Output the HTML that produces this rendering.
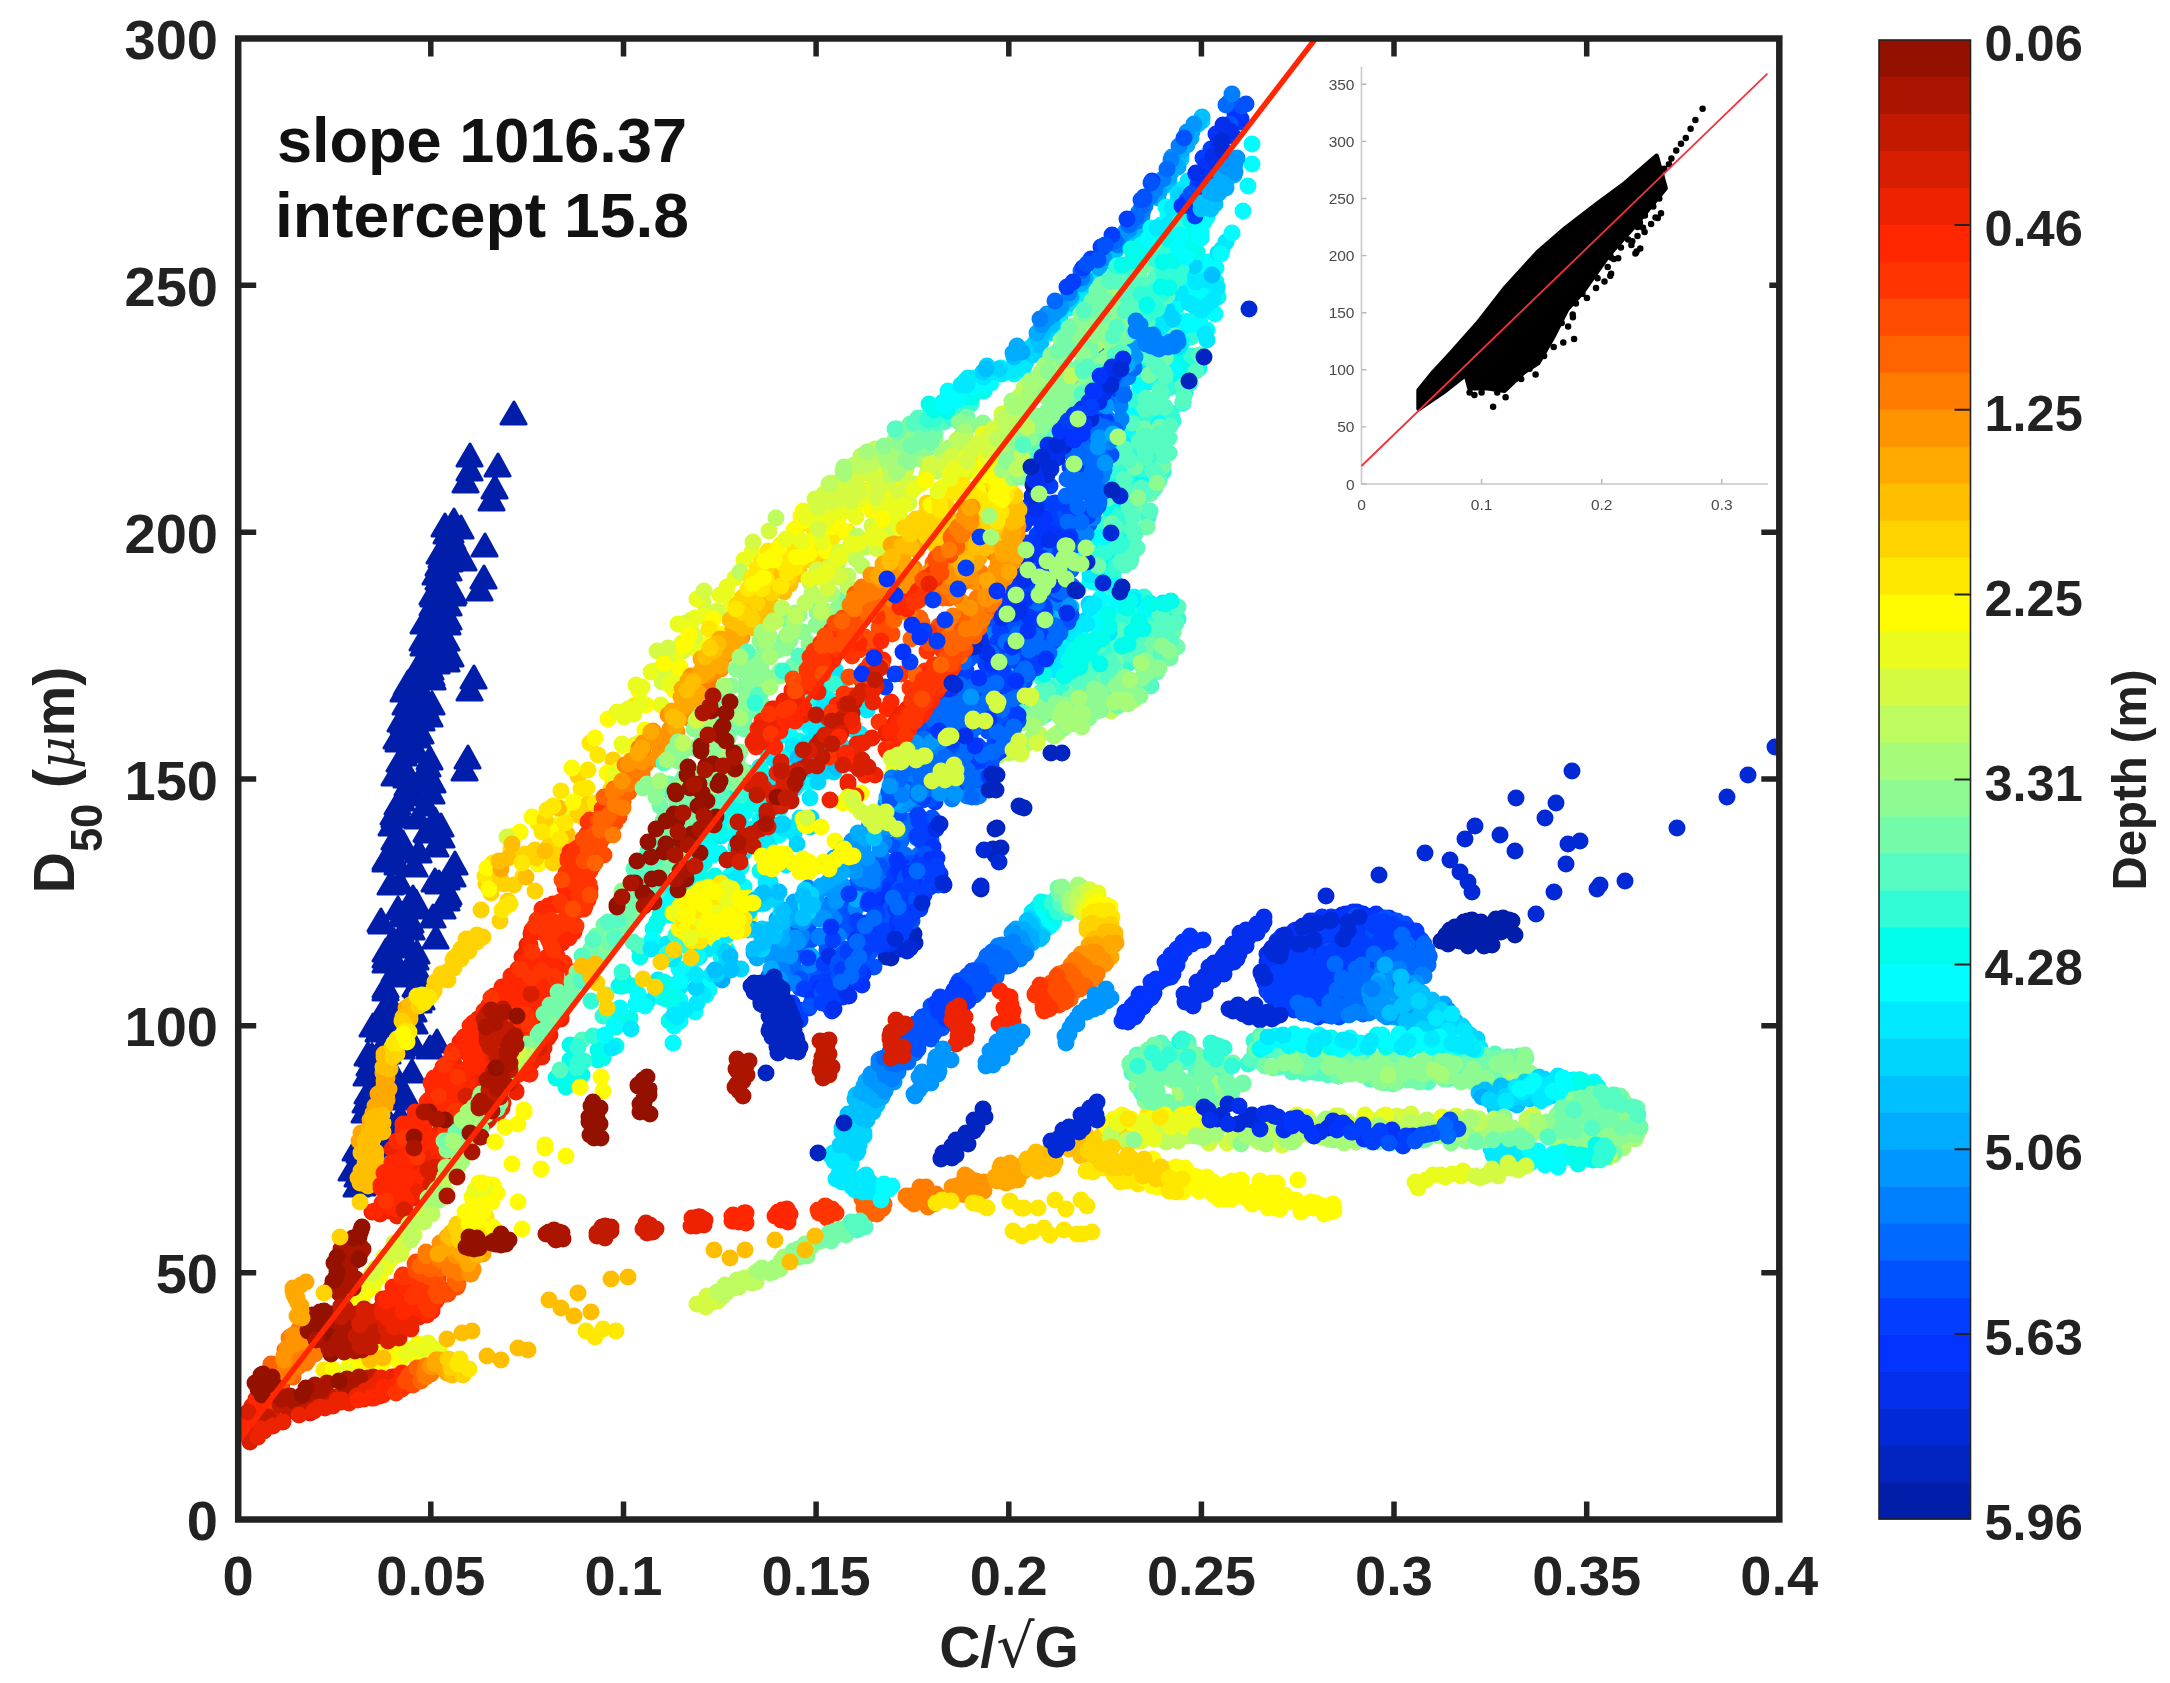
<!DOCTYPE html><html><head><meta charset="utf-8"><title>D50 vs C/sqrt(G)</title>
<style>html,body{margin:0;padding:0;background:#fff}svg{display:block;filter:blur(0.7px)}text{font-family:"Liberation Sans",sans-serif}</style></head><body>
<svg width="2170" height="1683" viewBox="0 0 2170 1683">
<rect width="2170" height="1683" fill="#fff"/>
<defs><clipPath id="cp"><rect x="238.2" y="38.5" width="1541.1" height="1481.0"/></clipPath></defs>
<g fill="none" stroke-linecap="round" stroke-width="17" clip-path="url(#cp)"><path fill="#011eaa" stroke="#011eaa" stroke-width="3" stroke-linejoin="round" d="M357 1174l12 22h-25zM363 1173l12 22h-25zM364 1170l12 22h-25zM358 1164l12 22h-25zM372 1165l12 22h-25zM369 1161l12 22h-25zM365 1156l12 22h-25zM375 1157l12 22h-25zM361 1149l12 22h-25zM363 1145l12 22h-25zM368 1143l12 22h-25zM360 1140l12 22h-25zM371 1137l12 22h-25zM372 1135l12 22h-25zM380 1133l12 22h-25zM376 1129l12 22h-25zM370 1124l12 22h-25zM374 1124l12 22h-25zM377 1121l12 22h-25zM387 1119l12 22h-25zM373 1111l12 22h-25zM383 1111l12 22h-25zM397 1111l12 22h-25zM365 1100l12 22h-25zM401 1106l12 22h-25zM378 1098l12 22h-25zM382 1097l12 22h-25zM366 1090l12 22h-25zM374 1088l12 22h-25zM368 1081l12 22h-25zM403 1087l12 22h-25zM378 1077l12 22h-25zM405 1082l12 22h-25zM374 1072l12 22h-25zM389 1072l12 22h-25zM367 1063l12 22h-25zM394 1066l12 22h-25zM393 1062l12 22h-25zM370 1053l12 22h-25zM412 1060l12 22h-25zM389 1052l12 22h-25zM372 1044l12 22h-25zM377 1047l12 22h-25zM368 1043l12 22h-25zM388 1041l12 22h-25zM402 1036l12 22h-25zM388 1034l12 22h-25zM414 1033l12 22h-25zM395 1028l12 22h-25zM388 1025l12 22h-25zM379 1019l12 22h-25zM398 1017l12 22h-25zM373 1014l12 22h-25zM415 1011l12 22h-25zM390 1009l12 22h-25zM399 1005l12 22h-25zM384 1002l12 22h-25zM414 999l12 22h-25zM409 996l12 22h-25zM391 993l12 22h-25zM388 991l12 22h-25zM419 990l12 22h-25zM422 987l12 22h-25zM386 978l12 22h-25zM386 975l12 22h-25zM418 976l12 22h-25zM416 974l12 22h-25zM423 972l12 22h-25zM402 964l12 22h-25zM395 959l12 22h-25zM399 956l12 22h-25zM417 957l12 22h-25zM386 950l12 22h-25zM386 945l12 22h-25zM416 947l12 22h-25zM386 939l12 22h-25zM417 941l12 22h-25zM405 935l12 22h-25zM392 930l12 22h-25zM394 929l12 22h-25zM405 928l12 22h-25zM402 922l12 22h-25zM436 926l12 22h-25zM412 917l12 22h-25zM382 911l12 22h-25zM381 909l12 22h-25zM411 910l12 22h-25zM402 904l12 22h-25zM433 905l12 22h-25zM398 897l12 22h-25zM416 896l12 22h-25zM443 896l12 22h-25zM416 890l12 22h-25zM413 886l12 22h-25zM447 888l12 22h-25zM448 884l12 22h-25zM449 882l12 22h-25zM391 872l12 22h-25zM400 871l12 22h-25zM439 871l12 22h-25zM435 869l12 22h-25zM447 867l12 22h-25zM453 864l12 22h-25zM455 852l12 22h-25zM415 854l12 22h-25zM398 852l12 22h-25zM386 849l12 22h-25zM386 847l12 22h-25zM419 840l12 22h-25zM436 834l12 22h-25zM403 837l12 22h-25zM403 831l12 22h-25zM442 825l12 22h-25zM395 827l12 22h-25zM428 820l12 22h-25zM427 819l12 22h-25zM441 814l12 22h-25zM392 813l12 22h-25zM435 808l12 22h-25zM418 806l12 22h-25zM395 805l12 22h-25zM394 802l12 22h-25zM399 799l12 22h-25zM426 793l12 22h-25zM398 792l12 22h-25zM402 788l12 22h-25zM415 783l12 22h-25zM432 781l12 22h-25zM410 776l12 22h-25zM408 773l12 22h-25zM433 770l12 22h-25zM422 767l12 22h-25zM407 765l12 22h-25zM395 763l12 22h-25zM399 759l12 22h-25zM428 754l12 22h-25zM403 753l12 22h-25zM400 749l12 22h-25zM430 747l12 22h-25zM404 743l12 22h-25zM408 740l12 22h-25zM412 737l12 22h-25zM414 734l12 22h-25zM399 729l12 22h-25zM397 726l12 22h-25zM418 725l12 22h-25zM421 721l12 22h-25zM412 716l12 22h-25zM404 711l12 22h-25zM401 709l12 22h-25zM422 708l12 22h-25zM405 702l12 22h-25zM430 704l12 22h-25zM422 698l12 22h-25zM426 696l12 22h-25zM406 692l12 22h-25zM432 692l12 22h-25zM425 687l12 22h-25zM404 679l12 22h-25zM422 680l12 22h-25zM407 673l12 22h-25zM408 671l12 22h-25zM414 668l12 22h-25zM425 667l12 22h-25zM433 667l12 22h-25zM432 663l12 22h-25zM418 658l12 22h-25zM431 657l12 22h-25zM420 652l12 22h-25zM437 651l12 22h-25zM429 646l12 22h-25zM447 649l12 22h-25zM451 644l12 22h-25zM446 639l12 22h-25zM424 633l12 22h-25zM423 628l12 22h-25zM435 629l12 22h-25zM447 628l12 22h-25zM443 622l12 22h-25zM435 617l12 22h-25zM436 617l12 22h-25zM424 611l12 22h-25zM448 612l12 22h-25zM449 607l12 22h-25zM445 603l12 22h-25zM434 600l12 22h-25zM442 596l12 22h-25zM433 593l12 22h-25zM449 593l12 22h-25zM434 584l12 22h-25zM433 582l12 22h-25zM453 583l12 22h-25zM454 581l12 22h-25zM449 577l12 22h-25zM443 571l12 22h-25zM439 567l12 22h-25zM436 562l12 22h-25zM441 562l12 22h-25zM441 557l12 22h-25zM449 558l12 22h-25zM439 553l12 22h-25zM450 549l12 22h-25zM464 548l12 22h-25zM442 545l12 22h-25zM440 541l12 22h-25zM453 539l12 22h-25zM450 534l12 22h-25zM449 532l12 22h-25zM447 530l12 22h-25zM453 527l12 22h-25zM447 521l12 22h-25zM451 520l12 22h-25zM461 516l12 22h-25zM445 514l12 22h-25zM454 509l12 22h-25z"/><path fill="#011eaa" stroke="#011eaa" stroke-width="3" stroke-linejoin="round" d="M465 758l12 22h-25zM468 746l12 22h-25zM470 678l12 22h-25zM474 666l12 22h-25zM480 578l12 22h-25zM484 566l12 22h-25zM485 534l12 22h-25zM470 444l12 22h-25zM470 458l12 22h-25zM466 470l12 22h-25zM498 454l12 22h-25zM495 476l12 22h-25zM492 488l12 22h-25zM514 402l12 22h-25zM437 1030l12 22h-25zM430 1036l12 22h-25zM352 1158l12 22h-25zM356 1138l12 22h-25z"/><path stroke="#ffa900" d="M359 1141h0M366 1138h0M361 1133h0M368 1132h0M370 1129h0M370 1126h0M370 1120h0M372 1118h0M376 1118h0M373 1113h0M378 1111h0M375 1106h0M385 1106h0M382 1100h0M387 1100h0M378 1094h0M383 1091h0M389 1089h0M384 1086h0M384 1081h0M387 1078h0M384 1074h0M383 1073h0M410 1014h0M406 1008h0"/><path stroke="#ffbf00" d="M390 1069h0M383 1067h0M389 1061h0M384 1057h0M384 1054h0M410 1019h0M403 1017h0M410 1005h0M412 1004h0"/><path stroke="#ffd300" d="M393 1057h0M397 1054h0M392 1047h0M404 1024h0M402 1021h0M419 1006h0M432 994h0M434 991h0M434 988h0M435 985h0M435 982h0M440 980h0M448 980h0M441 974h0M447 972h0M449 971h0M454 968h0M454 967h0M453 960h0M454 958h0M461 959h0M459 953h0M461 949h0M469 951h0M469 948h0M466 939h0M468 939h0M477 942h0M477 935h0M483 937h0"/><path stroke="#ffe800" d="M394 1043h0M398 1043h0M397 1039h0M409 1032h0M406 1031h0M417 996h0M424 1003h0M422 995h0M429 998h0"/><path stroke="#fffb00" d="M407 1042h0M403 1034h0"/><path stroke="#ffbf00" d="M368 1186h0M360 1183h0M368 1182h0M358 1178h0M362 1175h0M373 1175h0M361 1171h0M371 1169h0M372 1167h0M365 1164h0M370 1162h0M376 1159h0M364 1156h0M361 1153h0M376 1152h0M370 1147h0M372 1147h0M365 1141h0M372 1141h0M373 1139h0M373 1137h0M369 1131h0M383 1132h0M382 1131h0M378 1126h0M381 1126h0M383 1123h0M372 1118h0M376 1116h0M382 1115h0"/><path stroke="#ffd300" d="M500 921h0M481 910h0M508 901h0M491 893h0M486 884h0M504 884h0"/><path stroke="#ffe800" d="M502 910h0M505 907h0M510 904h0M485 876h0M523 876h0M493 863h0M538 864h0M538 857h0M539 852h0M511 849h0M556 826h0M538 823h0"/><path stroke="#fffb00" d="M489 889h0M487 868h0M538 863h0M512 841h0M514 836h0M520 832h0M554 832h0M532 817h0M570 815h0"/><path stroke="#d4fb41" d="M507 837h0"/><path stroke="#eafb1e" d="M563 816h0"/><path stroke="#ffd300" d="M500 877h0M514 885h0M535 891h0M516 855h0M525 854h0M536 858h0M535 850h0M553 863h0M554 850h0M549 846h0M545 820h0M578 815h0M584 818h0M588 804h0M578 776h0M611 789h0M613 760h0"/><path stroke="#ffa900" d="M501 869h0"/><path stroke="#ffbf00" d="M499 861h0M526 877h0M508 858h0M512 844h0M545 851h0M567 844h0M567 834h0M559 808h0"/><path stroke="#ffe800" d="M522 863h0M542 832h0M560 839h0M547 810h0M565 823h0M553 806h0M561 791h0M595 803h0M581 789h0M587 788h0M588 770h0M613 783h0M598 755h0M590 743h0M630 761h0M635 745h0M646 739h0M634 706h0M681 695h0M685 687h0"/><path stroke="#fffb00" d="M573 802h0M572 768h0M607 773h0M619 770h0M595 738h0M623 746h0M608 719h0M645 730h0M646 705h0M639 691h0M674 690h0M705 645h0M720 634h0M710 615h0"/><path stroke="#eafb1e" d="M615 774h0M622 744h0M639 743h0M624 717h0M617 712h0M634 714h0M628 709h0M642 703h0M661 705h0M636 685h0M642 687h0M676 676h0M685 675h0M672 662h0M669 654h0M702 660h0M696 649h0M682 643h0M691 639h0M687 628h0M691 620h0M695 618h0M735 624h0M728 611h0"/><path stroke="#d4fb41" d="M662 682h0M654 671h0M668 663h0M657 651h0M683 651h0M695 636h0M686 623h0M717 611h0M703 602h0"/><path stroke="#00fceb" d="M566 1087h0M556 1078h0M563 1079h0M574 1075h0M582 1075h0M570 1060h0M570 1045h0M598 1060h0M603 1058h0M598 1050h0M601 1042h0M600 1037h0M616 1046h0M616 1027h0M614 1012h0M623 1023h0M630 1018h0M619 986h0M623 986h0M623 979h0M633 986h0M645 1004h0M640 957h0M639 948h0M656 991h0M661 997h0M653 929h0M655 927h0M669 897h0M683 943h0M693 960h0M693 953h0M695 864h0M704 863h0M711 840h0M717 923h0M720 945h0M715 835h0M727 828h0"/><path stroke="#55fbc0" d="M560 1070h0M582 1040h0M606 995h0M633 942h0M641 946h0M674 943h0"/><path stroke="#31fcd6" d="M577 1068h0M578 1062h0M584 1061h0M578 1047h0M593 1036h0M591 1001h0M603 1016h0M622 972h0M657 990h0M654 941h0M688 892h0M725 821h0M729 822h0"/><path stroke="#00e9ff" d="M612 1048h0M631 1029h0M647 1002h0M658 980h0M661 982h0M663 956h0M667 944h0M680 987h0M683 977h0M678 938h0M681 911h0M699 957h0M698 935h0M699 932h0M701 900h0M708 949h0M705 904h0M708 919h0M710 900h0M710 892h0M713 900h0M723 929h0M721 836h0M731 890h0M734 897h0M735 915h0M737 913h0"/><path stroke="#00fdff" d="M605 1035h0M614 1026h0M620 1008h0M636 1004h0M638 994h0M645 1006h0M670 985h0M668 958h0M663 909h0M672 959h0M679 933h0M682 925h0M691 963h0M685 912h0M688 906h0M695 887h0M695 872h0M704 904h0M710 852h0M719 853h0M727 950h0M729 914h0M733 920h0"/><path stroke="#00d5ff" d="M725 917h0"/><path stroke="#00fdff" d="M673 1043h0M669 1021h0M674 1026h0M652 940h0M675 1008h0M680 1021h0M676 1004h0M673 986h0M680 1000h0M680 981h0M679 969h0M663 905h0M695 1012h0M669 915h0M673 892h0M706 995h0M704 982h0M698 956h0M709 990h0M708 982h0M685 904h0M678 878h0M715 970h0M693 896h0M699 912h0M703 908h0M695 870h0M691 841h0M714 900h0M699 852h0M725 926h0M698 844h0M716 890h0M726 914h0M722 898h0M713 855h0M728 891h0M734 902h0M743 916h0M730 876h0M744 904h0M717 821h0M744 887h0M736 862h0M720 820h0M752 899h0M741 867h0M735 836h0M762 904h0M761 895h0M729 800h0M742 815h0M750 829h0M745 812h0M756 833h0M741 792h0M760 832h0M760 820h0M779 835h0M763 794h0M780 809h0M771 776h0M780 787h0M786 798h0M801 783h0M783 735h0M808 782h0M790 736h0M798 722h0M800 722h0M810 728h0M818 700h0M828 699h0M832 701h0M826 683h0M832 676h0M857 702h0"/><path stroke="#00fceb" d="M670 1020h0M666 999h0M664 982h0M675 997h0M657 922h0M660 915h0M674 956h0M658 886h0M663 884h0M664 884h0M666 883h0M682 914h0M680 879h0M676 861h0M713 973h0M683 860h0M704 919h0M694 883h0M721 957h0M721 955h0M695 869h0M728 962h0M700 877h0M692 847h0M705 879h0M710 888h0M715 876h0M702 834h0M737 904h0M714 826h0M720 833h0M736 847h0M740 832h0M732 807h0M760 871h0M731 791h0M758 844h0M747 803h0M751 796h0M767 829h0M758 805h0M766 807h0M760 767h0M767 751h0M768 745h0M788 783h0M790 754h0M799 741h0M817 687h0M825 698h0"/><path stroke="#00e9ff" d="M651 949h0M674 1015h0M677 1017h0M685 1010h0M672 959h0M697 1003h0M703 994h0M684 901h0M712 974h0M695 912h0M736 927h0M736 920h0M725 882h0M742 917h0M737 878h0M757 904h0M744 852h0M764 894h0M766 882h0M770 882h0M766 841h0M769 846h0M765 817h0M786 865h0M773 808h0M784 829h0M794 833h0M774 786h0M783 800h0M797 825h0M800 818h0M774 759h0M791 782h0M795 788h0M788 766h0M795 772h0M810 798h0M793 746h0M812 761h0M811 758h0M808 743h0M795 706h0M808 723h0M815 729h0M823 719h0M841 745h0M824 705h0M828 711h0M846 725h0M854 730h0M860 734h0M838 681h0M835 670h0M852 696h0M846 678h0M867 710h0"/><path stroke="#31fcd6" d="M667 954h0M657 893h0M676 935h0M680 925h0M687 946h0M699 901h0M701 828h0M710 817h0M741 795h0M748 773h0M758 785h0M787 721h0M805 699h0M834 684h0"/><path stroke="#00d5ff" d="M696 988h0M759 903h0M779 825h0M783 824h0M797 844h0M810 827h0M811 818h0M797 781h0M809 769h0M818 782h0M827 771h0M834 772h0M827 744h0M840 762h0M818 715h0M843 753h0M850 721h0M851 703h0"/><path stroke="#00c1ff" d="M798 758h0M836 767h0M844 762h0"/><path stroke="#00acff" d="M816 764h0"/><path stroke="#ffd300" d="M597 983h0M605 996h0M607 1008h0M643 979h0M655 987h0M661 962h0M674 950h0M691 958h0"/><path stroke="#fffb00" d="M697 923h0M698 915h0M688 898h0M684 929h0M679 910h0M718 898h0M730 900h0M726 917h0M680 906h0M673 913h0M713 896h0M705 921h0M734 918h0M733 910h0M684 932h0M720 890h0M728 922h0M687 899h0M739 912h0M728 922h0M679 929h0M702 914h0M725 922h0M707 901h0M675 914h0M690 900h0M724 916h0M708 910h0M736 898h0M686 926h0M714 909h0M694 902h0M688 927h0"/><path stroke="#ffe800" d="M691 912h0M691 919h0M683 922h0"/><path stroke="#eafb1e" d="M717 903h0M720 898h0M699 929h0M678 911h0"/><path stroke="#fffb00" d="M580 1087h0M601 1077h0M603 1091h0M524 1112h0M545 1145h0M518 1124h0"/><path stroke="#fffb00" d="M699 895h0M687 928h0M700 899h0M748 904h0M736 930h0M686 904h0M732 889h0M744 912h0M731 890h0M685 916h0M717 888h0M724 940h0M701 899h0M749 918h0M713 908h0M701 918h0M750 901h0M730 911h0M718 897h0M715 939h0M725 903h0M716 905h0M743 900h0M685 902h0M715 916h0M708 887h0M724 922h0M697 900h0M748 898h0"/><path stroke="#ffe800" d="M695 901h0M692 941h0M700 941h0M723 917h0M743 911h0M736 923h0M702 925h0M709 918h0M698 928h0M721 883h0"/><path stroke="#eafb1e" d="M707 921h0M714 913h0M704 930h0M698 918h0M690 938h0M695 894h0"/><path stroke="#fffb00" d="M765 867h0M781 854h0M803 819h0M821 827h0M843 803h0M861 793h0M835 841h0M808 873h0"/><path stroke="#eafb1e" d="M899 766h0M891 777h0M897 764h0M921 760h0M931 763h0M930 762h0M900 779h0M908 776h0M924 773h0M894 768h0M912 752h0M918 774h0M917 756h0M898 769h0M928 763h0M898 781h0"/><path stroke="#0069ff" d="M769 998h0M769 976h0M776 983h0M777 962h0M787 983h0M795 1013h0M782 937h0M796 980h0M793 964h0M796 971h0M803 975h0M804 953h0M810 978h0M822 989h0M823 959h0M820 936h0M824 940h0M830 904h0M839 919h0M839 899h0M846 924h0M848 926h0M853 934h0M849 900h0M850 902h0M853 908h0M848 869h0M854 907h0M855 865h0M859 891h0M858 869h0M866 892h0M874 876h0M870 824h0M876 876h0M872 814h0M882 881h0M886 902h0M883 859h0M884 864h0M885 863h0M892 813h0M896 845h0M897 859h0M901 841h0M905 855h0M906 830h0M906 821h0M907 825h0M909 821h0M912 824h0M915 827h0M917 838h0M919 855h0M927 790h0M929 794h0M931 840h0M932 794h0M933 771h0"/><path stroke="#0052ff" d="M773 1012h0M777 1024h0M780 1030h0M779 1024h0M783 1030h0M787 1038h0M788 1033h0M782 996h0M788 1021h0M784 1000h0M778 938h0M800 988h0M795 953h0M800 979h0M794 934h0M812 1002h0M813 992h0M812 965h0M817 989h0M808 928h0M815 967h0M811 940h0M818 976h0M819 969h0M822 973h0M827 950h0M825 938h0M822 911h0M829 942h0M833 960h0M830 933h0M834 937h0M835 936h0M836 924h0M839 910h0M847 917h0M850 926h0M848 905h0M856 920h0M856 885h0M861 897h0M873 893h0M881 896h0M880 866h0M893 873h0M892 845h0M902 892h0M899 815h0M908 866h0M911 863h0M911 865h0M921 841h0M921 822h0M923 800h0M924 826h0M932 818h0M935 799h0M936 769h0"/><path stroke="#0080ff" d="M770 995h0M770 976h0M775 999h0M776 994h0M767 930h0M777 960h0M782 970h0M786 980h0M782 936h0M794 983h0M785 935h0M794 942h0M800 940h0M802 936h0M810 965h0M808 888h0M813 910h0M819 937h0M826 961h0M823 936h0M826 908h0M834 955h0M830 911h0M834 919h0M838 936h0M839 896h0M839 886h0M844 849h0M856 908h0M858 876h0M859 869h0M864 899h0M862 879h0M863 848h0M866 837h0M872 881h0M872 867h0M874 872h0M884 843h0M887 829h0M886 804h0M891 805h0M898 880h0M896 798h0M899 832h0M902 784h0M907 804h0M913 803h0M922 784h0M925 787h0M926 765h0M929 787h0M930 772h0M934 740h0"/><path stroke="#0096ff" d="M761 951h0M771 958h0M780 980h0M776 948h0M779 954h0M779 954h0M782 947h0M790 956h0M789 948h0M783 910h0M795 938h0M798 942h0M793 911h0M796 920h0M803 922h0M819 919h0M816 899h0M824 918h0M820 890h0M831 890h0M836 901h0M835 875h0M837 857h0M842 885h0M850 856h0M853 868h0M853 867h0M855 871h0M852 841h0M860 848h0M862 850h0M867 858h0M868 829h0M872 829h0M873 815h0M880 849h0M880 815h0M886 827h0M887 800h0M890 800h0M901 805h0M909 799h0M911 786h0M911 763h0M919 758h0M926 765h0M928 766h0"/><path stroke="#00acff" d="M762 936h0M771 969h0M763 932h0M777 919h0M782 939h0M782 928h0M787 918h0M787 917h0M794 916h0M794 902h0M802 916h0M811 956h0M808 896h0M821 886h0M829 881h0M832 875h0M834 858h0M837 876h0M837 864h0M842 872h0M841 857h0M856 899h0M858 833h0M861 835h0M866 838h0M875 818h0M879 823h0M882 814h0M889 791h0M895 802h0M935 763h0"/><path stroke="#023eff" d="M785 1011h0M792 1003h0M800 1020h0M799 1010h0M804 989h0M809 1008h0M808 958h0M817 983h0M825 981h0M824 964h0M834 978h0M833 940h0M843 964h0M842 956h0M850 952h0M849 894h0M858 937h0M857 921h0M866 923h0M868 904h0M871 903h0M873 919h0M882 900h0M890 885h0M892 886h0M895 875h0M904 871h0M904 877h0M910 870h0M918 872h0M917 836h0M918 837h0M918 815h0M919 821h0M922 859h0M922 840h0M925 830h0M926 845h0M929 858h0M932 832h0M935 802h0"/><path stroke="#0333ff" d="M793 1032h0M813 998h0M820 988h0M823 999h0M824 988h0M831 927h0M847 973h0M856 940h0M869 900h0M873 928h0M877 933h0M879 931h0M883 899h0M891 909h0M890 890h0M897 860h0M899 869h0M902 876h0M906 884h0M905 868h0M907 872h0M913 871h0M913 871h0M933 847h0"/><path stroke="#00c1ff" d="M774 936h0M874 838h0M887 797h0"/><path stroke="#00d5ff" d="M805 890h0M811 895h0"/><path stroke="#032eeb" d="M829 956h0M840 969h0M882 921h0M890 901h0M915 874h0M917 870h0M925 863h0M936 829h0"/><path stroke="#0229d6" d="M869 938h0"/><path stroke="#0224c0" d="M754 983h0M751 986h0M761 983h0M766 983h0M761 988h0M769 987h0M764 989h0M762 995h0M764 995h0M761 1000h0M764 999h0M761 1004h0M763 1005h0M777 1001h0M769 1007h0M769 1007h0M777 1005h0M770 1011h0M777 1011h0M769 1016h0M774 1016h0M785 1013h0M773 1022h0M786 1018h0M783 1021h0M786 1022h0M776 1029h0M791 1024h0M783 1029h0M782 1032h0M788 1032h0M792 1033h0M783 1040h0M780 1043h0M796 1037h0M787 1044h0M797 1041h0M797 1042h0M794 1047h0M800 1047h0"/><path stroke="#0224c0" d="M886 957h0M891 958h0M892 953h0M888 944h0M896 949h0M894 942h0M900 941h0M901 941h0M906 939h0M904 935h0M915 943h0M914 934h0"/><path stroke="#0224c0" d="M774 977h0M773 980h0M755 988h0M754 992h0M770 987h0M778 986h0M766 992h0M760 996h0M782 989h0M782 991h0M761 1002h0M780 996h0M776 1000h0M783 999h0M772 1005h0M776 1005h0M787 1003h0M771 1011h0M773 1012h0M787 1008h0M789 1009h0M786 1013h0M771 1019h0M792 1016h0M772 1023h0M787 1020h0M776 1024h0M770 1028h0M795 1023h0M769 1031h0M774 1032h0M794 1030h0M772 1037h0M782 1036h0M781 1038h0M796 1037h0M790 1039h0M778 1043h0M777 1047h0M782 1046h0M797 1045h0M791 1048h0M778 1053h0M791 1051h0M798 1052h0"/><path stroke="#00acff" d="M722 980h0M732 966h0M757 958h0M754 953h0M752 929h0M797 904h0"/><path stroke="#00e9ff" d="M696 975h0M720 948h0M727 935h0M748 908h0M781 912h0M806 906h0"/><path stroke="#00d5ff" d="M717 974h0M741 969h0M727 959h0M725 952h0M762 949h0M748 930h0M762 929h0M749 912h0M776 926h0M765 903h0M776 900h0M777 892h0M808 912h0"/><path stroke="#00c1ff" d="M715 970h0M731 970h0M730 956h0M754 949h0M761 944h0M764 942h0M759 932h0M771 930h0M777 923h0M782 922h0M755 900h0M783 911h0M763 893h0M803 918h0M779 892h0M808 906h0M803 896h0M813 905h0"/><path stroke="#31fcd6" d="M994 712h0M1003 721h0M1007 701h0M1019 704h0M1020 692h0M1023 705h0M1026 679h0M1030 708h0M1039 699h0M1042 678h0M1042 672h0M1054 687h0M1058 686h0M1063 691h0M1068 671h0M1067 659h0M1078 673h0M1086 662h0M1086 660h0M1089 642h0M1093 658h0M1092 644h0M1094 657h0M1101 641h0M1105 649h0M1108 645h0M1113 652h0M1110 607h0M1119 648h0M1117 622h0M1121 632h0M1119 615h0M1119 615h0M1129 663h0M1124 612h0M1127 623h0M1136 660h0M1137 660h0M1134 631h0M1133 625h0M1137 612h0M1143 644h0M1141 621h0M1145 619h0M1148 632h0M1144 597h0M1155 638h0M1154 616h0M1156 609h0M1158 622h0M1161 647h0M1169 629h0M1174 619h0M1175 615h0M1178 619h0"/><path stroke="#0080ff" d="M988 642h0M991 640h0M994 634h0M995 630h0M997 631h0M1003 621h0M1022 617h0M1024 615h0"/><path stroke="#befb5e" d="M998 756h0M1001 739h0M1009 753h0M1011 747h0M1012 740h0M1016 752h0M1021 745h0M1022 746h0M1025 744h0M1028 743h0M1040 735h0M1058 733h0M1067 718h0M1111 711h0M1120 701h0M1134 700h0"/><path stroke="#00acff" d="M990 652h0M992 655h0M994 653h0M998 670h0M1004 645h0M1009 638h0M1010 649h0M1010 624h0M1011 631h0M1020 644h0M1019 626h0M1026 622h0M1028 621h0M1032 617h0M1036 624h0M1038 628h0M1042 628h0M1042 620h0M1043 618h0M1045 632h0M1051 642h0M1056 615h0"/><path stroke="#0069ff" d="M988 624h0M1006 618h0M1015 618h0"/><path stroke="#00d5ff" d="M993 671h0M1003 650h0M1007 673h0M1009 662h0M1009 664h0M1016 673h0M1026 630h0M1029 658h0M1030 656h0M1030 648h0M1035 633h0M1044 659h0M1044 625h0M1048 644h0M1049 635h0M1050 632h0M1060 635h0M1077 622h0M1081 626h0M1086 620h0M1089 604h0M1091 608h0"/><path stroke="#00fdff" d="M995 693h0M997 681h0M998 686h0M1006 678h0M1009 687h0M1046 670h0M1050 665h0M1054 662h0M1054 643h0M1056 656h0M1062 649h0M1065 665h0M1064 646h0M1064 646h0M1077 656h0M1080 634h0M1082 624h0M1093 611h0M1096 613h0M1099 629h0M1099 620h0M1104 637h0M1102 615h0M1100 599h0M1115 599h0M1121 605h0M1134 597h0M1145 610h0"/><path stroke="#73fba9" d="M999 726h0M1011 735h0M1032 723h0M1032 710h0M1039 695h0M1046 704h0M1048 703h0M1052 709h0M1066 711h0M1069 699h0M1073 718h0M1076 703h0M1076 693h0M1082 692h0M1084 690h0M1090 687h0M1093 672h0M1102 686h0M1104 687h0M1102 669h0M1105 681h0M1105 677h0M1112 699h0M1113 687h0M1118 706h0M1116 661h0M1120 677h0M1121 676h0M1124 685h0M1133 681h0M1138 688h0M1141 651h0M1148 655h0M1148 648h0M1152 661h0M1154 666h0M1154 660h0M1152 634h0M1157 672h0M1160 662h0M1165 644h0M1165 627h0M1170 658h0M1173 647h0M1173 633h0M1177 647h0"/><path stroke="#0096ff" d="M993 648h0M995 637h0M1007 640h0M1008 636h0M1013 633h0M1015 626h0M1018 621h0"/><path stroke="#55fbc0" d="M998 708h0M1006 708h0M1017 706h0M1022 708h0M1023 702h0M1026 713h0M1026 703h0M1037 709h0M1041 692h0M1045 715h0M1047 697h0M1048 691h0M1061 676h0M1069 678h0M1079 682h0M1082 678h0M1084 691h0M1086 678h0M1091 685h0M1090 671h0M1097 664h0M1099 645h0M1108 677h0M1111 662h0M1113 667h0M1115 637h0M1119 646h0M1122 631h0M1130 654h0M1132 653h0M1134 652h0M1138 650h0M1142 665h0M1139 636h0M1151 686h0M1145 628h0M1150 629h0M1157 630h0M1161 653h0M1160 614h0M1161 612h0M1163 621h0M1167 630h0M1171 641h0M1176 623h0M1178 607h0"/><path stroke="#8dfb92" d="M1005 737h0M1014 730h0M1031 716h0M1038 707h0M1039 717h0M1040 718h0M1044 712h0M1048 711h0M1056 703h0M1061 718h0M1064 728h0M1065 710h0M1068 705h0M1069 706h0M1076 704h0M1079 703h0M1088 715h0M1089 718h0M1087 700h0M1094 703h0M1096 711h0M1094 689h0M1099 707h0M1101 710h0M1100 693h0M1116 686h0M1122 701h0M1120 683h0M1122 694h0M1124 678h0M1125 677h0M1129 693h0M1133 694h0M1137 697h0M1139 696h0M1140 696h0M1142 678h0M1145 661h0M1147 673h0M1159 668h0M1162 646h0M1169 651h0"/><path stroke="#a6fb79" d="M1006 748h0M1006 737h0M1005 719h0M1022 723h0M1028 742h0M1031 739h0M1033 726h0M1054 736h0M1060 717h0M1064 709h0M1068 725h0M1076 724h0M1078 714h0M1082 727h0M1079 698h0M1083 714h0M1114 702h0M1117 700h0M1126 700h0M1128 704h0M1130 680h0M1141 663h0"/><path stroke="#00e9ff" d="M1002 681h0M1002 669h0M1014 688h0M1025 673h0M1025 664h0M1039 653h0M1052 670h0M1052 653h0M1054 638h0M1058 661h0M1067 652h0M1069 631h0M1069 629h0M1074 637h0M1079 624h0M1087 624h0M1090 608h0M1094 604h0M1109 633h0M1133 600h0M1163 603h0"/><path stroke="#0052ff" d="M999 623h0"/><path stroke="#00c1ff" d="M1002 651h0M1024 641h0M1025 638h0M1028 636h0M1032 639h0M1032 631h0M1034 647h0M1035 642h0M1036 639h0M1043 623h0M1046 633h0M1055 640h0M1063 612h0M1071 607h0"/><path stroke="#00fceb" d="M1009 685h0M1013 693h0M1015 696h0M1020 686h0M1021 670h0M1044 674h0M1064 676h0M1069 660h0M1071 671h0M1074 667h0M1074 650h0M1076 667h0M1080 667h0M1081 645h0M1082 642h0M1087 654h0M1089 654h0M1093 645h0M1094 640h0M1100 664h0M1102 639h0M1109 627h0M1108 614h0M1122 646h0M1128 644h0M1127 608h0M1132 632h0M1130 601h0M1139 621h0M1143 629h0M1150 603h0M1151 604h0M1165 604h0M1171 601h0"/><path stroke="#d4fb41" d="M1037 743h0"/><path stroke="#00fceb" d="M1078 590h0M1116 585h0M1098 583h0M1090 580h0M1113 578h0M1103 574h0M1102 572h0M1097 570h0M1114 568h0M1108 562h0M1099 559h0M1118 554h0M1104 550h0M1119 547h0M1105 546h0M1102 541h0M1103 540h0M1122 535h0M1098 532h0M1098 532h0M1114 531h0M1123 517h0M1136 511h0M1111 513h0M1112 507h0M1153 490h0M1140 481h0M1148 480h0M1131 474h0M1146 462h0M1140 460h0M1127 459h0M1128 458h0M1122 452h0M1151 432h0M1136 427h0M1126 429h0M1143 423h0M1149 416h0M1183 403h0M1144 412h0M1143 407h0M1148 404h0M1185 392h0M1175 386h0M1177 384h0M1169 385h0M1174 376h0M1146 383h0M1142 383h0M1178 370h0M1182 366h0M1193 359h0M1197 356h0M1177 359h0M1141 367h0M1157 360h0M1147 363h0M1155 354h0M1181 344h0M1151 349h0M1199 330h0M1174 333h0M1170 332h0M1204 311h0M1218 297h0M1177 306h0M1188 298h0M1216 282h0M1158 307h0M1199 283h0M1191 264h0"/><path stroke="#31fcd6" d="M1114 588h0M1111 587h0M1102 578h0M1113 574h0M1116 566h0M1125 565h0M1092 557h0M1127 557h0M1090 553h0M1105 552h0M1120 549h0M1121 545h0M1105 544h0M1109 543h0M1133 540h0M1105 538h0M1116 533h0M1107 526h0M1129 524h0M1103 524h0M1126 521h0M1116 520h0M1148 517h0M1124 515h0M1120 515h0M1138 508h0M1129 508h0M1134 502h0M1112 494h0M1124 490h0M1153 477h0M1126 480h0M1163 472h0M1113 479h0M1149 469h0M1141 469h0M1133 469h0M1119 471h0M1126 468h0M1129 466h0M1158 459h0M1161 448h0M1151 447h0M1134 446h0M1147 442h0M1126 440h0M1149 429h0M1173 421h0M1172 418h0M1165 420h0M1164 416h0M1171 413h0M1130 423h0M1147 417h0M1157 412h0M1155 403h0M1148 403h0M1138 405h0M1131 406h0M1136 404h0M1190 383h0M1169 388h0M1138 393h0M1165 384h0M1165 383h0M1198 369h0M1139 382h0M1192 356h0M1149 368h0M1154 365h0M1166 359h0M1191 337h0M1153 347h0M1188 331h0M1196 319h0M1185 321h0M1205 298h0M1213 267h0M1167 292h0M1185 274h0"/><path stroke="#00fdff" d="M1115 586h0M1093 582h0M1100 579h0M1096 571h0M1093 566h0M1085 551h0M1086 549h0M1094 537h0M1104 537h0M1151 483h0M1115 487h0M1132 435h0M1159 424h0M1130 416h0M1157 384h0M1199 368h0M1140 386h0M1174 368h0M1203 356h0M1160 362h0M1157 358h0M1143 361h0M1152 356h0M1181 342h0M1207 330h0M1200 323h0M1180 330h0M1191 325h0M1215 314h0M1176 328h0M1188 322h0M1174 327h0M1182 322h0M1209 307h0M1202 307h0M1200 304h0M1199 302h0M1196 302h0M1217 287h0M1182 300h0M1165 307h0M1202 288h0M1190 292h0M1210 282h0M1216 268h0M1205 275h0M1209 271h0M1168 294h0M1169 290h0M1204 268h0M1189 276h0M1179 282h0M1208 262h0M1183 277h0M1197 262h0"/><path stroke="#00e9ff" d="M1090 575h0M1090 568h0M1125 501h0M1123 443h0M1150 369h0M1207 340h0M1179 347h0M1205 334h0M1174 341h0M1178 337h0M1147 345h0M1157 330h0M1201 310h0M1206 306h0M1167 323h0M1213 300h0M1194 306h0M1154 322h0M1169 314h0M1189 303h0M1217 288h0M1157 314h0M1210 280h0M1207 280h0M1180 292h0M1196 282h0M1176 293h0M1169 292h0M1173 284h0M1218 253h0M1222 249h0M1182 273h0M1226 242h0"/><path stroke="#73fba9" d="M1098 566h0M1147 527h0M1112 524h0M1134 508h0M1136 503h0M1150 494h0M1163 466h0M1135 467h0M1159 446h0M1160 427h0M1144 429h0M1164 373h0M1149 375h0M1165 358h0"/><path stroke="#55fbc0" d="M1125 565h0M1121 562h0M1130 562h0M1131 559h0M1131 558h0M1137 548h0M1135 534h0M1132 529h0M1115 527h0M1133 517h0M1150 511h0M1129 507h0M1135 501h0M1140 498h0M1144 495h0M1108 498h0M1130 493h0M1155 488h0M1141 488h0M1159 481h0M1156 474h0M1124 479h0M1153 471h0M1164 456h0M1169 453h0M1145 457h0M1129 460h0M1145 453h0M1118 457h0M1148 449h0M1158 443h0M1125 449h0M1169 438h0M1141 442h0M1161 435h0M1139 441h0M1160 434h0M1145 436h0M1170 426h0M1132 423h0M1183 402h0M1165 407h0M1154 407h0M1145 409h0M1184 396h0M1162 394h0M1146 398h0M1183 386h0M1160 389h0M1196 371h0M1165 376h0M1200 355h0M1159 368h0M1150 359h0M1150 353h0M1175 336h0M1150 345h0"/><path stroke="#8dfb92" d="M1138 498h0M1157 483h0"/><path stroke="#00d5ff" d="M1173 319h0M1167 310h0M1194 266h0"/><path stroke="#00c1ff" d="M1212 275h0"/><path stroke="#0052ff" d="M890 800h0M930 799h0M900 794h0M919 792h0M889 792h0M981 791h0M974 787h0M968 785h0M914 778h0M948 776h0M970 772h0M968 769h0M990 767h0M991 766h0M987 764h0M976 761h0M948 760h0M992 759h0M984 758h0M979 754h0M996 754h0M982 751h0M983 750h0M948 749h0M954 748h0M938 747h0M978 746h0M995 740h0M962 739h0M999 738h0M918 735h0M1001 734h0M934 731h0M988 731h0M956 727h0M924 725h0M990 723h0M1007 721h0M1018 721h0M969 720h0M996 717h0M949 716h0M946 715h0M957 711h0M946 710h0M945 709h0M969 706h0M1001 703h0M956 702h0M987 702h0M1009 701h0M943 699h0M978 698h0M1028 697h0M1020 696h0M1013 695h0M999 694h0M1021 691h0M990 690h0M993 689h0M948 688h0M1014 687h0M1024 682h0M959 681h0M1012 679h0M1017 678h0M992 676h0M963 673h0M966 670h0M1036 668h0M1024 668h0M1003 667h0M1026 664h0M1006 662h0M969 659h0M992 658h0M1035 655h0M978 655h0M1025 652h0M1022 649h0M1023 643h0M1052 642h0M1054 640h0M1055 637h0M999 637h0M1058 629h0M1032 629h0M985 628h0M1006 627h0M1047 626h0M1016 625h0M1034 625h0M1005 623h0M1006 623h0M1068 622h0M1002 622h0M998 620h0M1027 619h0M1044 619h0M1036 616h0M1071 615h0M1045 613h0M1070 612h0M1044 608h0M1022 606h0M1053 601h0M1011 601h0M1046 599h0M1020 599h0M1007 598h0M1005 595h0M1028 589h0M1056 582h0M1061 578h0M1044 575h0M1042 574h0M1025 570h0M1060 563h0M1043 553h0M1060 551h0M1053 547h0M1075 545h0M1080 541h0M1070 538h0M1074 533h0M1046 531h0M1055 530h0M1060 528h0M1057 525h0M1051 524h0M1089 524h0M1061 520h0M1080 516h0M1060 513h0M1066 511h0M1049 504h0M1098 506h0M1065 500h0M1039 482h0M1090 484h0M1074 482h0M1074 481h0M1079 477h0M1089 477h0M1084 473h0M1046 469h0M1087 466h0M1084 464h0M1041 459h0M1049 459h0M1111 455h0M1092 451h0M1062 446h0M1062 445h0M1072 441h0M1057 437h0M1092 439h0M1085 433h0M1069 427h0M1092 427h0M1077 422h0M1064 418h0M1096 419h0M1061 412h0M1088 411h0M1067 407h0M1086 407h0M1089 402h0M1075 397h0M1105 399h0M1115 397h0M1091 390h0M1107 386h0M1105 381h0M1087 377h0M1108 375h0M1089 361h0M1094 360h0M1113 347h0M1116 345h0M1101 341h0M1111 334h0M1108 329h0M1117 327h0M1115 325h0M1114 322h0M1119 318h0"/><path stroke="#0080ff" d="M952 799h0M976 797h0M967 796h0M979 796h0M902 795h0M929 789h0M924 785h0M954 781h0M945 780h0M892 778h0M979 776h0M913 774h0M940 773h0M905 770h0M911 768h0M953 766h0M930 762h0M922 757h0M916 755h0M939 752h0M918 751h0M913 748h0M946 724h0M954 723h0M999 696h0M1024 672h0M1002 658h0M1033 636h0M992 635h0M1058 603h0M1032 602h0M1071 591h0M1069 588h0M1071 587h0M1069 559h0M1086 534h0M1084 532h0M1093 518h0M1093 504h0M1064 502h0M1072 500h0M1095 500h0M1100 493h0M1101 490h0M1075 486h0M1102 476h0M1104 470h0M1104 467h0M1109 442h0M1108 438h0M1102 430h0M1110 428h0M1118 425h0M1091 422h0M1107 418h0M1121 419h0M1098 414h0M1120 406h0M1104 403h0M1108 401h0M1080 396h0M1114 393h0M1121 389h0M1119 388h0M1122 388h0M1128 377h0M1126 375h0M1124 372h0M1121 353h0M1132 352h0M1134 339h0M1114 335h0M1104 331h0M1112 328h0M1131 322h0"/><path stroke="#023eff" d="M923 798h0M960 782h0M946 775h0M970 773h0M948 771h0M979 761h0M1000 751h0M1000 745h0M1000 744h0M999 742h0M952 741h0M928 738h0M947 733h0M938 732h0M969 730h0M1008 730h0M968 728h0M979 725h0M947 721h0M982 718h0M1018 715h0M1014 712h0M977 708h0M977 705h0M997 700h0M950 694h0M947 693h0M981 693h0M1006 686h0M961 681h0M997 680h0M966 677h0M997 676h0M1028 674h0M1002 673h0M1003 671h0M965 671h0M1034 666h0M993 666h0M986 664h0M1019 663h0M1033 661h0M992 661h0M992 656h0M1046 655h0M1019 651h0M1009 650h0M995 647h0M1002 646h0M1002 645h0M1001 644h0M998 641h0M1024 633h0M1042 632h0M1000 630h0M1030 630h0M1046 621h0M1040 617h0M1042 615h0M996 610h0M1044 607h0M1058 594h0M1057 589h0M1035 585h0M1036 582h0M1030 582h0M1036 578h0M1022 578h0M1048 572h0M1032 569h0M1030 568h0M1037 567h0M1039 566h0M1028 561h0M1055 559h0M1023 559h0M1030 551h0M1059 549h0M1066 547h0M1027 547h0M1057 545h0M1024 544h0M1027 543h0M1067 538h0M1058 537h0M1037 535h0M1043 530h0M1046 529h0M1058 528h0M1050 518h0M1029 515h0M1088 516h0M1083 515h0M1043 512h0M1044 509h0M1078 510h0M1029 506h0M1068 507h0M1055 503h0M1034 495h0M1038 491h0M1050 486h0M1040 482h0M1036 470h0M1076 468h0M1070 467h0M1087 456h0M1065 450h0M1077 446h0M1085 442h0M1047 438h0M1065 434h0M1073 433h0M1084 431h0M1106 421h0M1102 420h0M1067 415h0M1080 413h0M1062 407h0M1068 406h0M1085 406h0M1074 394h0M1092 394h0M1072 391h0M1110 390h0M1090 381h0M1079 378h0M1078 375h0M1120 360h0M1101 356h0M1116 330h0"/><path stroke="#0069ff" d="M972 797h0M918 795h0M918 790h0M943 790h0M926 789h0M941 788h0M919 788h0M952 784h0M891 784h0M950 783h0M932 783h0M969 782h0M900 779h0M977 778h0M921 777h0M948 773h0M938 771h0M967 770h0M908 768h0M923 767h0M930 765h0M941 765h0M929 764h0M936 763h0M917 762h0M961 759h0M926 758h0M945 757h0M908 756h0M982 755h0M965 755h0M993 752h0M917 747h0M1003 746h0M968 744h0M914 740h0M924 739h0M941 737h0M970 737h0M947 735h0M1005 735h0M997 732h0M975 728h0M962 727h0M1014 727h0M951 723h0M947 722h0M933 719h0M985 718h0M969 716h0M986 714h0M989 713h0M934 712h0M959 712h0M948 709h0M1002 709h0M973 707h0M957 706h0M947 705h0M955 704h0M985 703h0M963 701h0M1013 699h0M966 692h0M989 691h0M972 687h0M983 685h0M960 685h0M983 684h0M996 683h0M1018 683h0M1027 674h0M1023 672h0M1025 669h0M964 662h0M1012 657h0M1049 653h0M991 653h0M1029 650h0M1042 648h0M1006 642h0M1024 639h0M1055 638h0M1036 636h0M1018 634h0M1060 633h0M1055 626h0M1066 610h0M1037 603h0M1039 593h0M1062 592h0M1057 590h0M1072 586h0M1053 583h0M1071 570h0M1032 563h0M1068 553h0M1044 551h0M1068 522h0M1081 522h0M1043 517h0M1095 510h0M1078 507h0M1099 502h0M1092 499h0M1099 498h0M1066 496h0M1090 495h0M1076 493h0M1085 492h0M1103 492h0M1076 489h0M1096 488h0M1088 486h0M1073 482h0M1079 480h0M1067 479h0M1093 479h0M1072 476h0M1095 476h0M1092 472h0M1073 465h0M1098 465h0M1097 461h0M1089 459h0M1102 459h0M1081 457h0M1073 455h0M1079 453h0M1091 454h0M1093 450h0M1078 444h0M1081 444h0M1066 442h0M1098 439h0M1095 434h0M1074 429h0M1109 430h0M1115 430h0M1104 427h0M1096 424h0M1087 412h0M1078 405h0M1095 406h0M1107 402h0M1090 399h0M1124 395h0M1081 389h0M1103 385h0M1079 382h0M1089 381h0M1092 377h0M1115 377h0M1098 372h0M1112 371h0M1119 371h0M1111 369h0M1116 368h0M1134 368h0M1132 367h0M1095 362h0M1117 360h0M1122 355h0M1128 354h0M1096 350h0M1097 348h0M1127 349h0M1118 345h0M1130 343h0M1132 333h0M1139 320h0"/><path stroke="#0096ff" d="M955 794h0M919 793h0M940 793h0M939 786h0M890 786h0M942 780h0M916 743h0M932 742h0M971 697h0M1069 607h0M1105 463h0M1098 447h0M1099 438h0M1106 406h0M1131 359h0M1135 357h0M1126 345h0M1136 341h0M1136 338h0M1131 337h0M1118 324h0"/><path stroke="#0333ff" d="M989 776h0M975 746h0M939 731h0M989 719h0M949 689h0M1016 681h0M979 678h0M992 664h0M1046 659h0M1012 647h0M980 638h0M1028 631h0M1029 617h0M1013 614h0M999 609h0M999 606h0M1021 605h0M1026 599h0M1004 597h0M1011 597h0M1053 585h0M1014 582h0M1037 572h0M1029 571h0M1021 565h0M1042 558h0M1031 555h0M1037 542h0M1070 537h0M1054 534h0M1042 526h0M1024 524h0M1028 519h0M1044 518h0M1036 506h0M1035 499h0M1040 488h0M1051 469h0M1038 467h0M1036 463h0M1044 457h0M1053 446h0M1082 434h0M1067 409h0"/><path stroke="#032eeb" d="M965 736h0M987 653h0M981 643h0M1002 618h0M1067 613h0M1019 611h0M1024 580h0M1024 576h0M1026 557h0M1049 540h0M1036 509h0M1036 493h0M1035 475h0M1046 451h0"/><path stroke="#0229d6" d="M974 647h0M1043 455h0"/><path stroke="#00acff" d="M1113 434h0M1127 365h0"/><path stroke="#0229d6" d="M1032 479h0M1047 475h0M1057 458h0M1082 400h0M1099 381h0M1111 367h0M1091 419h0M1064 446h0M1032 496h0M1103 583h0M1087 562h0M1111 533h0M1120 496h0"/><path stroke="#ed2200" d="M830 800h0M774 798h0M776 793h0M764 788h0M848 784h0M848 782h0M796 778h0M875 775h0M777 773h0M859 758h0M834 755h0M887 751h0M857 744h0M863 743h0M872 738h0M828 718h0M803 715h0M873 702h0M818 692h0"/><path stroke="#ff2600" d="M856 796h0M790 792h0M865 775h0M853 764h0M846 753h0M886 749h0M775 747h0M895 742h0M893 739h0M886 734h0M839 728h0M853 726h0M898 723h0M795 721h0M917 718h0M887 709h0M804 708h0M837 705h0M891 702h0M852 696h0M869 683h0M883 660h0M875 654h0"/><path stroke="#d81e00" d="M763 790h0M750 784h0M760 780h0M784 771h0M859 769h0M868 767h0M843 765h0M781 762h0M862 760h0"/><path stroke="#c21a00" d="M793 786h0"/><path stroke="#ff3400" d="M829 757h0M889 736h0M888 731h0M909 729h0M879 722h0M832 712h0M912 700h0M854 697h0M844 694h0M925 690h0M910 688h0M862 681h0M901 674h0M925 671h0M865 670h0M942 665h0M870 664h0M948 661h0M852 656h0M927 651h0M859 650h0M862 648h0"/><path stroke="#ff4c00" d="M848 710h0M941 685h0M863 680h0M849 677h0M882 667h0"/><path stroke="#ff6400" d="M916 675h0M960 656h0M945 646h0"/><path stroke="#ff4c00" d="M929 643h0M866 641h0M873 640h0M865 637h0M946 636h0M892 634h0M920 634h0M944 632h0M879 628h0M921 628h0M939 626h0M885 623h0M971 622h0M888 618h0"/><path stroke="#ff2600" d="M859 643h0M881 641h0"/><path stroke="#ff6400" d="M911 639h0M958 639h0M949 636h0M921 631h0M979 628h0M959 624h0M922 623h0M913 621h0M894 620h0M920 618h0M959 616h0M986 613h0M986 612h0M969 611h0M884 609h0M890 608h0M968 608h0M988 608h0M971 606h0M889 603h0M916 602h0M916 598h0M945 593h0M944 590h0M941 585h0M915 582h0M933 563h0"/><path stroke="#ff3400" d="M929 632h0M877 616h0"/><path stroke="#ff7c00" d="M953 630h0M972 626h0M953 616h0M984 615h0M908 613h0M978 602h0M892 599h0M958 598h0M987 596h0M929 592h0M918 591h0M938 588h0M921 581h0M970 579h0M960 577h0M995 577h0M981 573h0M967 571h0M914 568h0M942 568h0M971 563h0M992 552h0"/><path stroke="#ff9300" d="M969 606h0M963 603h0M910 597h0M947 595h0M947 594h0M909 588h0M998 588h0M910 585h0M959 584h0M975 582h0M906 577h0M958 575h0M1003 575h0M929 572h0M911 568h0M966 567h0M954 565h0M1013 562h0M1015 558h0M1012 552h0M982 549h0M1001 543h0M1014 529h0"/><path stroke="#ffa900" d="M953 580h0M970 562h0M956 558h0M969 556h0M941 553h0M939 553h0M982 545h0M1014 544h0M943 540h0M1008 539h0M1017 530h0M1016 522h0"/><path stroke="#ffbf00" d="M962 565h0M961 560h0M958 555h0M1003 549h0M997 548h0M967 541h0M994 536h0M979 526h0M993 518h0M979 515h0M1007 508h0M1012 504h0"/><path stroke="#ffd300" d="M936 546h0M1007 538h0M956 535h0M941 533h0M965 532h0M956 528h0M954 525h0M956 522h0M964 520h0M990 516h0M974 514h0M975 512h0M986 508h0M988 501h0M972 501h0M1009 497h0M999 486h0"/><path stroke="#ffe800" d="M995 525h0M985 510h0M966 504h0M981 495h0M970 492h0M975 489h0M985 474h0"/><path stroke="#fffb00" d="M987 485h0M981 481h0"/><path stroke="#ed2200" d="M886 733h0M896 731h0M895 723h0M901 714h0M907 709h0M926 708h0M944 664h0"/><path stroke="#ff2600" d="M900 742h0M890 732h0M896 734h0M902 738h0M897 727h0M903 728h0M899 722h0M904 726h0M909 728h0M910 724h0M907 716h0M908 713h0M915 711h0M922 715h0M924 711h0M920 703h0M924 703h0M931 701h0M932 699h0M927 691h0M937 691h0M934 684h0M941 685h0M930 673h0M941 677h0M938 672h0M945 675h0M950 662h0"/><path stroke="#ff3400" d="M905 736h0M905 722h0M915 721h0M910 715h0M916 715h0M918 710h0M912 701h0M925 702h0M920 695h0M923 694h0M919 688h0M931 691h0M931 690h0M923 680h0M931 684h0M940 686h0M931 677h0M942 681h0M946 675h0M934 665h0M940 666h0M951 670h0M953 667h0M947 656h0M943 651h0M960 650h0M955 646h0M967 627h0"/><path stroke="#ff4c00" d="M922 699h0M951 664h0M946 658h0M953 656h0M956 655h0M957 655h0M957 653h0M951 640h0M965 649h0M960 640h0M963 639h0M962 630h0M970 627h0"/><path stroke="#ff6400" d="M941 665h0M952 648h0M953 639h0M963 643h0M960 636h0M966 638h0M964 634h0M971 635h0M974 636h0M967 622h0M971 622h0M973 622h0M971 618h0M979 615h0M979 613h0M975 608h0M984 608h0M988 594h0M988 588h0"/><path stroke="#ff7c00" d="M966 629h0M974 628h0M978 621h0M980 621h0M982 620h0M976 608h0M979 607h0M977 602h0M976 600h0M977 598h0M991 604h0M985 597h0M994 600h0M993 592h0M992 587h0M998 589h0M997 582h0M1001 581h0M1002 580h0M1001 559h0M1004 558h0M1018 549h0"/><path stroke="#ff9300" d="M970 608h0M986 599h0M986 594h0M994 595h0M990 587h0M999 584h0M994 579h0M1005 578h0M1004 577h0M996 570h0M1005 575h0M1007 574h0M998 565h0M999 564h0M1004 564h0M998 560h0M1002 555h0M1007 554h0M1004 553h0M1018 552h0M1017 548h0M1011 543h0M1013 541h0M1011 539h0M1017 534h0M1013 530h0M1003 528h0M1018 526h0M1015 524h0M1010 517h0"/><path stroke="#ffa900" d="M987 580h0M1009 572h0M1003 554h0M1016 556h0M1002 549h0M1016 546h0M1014 542h0M1009 536h0M1009 536h0M1013 532h0M1007 527h0M1004 515h0M1005 512h0"/><path stroke="#ffbf00" d="M1012 522h0M1013 522h0M1017 520h0M1003 516h0M1014 511h0M1019 510h0M1009 509h0M1005 506h0M1016 506h0M1014 503h0M1012 501h0M1012 499h0M1001 503h0M1012 493h0M1005 492h0M1005 490h0M1009 487h0"/><path stroke="#ffd300" d="M1015 496h0M1007 497h0M1003 496h0M999 490h0M1004 483h0M994 488h0M990 479h0M1000 471h0M992 461h0"/><path stroke="#ffe800" d="M1010 485h0M1006 478h0M1003 479h0M994 483h0M1000 477h0M999 476h0M990 475h0M996 470h0M986 470h0M989 466h0"/><path stroke="#fffb00" d="M985 475h0M983 475h0M989 468h0M993 459h0"/><path stroke="#ff6400" d="M943 598h0M949 598h0M947 594h0M955 596h0M952 584h0"/><path stroke="#ff7c00" d="M954 596h0M946 587h0M948 585h0M958 587h0M955 583h0M964 582h0"/><path stroke="#ff9300" d="M953 578h0M960 580h0M962 576h0M967 577h0M965 573h0M968 567h0M971 568h0"/><path stroke="#ffa900" d="M963 570h0M964 569h0M967 563h0M975 563h0M976 561h0M979 558h0M976 556h0M973 550h0M975 550h0M980 550h0M986 543h0"/><path stroke="#ffbf00" d="M966 559h0M976 547h0M985 548h0M979 543h0M983 539h0M979 535h0M989 539h0M984 533h0M990 533h0M987 531h0M995 530h0M997 518h0M994 514h0"/><path stroke="#ffd300" d="M985 526h0M991 526h0M996 525h0M995 521h0M996 510h0M996 507h0M999 495h0"/><path stroke="#ffe800" d="M997 521h0M996 514h0M1001 512h0M992 504h0M999 503h0M994 499h0M1006 495h0M997 489h0"/><path stroke="#fffb00" d="M1002 500h0M996 495h0M1003 489h0M1003 487h0M1009 482h0M1004 485h0M1003 481h0M1005 479h0M996 481h0M1003 473h0M1000 473h0M996 473h0M993 472h0"/><path stroke="#ff2600" d="M900 607h0M907 609h0M904 602h0M910 603h0M913 602h0M914 597h0M922 596h0M918 591h0M924 590h0M923 586h0"/><path stroke="#ff3400" d="M913 602h0M919 600h0M924 594h0M926 578h0M928 578h0M935 579h0M932 574h0M951 549h0"/><path stroke="#ff4c00" d="M923 580h0M938 574h0M941 573h0M938 569h0M940 565h0M936 561h0M936 558h0M939 556h0M945 554h0M950 555h0"/><path stroke="#ed2200" d="M929 584h0"/><path stroke="#ff6400" d="M940 554h0M952 547h0M957 547h0M952 541h0M951 537h0M957 539h0M953 534h0M963 524h0M968 523h0"/><path stroke="#ff7c00" d="M949 550h0M962 535h0M957 529h0M958 527h0M967 529h0"/><path stroke="#ff9300" d="M971 523h0M964 517h0M971 518h0M969 513h0M966 509h0M972 507h0"/><path stroke="#ffa900" d="M970 508h0"/><path stroke="#023eff" d="M933 600h0M945 620h0M958 589h0M966 568h0M924 631h0M895 674h0M885 687h0M910 662h0M937 641h0M980 537h0"/><path stroke="#eafb1e" d="M651 672h0M669 684h0M678 651h0M687 642h0M678 624h0M690 626h0M703 616h0M697 599h0M720 595h0M728 597h0M727 587h0M735 578h0M744 560h0M752 552h0"/><path stroke="#d4fb41" d="M664 668h0M668 648h0M704 591h0M753 542h0M769 531h0"/><path stroke="#fffb00" d="M664 664h0M680 667h0M684 646h0M689 635h0M713 619h0"/><path stroke="#ffe800" d="M709 629h0"/><path stroke="#befb5e" d="M740 572h0M776 518h0"/><path stroke="#ed2200" d="M545 1010h0M532 999h0M525 992h0M521 982h0M544 994h0M529 973h0M522 957h0M525 958h0M546 970h0M526 952h0M527 945h0M556 961h0M531 934h0M562 943h0M563 935h0M567 931h0M569 922h0M567 898h0M587 897h0"/><path stroke="#ff2600" d="M526 991h0M515 981h0M531 992h0M550 1000h0M544 991h0M531 980h0M531 979h0M533 980h0M544 983h0M548 985h0M530 970h0M543 979h0M532 969h0M525 962h0M532 961h0M531 958h0M544 964h0M551 968h0M557 970h0M546 958h0M530 945h0M554 961h0M551 955h0M563 964h0M557 956h0M552 948h0M551 946h0M532 930h0M536 932h0M543 932h0M551 934h0M558 937h0M553 930h0M565 938h0M569 938h0M556 923h0M542 909h0M574 932h0M570 926h0M548 906h0M572 921h0M553 904h0M558 905h0M563 903h0M566 901h0M576 907h0M579 906h0M568 894h0M585 906h0M565 888h0M579 899h0M576 894h0M588 900h0M572 876h0M580 881h0M590 889h0M568 858h0M570 852h0M593 865h0M594 853h0"/><path stroke="#ff3400" d="M519 983h0M537 992h0M535 991h0M532 985h0M539 983h0M548 979h0M552 972h0M532 952h0M559 966h0M564 963h0M553 950h0M549 941h0M547 937h0M535 926h0M546 932h0M537 920h0M554 930h0M558 927h0M551 920h0M562 922h0M566 923h0M576 926h0M570 917h0M570 913h0M564 907h0M560 902h0M578 910h0M584 909h0M579 896h0M578 888h0M575 883h0M566 873h0M579 878h0M589 884h0M571 867h0M584 875h0M568 861h0M570 859h0M570 858h0M577 862h0M590 871h0M584 862h0M592 867h0M576 849h0M579 847h0M586 852h0M595 859h0M593 849h0M594 845h0M587 834h0M594 833h0M588 822h0M590 820h0M610 821h0M602 809h0"/><path stroke="#ff4c00" d="M573 909h0M562 880h0M590 895h0M584 861h0M588 849h0M583 839h0M604 855h0M591 842h0M588 837h0M600 843h0M594 835h0M595 833h0M603 838h0M604 830h0M604 828h0M598 819h0M615 823h0M612 814h0M616 816h0M619 817h0M613 809h0M623 795h0"/><path stroke="#ff6400" d="M595 863h0M600 830h0M601 819h0M603 819h0M606 819h0M609 815h0M604 797h0M615 804h0M620 802h0M623 802h0M614 789h0M622 789h0M622 787h0M629 792h0M633 785h0M635 779h0M640 765h0M665 748h0"/><path stroke="#ff7c00" d="M613 835h0M615 805h0M623 808h0M613 792h0M618 788h0M628 784h0M631 781h0M632 781h0M632 775h0M625 765h0M642 775h0M642 773h0M646 764h0M643 753h0M639 748h0M669 738h0M671 739h0M670 731h0M681 715h0M688 718h0M708 689h0M705 683h0M709 683h0M711 666h0"/><path stroke="#ff9300" d="M622 781h0M628 764h0M631 761h0M637 760h0M642 762h0M656 759h0M643 743h0M646 742h0M661 754h0M660 752h0M652 742h0M661 746h0M653 731h0M663 737h0M663 737h0M672 737h0M670 729h0M677 732h0M675 725h0M668 715h0M682 711h0M690 714h0M683 702h0M684 697h0M695 707h0M691 676h0M708 675h0M715 672h0M721 669h0M726 655h0M737 650h0M735 647h0M737 646h0M742 637h0"/><path stroke="#ffa900" d="M638 753h0M642 748h0M651 732h0M675 727h0M672 711h0M675 712h0M685 706h0M681 697h0M696 704h0M682 689h0M700 699h0M698 696h0M699 693h0M688 681h0M694 681h0M701 676h0M701 671h0M706 672h0M708 671h0M701 659h0M721 666h0M716 658h0M712 653h0M729 651h0M720 639h0M724 640h0M732 638h0M734 638h0M740 641h0M733 633h0M733 629h0M736 629h0M737 619h0M742 622h0M746 611h0M749 605h0"/><path stroke="#ffbf00" d="M673 717h0M678 720h0M687 690h0M693 682h0M705 657h0M714 651h0M713 646h0M716 644h0M718 644h0M730 620h0M735 623h0M743 628h0M743 621h0M753 628h0M756 618h0M759 618h0M747 606h0M750 602h0M766 614h0M749 598h0M768 605h0M773 606h0M768 602h0M784 592h0M781 587h0M770 576h0M770 570h0M790 584h0M783 574h0M787 577h0M800 574h0M782 554h0M799 564h0M817 548h0"/><path stroke="#ffd300" d="M710 648h0M743 613h0M737 605h0M752 619h0M743 597h0M757 603h0M751 594h0M751 594h0M753 583h0M772 593h0M764 585h0M763 581h0M774 589h0M766 570h0M789 578h0M791 569h0M798 567h0M781 545h0M798 557h0M807 560h0M805 558h0M797 548h0M816 558h0M818 547h0M825 553h0M817 540h0"/><path stroke="#ffe800" d="M736 609h0M748 589h0M762 589h0M751 578h0M754 580h0M766 579h0M757 569h0M781 586h0M761 563h0M764 562h0M787 573h0M782 563h0M768 551h0M776 553h0M795 568h0M785 554h0M780 546h0M802 558h0M806 554h0M794 540h0M796 538h0M797 537h0M813 549h0M812 547h0M797 528h0M825 546h0M827 543h0M813 528h0M832 538h0M840 532h0M848 532h0"/><path stroke="#fffb00" d="M753 584h0M763 578h0M765 561h0M774 560h0M771 557h0M779 548h0M796 557h0M802 557h0M809 554h0M794 530h0M826 551h0M815 539h0M821 539h0M804 521h0M801 516h0M803 511h0M826 526h0M832 527h0M845 532h0M824 509h0M838 520h0M834 510h0M845 509h0M855 507h0M857 505h0M852 496h0M872 511h0M878 506h0M877 493h0M897 485h0"/><path stroke="#eafb1e" d="M786 539h0M802 541h0M822 542h0M806 517h0M805 515h0M810 515h0M807 512h0M824 523h0M812 512h0M815 512h0M817 510h0M827 519h0M816 501h0M824 503h0M833 508h0M836 510h0M839 511h0M829 501h0M842 508h0M856 517h0M850 511h0M830 491h0M840 497h0M845 500h0M855 501h0M851 496h0M861 499h0M864 497h0M863 496h0M879 506h0M866 490h0M876 494h0M880 495h0M877 491h0M886 497h0M888 498h0M889 494h0M886 490h0M886 485h0M888 485h0M882 473h0"/><path stroke="#d4fb41" d="M818 529h0M818 508h0M815 499h0M818 500h0M832 502h0M824 494h0M838 499h0M833 492h0M851 501h0M831 483h0M839 482h0M844 484h0M853 491h0M848 484h0M859 491h0M856 480h0M876 497h0M878 490h0M878 485h0M867 473h0M872 476h0M883 481h0M888 482h0M892 476h0M872 456h0M881 461h0M906 470h0"/><path stroke="#befb5e" d="M829 484h0M843 471h0M854 465h0M863 465h0M863 460h0M861 456h0M872 463h0M866 456h0M891 475h0M890 469h0M876 454h0M890 464h0M875 449h0M888 458h0M899 462h0M905 462h0M891 449h0M909 456h0M918 445h0"/><path stroke="#a6fb79" d="M844 474h0M844 467h0M867 452h0M897 473h0M887 461h0M900 467h0M884 452h0M890 454h0M900 461h0M896 448h0M904 455h0M901 450h0M895 440h0M920 459h0M919 436h0M935 439h0"/><path stroke="#8dfb92" d="M884 446h0M906 460h0M909 462h0M909 453h0M900 443h0M901 441h0M914 450h0M905 437h0M927 449h0M923 444h0M918 437h0M932 442h0"/><path stroke="#73fba9" d="M911 446h0M897 432h0M897 429h0M918 442h0M921 439h0M931 443h0M910 424h0M916 425h0M933 436h0M935 434h0M926 427h0M934 427h0"/><path stroke="#55fbc0" d="M895 429h0M914 423h0M918 418h0M926 424h0M926 418h0M937 423h0M929 416h0M935 418h0M944 422h0M935 414h0M951 417h0"/><path stroke="#31fcd6" d="M928 420h0M934 419h0M939 410h0M952 418h0M950 409h0M956 408h0M958 404h0M956 401h0M959 398h0M971 404h0M967 398h0"/><path stroke="#00fceb" d="M934 410h0M929 404h0M947 411h0M943 402h0M967 397h0M972 397h0M963 389h0M965 381h0M984 391h0M981 386h0M990 376h0M1003 372h0M1014 374h0"/><path stroke="#00fdff" d="M944 406h0M946 401h0M951 400h0M957 400h0M948 391h0M974 387h0M974 378h0M984 383h0M984 380h0M991 383h0M991 374h0M1001 368h0M1021 370h0M1019 366h0M1024 366h0M1060 323h0M1069 308h0M1076 297h0"/><path stroke="#00e9ff" d="M961 385h0M964 385h0M967 385h0M968 378h0M984 377h0M992 372h0M1002 374h0M1013 371h0M1013 370h0M1013 367h0M1023 369h0M1026 362h0M1027 357h0M1040 351h0M1051 333h0M1060 316h0M1069 304h0M1083 293h0M1085 293h0M1100 275h0"/><path stroke="#00d5ff" d="M983 372h0M987 366h0M999 369h0M1033 355h0M1029 351h0M1030 348h0M1038 352h0M1035 346h0M1035 343h0M1041 342h0M1047 332h0M1054 328h0M1070 303h0M1088 284h0M1112 262h0M1112 260h0M1129 241h0M1131 236h0M1181 159h0M1202 121h0"/><path stroke="#00c1ff" d="M986 369h0M1014 357h0M1040 345h0M1038 339h0M1038 336h0M1041 334h0M1043 332h0M1052 324h0M1057 311h0M1116 250h0M1129 239h0M1136 232h0M1158 198h0M1166 185h0M1169 182h0M1181 156h0M1198 124h0M1202 117h0"/><path stroke="#00acff" d="M1013 353h0M1016 351h0M1022 352h0M1017 346h0M1037 333h0M1068 299h0M1071 297h0M1081 284h0M1081 283h0M1085 278h0M1099 268h0M1099 266h0M1101 261h0M1157 197h0M1159 192h0M1169 177h0M1169 174h0M1172 171h0M1173 168h0M1178 167h0M1182 150h0M1185 145h0M1187 145h0M1191 138h0M1192 132h0"/><path stroke="#0096ff" d="M1042 325h0M1048 318h0M1047 314h0M1054 314h0M1059 310h0M1060 307h0M1061 307h0M1104 258h0M1121 239h0M1126 231h0M1129 230h0M1140 218h0M1142 216h0M1172 157h0M1187 132h0M1194 124h0"/><path stroke="#0080ff" d="M1040 319h0M1069 293h0M1082 278h0M1118 245h0M1135 222h0M1138 221h0M1139 212h0M1143 210h0M1145 206h0M1150 197h0M1155 190h0M1163 179h0M1171 160h0M1179 146h0"/><path stroke="#0069ff" d="M1055 301h0M1081 271h0M1083 268h0M1110 243h0M1115 241h0M1129 225h0M1136 217h0M1142 206h0M1167 169h0"/><path stroke="#023eff" d="M1067 287h0M1073 282h0M1083 268h0M1091 259h0M1101 247h0M1103 247h0M1112 235h0M1127 219h0M1152 181h0"/><path stroke="#0052ff" d="M1087 264h0M1098 260h0M1105 245h0M1141 200h0M1144 199h0M1144 197h0M1151 183h0M1184 138h0"/><path stroke="#ed2200" d="M397 1216h0M380 1214h0M372 1212h0M390 1211h0M405 1207h0M402 1205h0M404 1204h0M398 1200h0M410 1199h0M419 1199h0M390 1195h0M402 1196h0M421 1197h0M417 1193h0M406 1190h0M428 1189h0M415 1185h0M400 1182h0M425 1186h0M424 1185h0M429 1180h0M386 1172h0M430 1179h0M417 1173h0M398 1168h0M428 1172h0M392 1164h0M442 1172h0M403 1163h0M438 1170h0M420 1164h0M438 1165h0M434 1163h0M444 1165h0M439 1162h0M392 1149h0M405 1151h0M396 1148h0M454 1161h0M454 1160h0M421 1151h0M446 1157h0M434 1153h0M429 1152h0M453 1156h0M439 1148h0M417 1140h0M403 1134h0M468 1150h0M437 1138h0M431 1136h0M455 1142h0M446 1139h0M445 1138h0M451 1138h0M403 1125h0M464 1139h0M450 1135h0M418 1125h0M446 1131h0M441 1126h0M418 1120h0M450 1128h0M470 1131h0M454 1126h0M465 1128h0M453 1125h0M449 1122h0M473 1125h0M427 1111h0M460 1118h0M446 1114h0M463 1118h0M433 1108h0M484 1120h0M484 1119h0M441 1107h0M489 1119h0M429 1100h0M459 1107h0M474 1111h0M474 1108h0M468 1105h0M466 1103h0M456 1099h0M448 1096h0M502 1108h0M461 1098h0M490 1104h0M477 1101h0M466 1097h0M481 1099h0M476 1097h0M503 1103h0M453 1090h0M500 1101h0M492 1098h0M488 1094h0M458 1085h0M442 1080h0M470 1084h0M490 1089h0M481 1086h0M496 1088h0M516 1092h0M516 1091h0M456 1077h0M490 1083h0M463 1076h0M478 1078h0M466 1074h0M493 1077h0M453 1066h0M454 1064h0M472 1067h0M505 1073h0M517 1075h0M514 1074h0M478 1064h0M529 1074h0M479 1062h0M511 1068h0M489 1062h0M480 1059h0M483 1060h0M523 1068h0M497 1059h0M486 1054h0M532 1062h0M476 1050h0M473 1048h0M505 1054h0M506 1052h0M460 1042h0M542 1057h0M527 1053h0M541 1054h0M525 1050h0M523 1048h0M482 1039h0M540 1050h0M487 1039h0M544 1048h0M505 1039h0M525 1040h0M518 1037h0M487 1031h0M534 1037h0M482 1027h0M521 1033h0M548 1038h0M550 1035h0M507 1026h0M529 1028h0M478 1019h0M539 1028h0M532 1027h0M544 1028h0M518 1020h0M506 1013h0M561 1019h0M510 1012h0M561 1017h0M533 1013h0M505 1009h0M498 1001h0M510 1001h0M494 996h0M503 993h0M516 994h0M533 992h0M531 991h0M570 993h0M517 987h0M540 985h0M526 982h0M513 980h0M521 979h0"/><path stroke="#ff2600" d="M375 1211h0M396 1209h0M390 1207h0M382 1203h0M394 1201h0M406 1200h0M402 1194h0M390 1191h0M381 1188h0M381 1185h0M389 1185h0M402 1187h0M389 1184h0M400 1184h0M390 1176h0M407 1179h0M384 1173h0M409 1177h0M421 1176h0M397 1170h0M426 1174h0M437 1174h0M392 1163h0M407 1162h0M403 1159h0M446 1168h0M403 1158h0M444 1164h0M412 1154h0M441 1157h0M439 1153h0M397 1141h0M420 1146h0M403 1142h0M446 1152h0M406 1141h0M420 1143h0M437 1145h0M435 1144h0M404 1135h0M404 1132h0M466 1148h0M432 1138h0M403 1130h0M409 1128h0M412 1127h0M403 1124h0M406 1124h0M424 1126h0M455 1133h0M467 1136h0M424 1123h0M451 1130h0M466 1131h0M426 1119h0M445 1122h0M455 1124h0M415 1112h0M415 1112h0M424 1113h0M435 1115h0M482 1126h0M477 1125h0M424 1110h0M467 1120h0M451 1114h0M439 1109h0M484 1116h0M427 1102h0M452 1107h0M434 1102h0M450 1104h0M487 1112h0M465 1107h0M452 1102h0M498 1113h0M463 1103h0M491 1108h0M448 1096h0M433 1089h0M460 1090h0M431 1083h0M493 1097h0M487 1095h0M449 1086h0M483 1092h0M452 1085h0M488 1092h0M434 1078h0M457 1082h0M489 1090h0M448 1078h0M468 1082h0M441 1072h0M449 1073h0M508 1085h0M449 1071h0M460 1072h0M443 1067h0M444 1066h0M468 1070h0M502 1076h0M497 1074h0M468 1068h0M449 1062h0M480 1067h0M471 1063h0M522 1073h0M530 1074h0M504 1067h0M475 1057h0M477 1056h0M453 1051h0M469 1054h0M465 1052h0M462 1051h0M478 1053h0M478 1053h0M508 1058h0M526 1061h0M523 1058h0M501 1052h0M471 1045h0M465 1042h0M527 1052h0M473 1040h0M464 1037h0M472 1038h0M474 1036h0M529 1045h0M491 1036h0M502 1037h0M522 1041h0M483 1033h0M504 1036h0M518 1038h0M471 1028h0M528 1037h0M516 1034h0M470 1026h0M480 1025h0M492 1027h0M473 1023h0M483 1023h0M521 1029h0M509 1026h0M494 1023h0M514 1023h0M506 1020h0M484 1016h0M531 1023h0M501 1018h0M487 1013h0M508 1016h0M484 1011h0M548 1017h0M541 1013h0M525 1010h0M489 1005h0M540 1011h0M555 1012h0M560 1012h0M499 1005h0M539 1008h0M493 1002h0M506 1003h0M514 1004h0M530 1005h0M545 1005h0M519 1001h0M514 1000h0M523 1000h0M520 999h0M513 997h0M524 998h0M524 997h0M526 996h0M558 999h0M546 995h0M511 992h0M541 994h0M566 994h0M502 988h0M502 987h0M552 990h0M565 989h0M549 987h0M526 985h0M558 986h0M573 986h0M541 984h0M511 980h0M543 980h0M516 978h0M511 978h0M511 976h0M556 976h0M578 975h0M520 973h0M546 973h0M555 973h0M544 972h0M573 972h0M554 971h0M518 969h0M533 968h0M557 967h0M551 967h0M522 967h0"/><path stroke="#d81e00" d="M404 1210h0M431 1184h0M435 1179h0M428 1170h0M436 1167h0M455 1151h0M460 1147h0M487 1121h0M466 1096h0M510 1083h0M506 1080h0M512 1073h0M506 1054h0M539 1048h0M497 1039h0M550 1024h0M552 1024h0M531 994h0"/><path stroke="#ff3400" d="M386 1201h0M417 1157h0M404 1138h0M446 1130h0M455 1111h0M439 1096h0M458 1077h0M445 1065h0M452 1054h0M507 1051h0M512 1050h0M529 1024h0M492 1015h0M513 1015h0M519 1015h0M526 1015h0M491 998h0M562 988h0M558 983h0M531 978h0M574 978h0M554 976h0M541 971h0M520 969h0"/><path stroke="#73fba9" d="M660 806h0M663 789h0M669 784h0M681 782h0M684 777h0M687 770h0M682 749h0M697 749h0M709 754h0M702 746h0M703 741h0M715 721h0M730 731h0M726 723h0M713 708h0M744 729h0M744 723h0M734 710h0M723 699h0M739 709h0M747 713h0M755 710h0M761 703h0M744 687h0M760 695h0M793 666h0M784 640h0M787 620h0M844 600h0M967 417h0"/><path stroke="#8dfb92" d="M643 788h0M656 797h0M647 784h0M678 761h0M673 751h0M674 750h0M682 753h0M678 742h0M694 748h0M702 742h0M694 729h0M715 744h0M703 730h0M702 713h0M710 708h0M739 704h0M744 705h0M732 686h0M747 695h0M749 683h0M736 669h0M745 674h0M745 670h0M758 679h0M752 666h0M766 677h0M761 668h0M775 677h0M780 676h0M760 656h0M780 671h0M766 651h0M768 652h0M760 641h0M778 650h0M786 648h0M790 641h0M809 644h0M803 632h0M799 615h0M816 625h0M820 625h0M822 624h0M826 624h0M817 613h0M819 603h0M837 609h0M962 435h0M959 422h0M971 425h0M983 423h0"/><path stroke="#55fbc0" d="M673 795h0M681 787h0M664 763h0M728 737h0M758 695h0M747 652h0M799 656h0"/><path stroke="#a6fb79" d="M660 781h0M680 788h0M667 760h0M696 721h0M698 718h0M708 724h0M726 712h0M740 718h0M724 686h0M770 687h0M740 657h0M770 657h0M766 641h0M762 632h0M769 636h0M787 635h0M773 621h0M793 630h0M794 621h0M795 613h0M824 612h0M825 611h0M810 582h0M832 594h0M942 454h0M949 448h0M951 448h0M965 432h0"/><path stroke="#befb5e" d="M683 743h0M771 624h0M776 621h0M782 608h0M796 616h0M805 603h0M821 612h0M812 593h0M821 598h0M818 570h0M848 587h0M839 577h0M848 576h0M838 563h0M862 566h0M856 559h0M856 549h0M866 547h0M857 536h0M881 545h0M914 484h0M928 470h0M937 471h0M942 462h0M963 449h0M957 440h0M967 441h0"/><path stroke="#d4fb41" d="M697 720h0M828 588h0M817 570h0M840 576h0M831 566h0M839 552h0M849 548h0M877 549h0M872 526h0M883 527h0M893 531h0M894 521h0M901 520h0M909 503h0M899 493h0M905 492h0M907 486h0M927 475h0M930 464h0M944 466h0M952 456h0"/><path stroke="#31fcd6" d="M755 703h0M783 671h0"/><path stroke="#eafb1e" d="M809 579h0M820 577h0M827 572h0M837 559h0M840 558h0M839 556h0M851 544h0M858 544h0M870 538h0M881 539h0M876 531h0M899 527h0M899 514h0M893 506h0M904 505h0M913 490h0M921 484h0"/><path stroke="#fffb00" d="M883 519h0M926 480h0"/><path stroke="#8dfb92" d="M494 1093h0M508 1076h0M512 1074h0M522 1047h0M527 1044h0M536 1042h0M551 1022h0M572 989h0M577 972h0M596 948h0M606 948h0M622 891h0M641 900h0M651 885h0M645 875h0M662 860h0M668 845h0M667 840h0M684 849h0M689 846h0M687 832h0M686 819h0M684 812h0M677 803h0M675 797h0M710 815h0M686 795h0M710 809h0M711 798h0M706 793h0M721 802h0M712 792h0M720 795h0M708 780h0M702 772h0M710 771h0M709 766h0M736 784h0M733 780h0M718 766h0M718 764h0M717 761h0M709 752h0M728 765h0M726 758h0M742 770h0M725 753h0M718 739h0M720 740h0M740 752h0M722 736h0M728 739h0"/><path stroke="#a6fb79" d="M497 1087h0M517 1059h0M636 914h0M715 788h0M720 777h0M728 755h0M736 756h0"/><path stroke="#73fba9" d="M503 1084h0M511 1064h0M522 1054h0M522 1048h0M538 1035h0M540 1032h0M544 1030h0M548 1028h0M544 1014h0M550 1009h0M550 1005h0M561 1011h0M559 1002h0M566 1005h0M558 992h0M571 996h0M570 992h0M572 982h0M573 981h0M580 972h0M594 970h0M596 964h0M597 962h0M600 960h0M591 949h0M596 936h0M609 943h0M612 938h0M604 925h0M608 926h0M620 927h0M627 926h0M628 921h0M632 920h0M625 910h0M619 903h0M631 907h0M625 896h0M640 902h0M642 896h0M632 886h0M635 887h0M647 892h0M638 883h0M658 873h0M650 866h0M658 870h0M662 870h0M648 853h0M661 856h0M672 862h0M655 845h0M674 854h0M676 851h0M665 837h0M668 835h0M669 834h0M680 836h0M663 821h0M679 833h0M674 826h0M680 829h0M679 823h0M676 817h0M680 817h0M676 810h0M696 824h0M686 812h0M678 801h0M702 815h0M708 817h0M689 802h0M714 813h0M706 802h0M710 803h0M695 792h0M710 780h0M723 785h0M721 782h0M729 763h0M737 759h0"/><path stroke="#55fbc0" d="M581 981h0M591 973h0M582 956h0M593 940h0M615 938h0M608 922h0M618 920h0M649 888h0M634 869h0M643 870h0M659 880h0M643 867h0M654 860h0M648 851h0M663 850h0M662 847h0M696 834h0M713 803h0M723 798h0"/><path stroke="#ffbf00" d="M582 966h0M591 977h0M595 964h0"/><path stroke="#ff2600" d="M756 747h0M755 739h0M767 742h0M758 734h0M758 729h0M762 721h0M780 731h0M768 718h0M771 718h0M780 720h0M772 713h0M772 709h0M783 713h0M787 713h0M790 711h0M790 703h0M794 699h0M797 700h0M792 690h0M798 691h0M799 689h0M808 686h0M812 686h0M809 674h0M815 674h0M810 666h0M815 658h0M833 660h0M821 648h0M848 638h0"/><path stroke="#ed2200" d="M753 742h0M755 742h0M762 741h0M761 733h0M760 728h0M774 733h0M769 724h0M774 709h0M784 701h0M795 705h0M791 700h0M792 694h0M816 681h0"/><path stroke="#ff3400" d="M771 734h0M769 714h0M784 710h0M789 708h0M799 687h0M800 683h0M809 683h0M810 680h0M807 676h0M807 670h0M818 668h0M821 669h0M810 657h0M824 664h0M819 657h0M814 651h0M816 651h0M823 650h0M821 643h0M824 643h0M840 651h0M837 643h0M840 641h0M834 635h0M831 631h0M840 634h0M846 631h0M845 620h0M856 622h0"/><path stroke="#ff4c00" d="M795 691h0M793 679h0M823 674h0M822 646h0M831 645h0M825 636h0M841 644h0M845 636h0M835 623h0M854 634h0M848 626h0M843 618h0M848 618h0M854 618h0M859 620h0M861 621h0M863 619h0M858 609h0"/><path stroke="#ff6400" d="M842 621h0M868 614h0M868 612h0M863 603h0M860 598h0M855 594h0M876 605h0M872 598h0M871 587h0M876 588h0"/><path stroke="#ff7c00" d="M854 609h0M850 605h0M854 599h0M861 597h0M864 595h0M868 594h0M862 587h0M873 592h0M874 592h0M880 590h0M883 589h0M886 591h0M877 579h0"/><path stroke="#ff9300" d="M871 575h0M881 580h0M893 584h0M880 573h0M891 578h0M884 571h0M887 570h0M887 565h0M889 566h0M894 566h0M903 568h0M902 561h0"/><path stroke="#ffa900" d="M878 576h0M884 568h0M883 564h0M906 565h0M900 556h0M897 552h0M903 556h0M891 545h0M894 544h0M905 550h0M903 544h0M907 546h0M917 550h0M913 544h0M916 545h0M913 539h0M916 540h0"/><path stroke="#ffbf00" d="M890 562h0M890 559h0M892 557h0M902 546h0M911 547h0M939 517h0M947 512h0"/><path stroke="#ffd300" d="M910 534h0M904 528h0M908 528h0M912 528h0M917 530h0M927 537h0M917 527h0M913 522h0M918 522h0M916 519h0M918 519h0M931 526h0M928 522h0M926 518h0M926 516h0M935 520h0M939 522h0M927 511h0M935 511h0M927 503h0M938 504h0M946 505h0M944 500h0M952 493h0"/><path stroke="#fffb00" d="M931 505h0M941 491h0M940 489h0M942 488h0M954 492h0M959 493h0M951 474h0M954 474h0M954 471h0M967 472h0M970 466h0M978 468h0M980 463h0M982 463h0M987 457h0"/><path stroke="#ffe800" d="M940 510h0M940 503h0M939 496h0M955 492h0M960 490h0M956 487h0M966 488h0M964 474h0M974 453h0"/><path stroke="#eafb1e" d="M938 491h0M950 479h0M954 469h0M957 469h0M962 468h0M968 469h0M970 468h0M967 456h0M986 458h0M978 448h0M981 442h0M984 443h0M988 444h0M983 434h0M1000 436h0"/><path stroke="#d4fb41" d="M967 461h0M972 450h0M978 444h0M990 451h0M987 440h0M998 444h0M1001 442h0M993 429h0M1006 436h0M1004 432h0M1008 431h0M1002 421h0M1002 414h0M1011 416h0M1010 410h0M1014 411h0M1025 403h0M1027 400h0"/><path stroke="#befb5e" d="M998 439h0M1008 430h0M1011 427h0M1003 418h0M1009 416h0M1013 414h0M1025 406h0M1020 396h0M1026 395h0M1024 388h0M1038 394h0M1039 380h0M1044 380h0M1041 372h0M1046 372h0M1059 366h0M1057 363h0M1065 353h0M1068 344h0"/><path stroke="#a6fb79" d="M1014 407h0M1012 401h0M1023 409h0M1029 396h0M1031 391h0M1030 381h0M1038 387h0M1039 385h0M1040 374h0M1045 365h0M1050 367h0M1058 369h0M1056 353h0M1061 340h0M1067 337h0M1072 339h0M1086 330h0M1086 328h0M1087 326h0M1081 314h0M1100 305h0M1115 289h0"/><path stroke="#8dfb92" d="M1048 371h0M1051 355h0M1062 358h0M1063 347h0M1074 337h0M1078 334h0M1073 326h0M1076 326h0M1084 320h0M1082 318h0M1095 315h0M1096 313h0M1092 307h0M1104 304h0M1097 291h0M1104 292h0M1103 287h0M1104 284h0"/><path stroke="#73fba9" d="M1058 351h0M1067 348h0M1064 337h0M1069 328h0M1084 313h0M1089 310h0M1098 310h0M1092 301h0M1100 300h0M1107 302h0M1098 290h0M1101 285h0"/><path stroke="#55fbc0" d="M1084 310h0M1109 280h0M1111 281h0M1112 277h0M1119 281h0M1116 275h0M1122 278h0M1124 276h0M1117 268h0M1134 266h0M1137 265h0M1144 254h0"/><path stroke="#31fcd6" d="M1117 266h0M1131 268h0M1131 267h0M1151 237h0M1153 238h0"/><path stroke="#00fceb" d="M1122 265h0M1138 264h0M1133 257h0M1133 253h0M1131 249h0M1142 250h0M1141 245h0M1145 247h0M1147 245h0M1149 245h0M1155 235h0M1169 219h0"/><path stroke="#00fdff" d="M1148 239h0M1151 228h0M1154 229h0M1160 226h0M1161 225h0M1165 224h0M1168 215h0M1171 216h0M1166 207h0"/><path stroke="#00e9ff" d="M1157 228h0M1170 223h0M1172 208h0M1176 207h0M1178 207h0M1180 204h0M1178 200h0M1178 194h0M1182 191h0M1183 189h0M1192 191h0M1189 187h0M1188 181h0"/><path stroke="#00d5ff" d="M1179 195h0"/><path stroke="#a6fb79" d="M1002 470h0M1013 478h0M1004 469h0M1024 477h0M1023 470h0M1015 464h0M1008 456h0M1005 451h0M1017 454h0M1013 445h0M1013 440h0M1019 444h0M1032 438h0M1047 449h0M1038 438h0M1023 425h0M1026 425h0M1054 415h0M1062 406h0M1058 385h0M1072 371h0M1091 356h0M1096 344h0M1110 343h0M1111 331h0M1114 329h0"/><path stroke="#73fba9" d="M1019 477h0M1023 457h0M1028 456h0M1041 435h0M1055 441h0M1040 429h0M1038 425h0M1048 422h0M1055 421h0M1064 418h0M1051 402h0M1071 409h0M1063 402h0M1080 411h0M1077 407h0M1084 408h0M1068 385h0M1088 395h0M1067 368h0M1095 386h0M1081 365h0M1101 374h0M1087 362h0M1091 363h0M1097 365h0M1090 355h0M1113 369h0M1105 359h0M1090 348h0M1113 350h0M1098 329h0M1119 342h0M1112 331h0M1113 330h0M1127 336h0M1109 319h0M1135 330h0M1136 329h0M1124 314h0M1123 311h0M1118 305h0M1127 293h0M1135 282h0M1139 276h0M1161 288h0M1152 266h0M1163 248h0"/><path stroke="#8dfb92" d="M1018 475h0M1006 461h0M1012 459h0M1018 459h0M1027 463h0M1017 445h0M1037 451h0M1020 436h0M1028 440h0M1026 437h0M1029 438h0M1033 427h0M1040 424h0M1045 426h0M1038 417h0M1036 416h0M1049 421h0M1045 415h0M1054 419h0M1047 412h0M1053 414h0M1049 409h0M1072 422h0M1051 406h0M1061 410h0M1045 396h0M1052 398h0M1061 401h0M1081 409h0M1054 388h0M1054 384h0M1071 393h0M1069 390h0M1068 387h0M1063 382h0M1083 388h0M1086 389h0M1068 372h0M1084 376h0M1092 379h0M1088 373h0M1094 374h0M1083 354h0M1100 365h0M1113 366h0M1108 357h0M1094 335h0M1110 340h0M1101 332h0M1109 331h0M1122 329h0M1119 324h0M1118 321h0M1127 322h0M1119 314h0M1125 305h0M1138 305h0"/><path stroke="#befb5e" d="M1017 469h0M1022 455h0M1027 427h0M1071 376h0"/><path stroke="#55fbc0" d="M1023 445h0M1038 453h0M1056 435h0M1082 394h0M1092 396h0M1092 389h0M1101 386h0M1083 371h0M1087 367h0M1100 372h0M1115 360h0M1116 359h0M1115 355h0M1117 356h0M1120 353h0M1123 353h0M1113 336h0M1117 327h0M1134 332h0M1125 311h0M1142 320h0M1147 322h0M1131 307h0M1145 315h0M1145 313h0M1125 295h0M1130 297h0M1141 298h0M1138 291h0M1159 303h0M1144 291h0M1138 285h0M1146 285h0M1167 296h0M1161 283h0M1156 278h0M1171 285h0M1169 283h0M1162 274h0M1164 271h0M1161 259h0M1174 232h0"/><path stroke="#31fcd6" d="M1117 364h0M1141 327h0M1149 314h0M1157 309h0M1152 303h0M1141 294h0M1154 292h0M1162 294h0M1164 287h0M1164 276h0M1163 270h0M1179 278h0M1166 268h0M1155 259h0M1177 268h0M1181 269h0M1179 266h0M1166 254h0M1173 256h0M1175 255h0M1169 249h0M1174 249h0M1175 248h0M1169 239h0M1175 235h0M1188 242h0M1192 237h0M1182 229h0M1180 222h0M1194 221h0"/><path stroke="#00fceb" d="M1147 305h0M1161 287h0M1169 288h0M1163 262h0M1173 261h0M1168 239h0M1185 247h0M1197 252h0M1195 243h0M1193 234h0M1201 233h0M1190 220h0M1199 222h0M1207 217h0M1196 203h0M1209 209h0M1201 195h0"/><path stroke="#00fdff" d="M1186 257h0M1178 247h0M1180 235h0M1201 238h0M1199 230h0M1199 221h0M1204 222h0M1205 219h0M1198 208h0M1202 209h0M1206 203h0M1210 200h0M1213 194h0"/><path stroke="#00e9ff" d="M1210 196h0M1214 191h0M1211 186h0M1210 181h0"/><path stroke="#c21a00" d="M727 860h0M739 851h0M753 846h0M744 836h0M752 834h0M760 829h0M767 815h0M767 811h0M776 806h0M791 801h0M792 785h0M802 769h0M807 766h0M817 766h0M822 757h0M817 745h0M820 741h0M832 721h0M842 719h0M852 713h0M854 702h0"/><path stroke="#d81e00" d="M740 862h0M768 827h0M781 806h0M784 783h0M797 771h0M809 751h0M825 735h0M841 733h0M845 705h0M857 697h0M862 691h0M876 686h0M874 674h0M880 668h0"/><path stroke="#ab1500" d="M738 843h0M766 824h0M795 783h0M798 775h0"/><path stroke="#941100" d="M777 797h0"/><path stroke="#ff2600" d="M839 737h0"/><path stroke="#ed2200" d="M852 720h0M873 690h0"/><path stroke="#fffb00" d="M357 1305h0M351 1296h0M362 1301h0M363 1295h0M368 1290h0M368 1288h0M373 1287h0M380 1277h0M379 1268h0"/><path stroke="#eafb1e" d="M358 1290h0M368 1280h0M375 1281h0M386 1268h0M387 1264h0M384 1257h0M391 1259h0M395 1256h0"/><path stroke="#d4fb41" d="M372 1273h0M376 1268h0M392 1255h0M401 1254h0M394 1243h0M402 1247h0M404 1245h0M403 1237h0M414 1235h0M421 1222h0M424 1219h0M423 1211h0M433 1199h0"/><path stroke="#befb5e" d="M411 1240h0M412 1238h0M409 1225h0M409 1224h0M413 1223h0M424 1222h0M432 1214h0M429 1208h0M431 1205h0M437 1189h0M445 1190h0M441 1186h0M443 1182h0M444 1179h0M445 1176h0M447 1173h0M458 1167h0"/><path stroke="#a6fb79" d="M428 1198h0M439 1200h0M435 1192h0M446 1167h0M455 1168h0M457 1164h0M462 1161h0M459 1157h0M461 1155h0M456 1149h0M464 1146h0M464 1145h0M468 1144h0M466 1135h0M468 1134h0M471 1133h0M470 1128h0M476 1121h0M483 1116h0"/><path stroke="#8dfb92" d="M471 1125h0M481 1129h0M478 1119h0M486 1115h0M485 1109h0M489 1107h0M492 1101h0M500 1103h0"/><path stroke="#73fba9" d="M497 1109h0"/><path stroke="#8dfb92" d="M447 1150h0M448 1149h0M444 1141h0M459 1142h0M458 1139h0M461 1131h0M466 1129h0M470 1122h0M480 1118h0M480 1115h0M474 1107h0M482 1108h0M478 1103h0M480 1098h0M481 1094h0M490 1096h0M498 1087h0M502 1089h0M509 1059h0"/><path stroke="#73fba9" d="M447 1141h0M456 1132h0M465 1131h0"/><path stroke="#a6fb79" d="M453 1141h0M462 1120h0M465 1119h0M471 1118h0M468 1112h0M481 1099h0M488 1090h0M493 1091h0M494 1091h0M501 1083h0M504 1082h0M503 1073h0M504 1072h0M507 1069h0M508 1068h0M511 1057h0"/><path stroke="#befb5e" d="M501 1078h0M513 1070h0M517 1067h0M516 1055h0M516 1049h0M528 1055h0"/><path stroke="#d4fb41" d="M518 1053h0"/><path stroke="#023eff" d="M1195 216h0M1187 205h0M1187 200h0M1205 194h0M1198 184h0M1196 174h0M1213 178h0M1203 158h0M1212 154h0M1211 149h0M1241 122h0M1235 110h0M1231 100h0"/><path stroke="#0333ff" d="M1182 206h0M1193 206h0M1201 202h0M1193 193h0M1197 190h0M1206 189h0M1204 181h0M1211 174h0M1206 166h0M1209 167h0M1221 154h0M1221 141h0M1216 134h0M1223 133h0M1233 136h0M1234 122h0M1241 119h0M1235 114h0"/><path stroke="#0052ff" d="M1191 194h0M1230 124h0M1242 106h0M1246 104h0"/><path stroke="#032eeb" d="M1196 173h0M1217 164h0M1213 156h0M1218 143h0M1230 131h0M1223 125h0"/><path stroke="#0229d6" d="M1223 150h0M1222 141h0"/><path stroke="#0069ff" d="M1226 105h0"/><path stroke="#0080ff" d="M1232 94h0"/><path stroke="#00fdff" d="M1252 144h0M1252 164h0M1248 186h0M1243 211h0M1232 233h0M1221 254h0"/><path stroke="#00c1ff" d="M1201 209h0M1201 203h0M1211 209h0M1209 201h0M1215 204h0"/><path stroke="#00acff" d="M1210 192h0M1215 194h0M1219 193h0M1216 186h0M1226 188h0M1222 185h0M1226 181h0M1226 178h0M1221 174h0M1234 175h0"/><path stroke="#0096ff" d="M1235 172h0M1226 167h0M1235 164h0M1235 163h0M1237 158h0"/><path stroke="#011eaa" d="M1033 485h0"/><path stroke="#032eeb" d="M1034 480h0M1037 480h0M1034 467h0M1043 466h0M1053 460h0M1052 454h0M1048 445h0M1058 451h0M1061 440h0M1063 438h0M1082 409h0M1099 402h0M1093 391h0M1104 393h0M1107 387h0M1107 374h0M1114 375h0M1112 367h0M1119 368h0M1123 359h0"/><path stroke="#0224c0" d="M1031 467h0"/><path stroke="#0229d6" d="M1050 468h0M1042 457h0M1057 445h0M1111 385h0M1121 369h0"/><path stroke="#0333ff" d="M1060 431h0M1074 440h0M1065 426h0M1074 428h0M1084 425h0M1074 415h0M1089 402h0M1095 392h0M1100 376h0"/><path stroke="#023eff" d="M1068 421h0M1079 413h0M1091 408h0M1091 407h0"/><path stroke="#0080ff" d="M1136 321h0M1140 325h0M1136 331h0M1140 332h0M1143 335h0M1145 335h0M1153 335h0M1146 344h0M1151 346h0M1158 343h0M1157 348h0M1159 349h0M1163 346h0M1168 347h0M1170 342h0M1174 346h0M1178 342h0M1177 338h0"/><path stroke="#0224c0" d="M1204 357h0M1189 381h0M1112 490h0"/><path stroke="#0229d6" d="M1249 309h0"/><path stroke="#0333ff" d="M887 579h0M895 595h0M912 625h0M920 637h0M903 652h0M874 658h0M862 674h0M997 591h0"/><path stroke="#a6fb79" d="M1039 494h0M1074 464h0M1078 419h0M1118 437h0M1007 614h0M1039 595h0M1026 550h0M1028 570h0M1064 558h0M1066 579h0M989 516h0M991 537h0M1016 595h0M1057 568h0M1045 620h0M1016 641h0M999 662h0"/><path stroke="#a6fb79" d="M1075 563h0M1061 563h0M1039 577h0M1081 564h0M1067 546h0M1059 571h0M1043 589h0M1048 581h0M1065 546h0M1047 561h0M1070 559h0M1086 548h0M1065 559h0M1045 579h0"/><path stroke="#d4fb41" d="M973 719h0M973 721h0M985 721h0"/><path stroke="#d4fb41" d="M994 699h0M998 702h0M997 705h0"/><path stroke="#d4fb41" d="M1025 696h0M1031 696h0M1030 698h0"/><path stroke="#d4fb41" d="M951 736h0M946 738h0M948 736h0"/><path stroke="#d4fb41" d="M902 761h0M917 758h0M898 755h0M925 756h0"/><path stroke="#d4fb41" d="M956 770h0M956 778h0M954 765h0M941 771h0M952 772h0M946 777h0M953 773h0M945 780h0"/><path stroke="#d4fb41" d="M1019 752h0M1019 741h0M1013 750h0M1021 754h0"/><path stroke="#eafb1e" d="M855 806h0M853 798h0M852 800h0M848 797h0"/><path stroke="#d4fb41" d="M876 822h0M875 826h0M874 822h0M888 823h0"/><path stroke="#fffb00" d="M849 857h0M844 849h0M843 850h0"/><path stroke="#fffb00" d="M807 824h0M805 825h0M807 826h0"/><path stroke="#fffb00" d="M769 857h0M774 853h0M772 857h0"/><path stroke="#0224c0" d="M1062 753h0M1051 753h0"/><path stroke="#0224c0" d="M997 775h0M996 790h0M995 776h0M989 790h0M992 774h0"/><path stroke="#0224c0" d="M1021 807h0M1019 806h0M1024 808h0"/><path stroke="#0229d6" d="M939 824h0M940 824h0"/><path stroke="#0224c0" d="M995 829h0M997 828h0"/><path stroke="#0224c0" d="M993 849h0M994 853h0M995 855h0M1001 848h0"/><path stroke="#0224c0" d="M981 889h0M980 888h0"/><path stroke="#0229d6" d="M940 883h0M944 885h0"/><path stroke="#0229d6" d="M920 902h0M921 902h0"/><path stroke="#0229d6" d="M901 937h0M907 951h0M910 948h0M889 942h0M901 949h0"/><path stroke="#0229d6" d="M955 685h0M952 683h0"/><path stroke="#0224c0" d="M1077 591h0M1075 590h0"/><path stroke="#0224c0" d="M1122 587h0M1120 592h0"/><path stroke="#d4fb41" d="M891 758h0M907 750h0M924 756h0M853 800h0M861 812h0M807 818h0M870 820h0M886 812h0M897 829h0M932 781h0M901 762h0M916 760h0M874 812h0"/><path stroke="#ffe800" d="M699 910h0M714 908h0M743 930h0M744 919h0M695 906h0"/><path stroke="#eafb1e" d="M701 889h0M716 931h0M716 913h0M727 900h0M727 887h0"/><path stroke="#fffb00" d="M709 919h0M740 898h0M715 891h0M715 927h0M719 929h0M724 929h0M743 905h0M706 927h0M729 915h0M688 911h0M753 903h0M704 905h0M736 932h0M720 921h0M687 917h0M700 892h0M738 920h0M691 898h0"/><path stroke="#fffb00" d="M762 856h0M772 869h0M774 857h0M779 863h0M785 854h0M793 863h0M800 872h0M803 859h0M809 862h0M815 867h0M824 862h0M829 869h0M835 860h0M840 856h0M844 853h0M853 856h0"/><path stroke="#ab1500" d="M339 1293h0M331 1288h0M340 1288h0M353 1288h0M348 1283h0M356 1279h0M350 1272h0M342 1266h0M350 1263h0M355 1261h0M341 1249h0M354 1252h0M361 1252h0M363 1249h0M361 1247h0M355 1241h0M361 1230h0"/><path stroke="#941100" d="M333 1281h0M336 1277h0M337 1271h0M334 1263h0M337 1257h0M359 1259h0M353 1238h0M359 1237h0M360 1233h0M362 1227h0"/><path stroke="#c21a00" d="M503 1009h0M487 1014h0M499 1018h0M484 1019h0M488 1021h0M490 1025h0M501 1026h0M507 1030h0M489 1031h0M487 1035h0M504 1039h0M487 1041h0M490 1047h0M497 1056h0M508 1057h0M510 1070h0M493 1072h0M489 1090h0M498 1093h0M500 1097h0M493 1097h0M479 1104h0"/><path stroke="#ab1500" d="M491 1010h0M504 1012h0M495 1023h0M486 1027h0M515 1036h0M510 1042h0M516 1045h0M508 1048h0M511 1051h0M507 1052h0M507 1060h0M510 1063h0M506 1065h0M501 1076h0M502 1079h0M487 1080h0M500 1082h0M506 1085h0M497 1089h0M481 1101h0M486 1106h0M479 1108h0M492 1111h0"/><path stroke="#941100" d="M517 1016h0M496 1068h0"/><path stroke="#941100" d="M429 1112h0M445 1120h0M414 1137h0M470 1133h0M481 1137h0"/><path stroke="#ab1500" d="M414 1148h0M437 1119h0M447 1196h0M457 1177h0M472 1152h0M480 1137h0M424 1112h0"/><path stroke="#941100" d="M617 907h0M617 905h0M647 897h0M643 893h0M635 883h0M678 890h0M652 879h0M659 878h0M686 879h0M637 861h0M651 857h0M664 852h0M648 842h0M666 844h0M700 853h0M681 841h0M656 829h0M692 834h0M666 821h0M677 821h0M674 814h0M716 817h0M698 806h0M676 794h0M675 791h0M707 801h0M702 793h0M690 788h0M699 784h0M687 775h0M718 785h0M720 781h0M688 767h0M706 766h0M713 764h0M735 769h0M701 751h0M701 746h0M734 753h0M726 741h0M721 736h0M721 729h0M723 726h0M711 711h0M726 713h0M730 702h0"/><path stroke="#ab1500" d="M644 906h0M622 897h0M654 902h0M631 883h0M676 879h0M680 871h0M688 869h0M675 855h0M688 845h0M678 832h0M700 829h0M714 825h0M683 813h0M704 816h0M694 785h0M705 770h0M723 766h0M735 757h0M708 735h0M703 713h0M710 706h0M713 696h0"/><path stroke="#c21a00" d="M695 866h0"/><path stroke="#c21a00" d="M757 795h0M786 798h0M738 822h0M781 771h0M803 750h0M816 715h0M832 744h0M848 704h0M875 680h0"/><path stroke="#ed2200" d="M244 1430h0M246 1426h0M244 1419h0M251 1427h0M253 1425h0M248 1413h0M256 1417h0M252 1406h0M263 1416h0M256 1399h0M258 1397h0M259 1382h0"/><path stroke="#ff2600" d="M242 1423h0M259 1421h0M259 1414h0M260 1406h0M257 1399h0M265 1402h0M264 1399h0M264 1394h0M267 1388h0M265 1377h0"/><path stroke="#d81e00" d="M248 1412h0"/><path stroke="#ff3400" d="M271 1403h0M266 1390h0M272 1392h0M269 1384h0M265 1374h0M276 1386h0M282 1384h0"/><path stroke="#ff4c00" d="M280 1387h0M273 1376h0M272 1371h0M276 1373h0"/><path stroke="#ff6400" d="M271 1364h0M278 1372h0M275 1365h0M278 1367h0M293 1377h0M284 1363h0M292 1370h0M296 1366h0M285 1350h0"/><path stroke="#ff7c00" d="M288 1376h0M285 1369h0M290 1364h0M298 1367h0M289 1354h0M290 1351h0M298 1356h0M306 1363h0M293 1347h0M308 1360h0M289 1338h0M290 1337h0M306 1351h0M302 1342h0M315 1354h0M302 1336h0M299 1329h0M317 1343h0"/><path stroke="#ff9300" d="M284 1360h0M284 1356h0M287 1348h0M295 1344h0M293 1335h0M306 1342h0M310 1342h0M307 1336h0"/><path stroke="#941100" d="M262 1395h0M269 1384h0M263 1374h0M270 1380h0M255 1383h0M268 1385h0M262 1390h0M258 1389h0M262 1395h0M272 1377h0M273 1383h0M261 1375h0"/><path stroke="#ffe800" d="M324 1370h0M354 1357h0"/><path stroke="#fffb00" d="M333 1369h0M351 1369h0M350 1363h0M363 1365h0M366 1365h0M373 1367h0M373 1360h0M373 1355h0M382 1365h0M384 1357h0M384 1350h0M392 1357h0M391 1352h0M399 1362h0M397 1350h0M401 1345h0M412 1355h0M420 1359h0M418 1344h0M429 1352h0"/><path stroke="#eafb1e" d="M346 1371h0M406 1353h0M413 1349h0M427 1354h0M428 1343h0M439 1349h0"/><path stroke="#ffbf00" d="M370 1360h0M383 1358h0M447 1339h0M462 1333h0M472 1331h0M487 1356h0M501 1360h0M518 1348h0M528 1350h0"/><path stroke="#d81e00" d="M250 1442h0M255 1434h0M266 1421h0M272 1420h0M274 1419h0M279 1422h0M289 1409h0M293 1411h0M301 1403h0M298 1409h0M307 1409h0M310 1413h0M311 1412h0M318 1405h0M318 1406h0M324 1400h0M326 1399h0M335 1397h0M348 1387h0M372 1385h0"/><path stroke="#c21a00" d="M268 1417h0M280 1405h0M288 1401h0M289 1407h0M289 1411h0M303 1396h0M303 1404h0M308 1400h0M316 1390h0M317 1394h0M329 1396h0M331 1402h0M351 1389h0M351 1394h0M359 1388h0M359 1388h0M368 1378h0M373 1377h0"/><path stroke="#ab1500" d="M281 1399h0M285 1397h0M290 1396h0M289 1398h0M292 1398h0M293 1398h0M294 1401h0M302 1396h0M306 1394h0M315 1385h0M316 1389h0M318 1389h0M319 1392h0M321 1390h0M327 1383h0M347 1379h0M349 1380h0M346 1387h0M359 1377h0M360 1380h0"/><path stroke="#ed2200" d="M262 1429h0M258 1437h0M264 1431h0M273 1426h0M283 1422h0M299 1415h0M314 1411h0M320 1407h0M325 1408h0M325 1408h0M333 1406h0M337 1400h0M342 1400h0M342 1402h0M349 1403h0M357 1396h0M365 1391h0M364 1399h0M371 1389h0M374 1386h0M381 1378h0M378 1390h0M381 1387h0M392 1377h0M395 1377h0M394 1380h0"/><path stroke="#941100" d="M306 1388h0M302 1395h0M339 1381h0"/><path stroke="#ff2600" d="M358 1400h0M371 1398h0M374 1398h0M380 1396h0M384 1387h0M383 1395h0M387 1389h0M396 1385h0M402 1373h0"/><path stroke="#ff3400" d="M396 1393h0M401 1389h0M402 1389h0M406 1386h0"/><path stroke="#ff4c00" d="M405 1381h0M409 1375h0M411 1375h0M411 1379h0M413 1385h0M414 1371h0M416 1369h0"/><path stroke="#ff6400" d="M417 1368h0M419 1369h0M421 1381h0M421 1368h0"/><path stroke="#ff7c00" d="M425 1374h0M426 1377h0M426 1366h0M428 1373h0M431 1374h0M433 1366h0M434 1364h0"/><path stroke="#ff9300" d="M430 1366h0M432 1367h0"/><path stroke="#ffa900" d="M435 1364h0M436 1360h0M439 1363h0M439 1360h0M444 1369h0M447 1373h0M445 1364h0M453 1372h0"/><path stroke="#ffbf00" d="M452 1375h0M450 1360h0M460 1367h0"/><path stroke="#ffd300" d="M451 1368h0M448 1359h0M463 1375h0M457 1361h0"/><path stroke="#ffe800" d="M458 1364h0M469 1369h0M460 1359h0"/><path stroke="#941100" d="M308 1331h0M314 1335h0M309 1326h0M315 1333h0M309 1325h0M331 1354h0M322 1338h0M326 1342h0M333 1350h0M330 1345h0M312 1315h0M323 1331h0M322 1328h0M327 1334h0M327 1332h0M324 1327h0M323 1323h0M334 1340h0M332 1334h0M331 1330h0M320 1312h0M346 1349h0M336 1331h0M344 1342h0M324 1311h0M335 1325h0M331 1314h0"/><path stroke="#ab1500" d="M316 1340h0M329 1349h0M344 1352h0M339 1339h0M344 1343h0M351 1348h0M355 1351h0M353 1348h0M356 1350h0M337 1322h0M353 1342h0M344 1328h0M344 1327h0M362 1350h0M341 1320h0M361 1346h0M341 1312h0M361 1339h0M348 1320h0M363 1336h0M341 1306h0M355 1323h0"/><path stroke="#c21a00" d="M360 1346h0M341 1317h0M356 1336h0M358 1338h0M370 1347h0M341 1307h0M347 1312h0M345 1308h0M365 1330h0M368 1333h0M359 1322h0M356 1314h0M369 1329h0M372 1331h0M377 1336h0M374 1331h0M366 1320h0M372 1327h0M380 1333h0M376 1327h0M381 1331h0M387 1335h0M364 1309h0M380 1323h0M389 1324h0"/><path stroke="#d81e00" d="M360 1325h0M361 1322h0M388 1341h0M364 1311h0M372 1316h0M386 1329h0M370 1312h0M399 1338h0M395 1334h0M385 1322h0M392 1328h0M388 1323h0M385 1315h0M380 1309h0M391 1318h0"/><path stroke="#ed2200" d="M394 1327h0M388 1319h0M382 1313h0M392 1318h0M384 1310h0M406 1327h0M383 1307h0M411 1329h0M384 1306h0M389 1308h0M407 1322h0M389 1306h0M405 1318h0M383 1299h0M395 1306h0M414 1318h0M419 1317h0M416 1314h0M396 1294h0"/><path stroke="#ff2600" d="M386 1301h0M403 1312h0M388 1298h0M392 1299h0M404 1309h0M407 1309h0M409 1307h0M407 1305h0M396 1295h0M400 1296h0M427 1315h0M418 1308h0M425 1311h0M401 1293h0M393 1287h0M432 1311h0M408 1292h0M407 1289h0M425 1301h0M433 1305h0M413 1288h0M436 1301h0M403 1275h0"/><path stroke="#ff3400" d="M429 1310h0M412 1297h0M425 1304h0M414 1294h0M432 1302h0M426 1297h0M434 1301h0M402 1277h0M404 1277h0M404 1276h0M426 1291h0M440 1296h0M417 1280h0M422 1281h0M428 1285h0M414 1274h0M426 1281h0M438 1279h0"/><path stroke="#ff4c00" d="M438 1296h0M436 1292h0M446 1294h0M448 1294h0M442 1289h0M416 1271h0M422 1274h0M438 1283h0M430 1277h0M426 1273h0M434 1277h0M415 1264h0M416 1262h0M457 1287h0M427 1266h0"/><path stroke="#ff6400" d="M420 1266h0M430 1269h0M458 1284h0M431 1267h0M434 1268h0M455 1280h0M440 1269h0M437 1267h0M441 1268h0M456 1276h0M452 1271h0"/><path stroke="#ff7c00" d="M426 1256h0M450 1269h0M452 1270h0M459 1273h0M426 1252h0M440 1260h0M463 1272h0M436 1255h0M471 1274h0M463 1267h0M449 1258h0"/><path stroke="#ff9300" d="M470 1274h0M473 1270h0M473 1269h0M440 1251h0M440 1249h0M456 1256h0M440 1247h0M468 1261h0M440 1243h0M468 1255h0M455 1247h0"/><path stroke="#ffa900" d="M438 1254h0M468 1264h0M467 1259h0M448 1248h0M462 1254h0M467 1256h0M472 1256h0M476 1256h0M477 1255h0M447 1237h0M483 1254h0"/><path stroke="#ffbf00" d="M477 1254h0M476 1253h0M451 1238h0M449 1236h0M463 1240h0M475 1245h0M451 1233h0M455 1234h0M464 1238h0M478 1239h0"/><path stroke="#ffd300" d="M459 1240h0M475 1241h0M462 1235h0M458 1231h0M476 1238h0M490 1243h0M456 1227h0M491 1242h0M474 1233h0M457 1224h0M484 1234h0M490 1235h0M468 1219h0"/><path stroke="#ffe800" d="M471 1231h0M495 1238h0M477 1228h0M482 1228h0M469 1222h0M483 1226h0M473 1220h0M471 1214h0M486 1217h0M485 1215h0M478 1210h0M474 1203h0M489 1193h0M489 1185h0"/><path stroke="#fffb00" d="M469 1224h0M493 1227h0M478 1220h0M468 1214h0M465 1212h0M468 1212h0M478 1211h0M483 1212h0M481 1209h0M480 1207h0M475 1205h0M481 1205h0M473 1200h0M484 1203h0M472 1197h0M477 1198h0M492 1202h0M475 1194h0M478 1195h0M475 1192h0M490 1194h0M497 1193h0M486 1186h0M479 1183h0M493 1185h0"/><path stroke="#eafb1e" d="M475 1190h0M485 1187h0"/><path stroke="#ffa900" d="M302 1318h0M297 1316h0M300 1314h0M301 1311h0M300 1307h0M301 1306h0M298 1303h0M296 1299h0M297 1298h0M294 1295h0M293 1291h0M293 1288h0M301 1285h0M306 1282h0"/><path stroke="#ffd300" d="M324 1293h0M360 1202h0M340 1237h0"/><path stroke="#fffb00" d="M524 1110h0M505 1127h0M545 1148h0M566 1156h0M512 1164h0M541 1169h0M482 1183h0M518 1202h0M522 1229h0M495 1142h0"/><path stroke="#ffbf00" d="M549 1300h0M561 1308h0M578 1293h0M574 1316h0M591 1312h0M611 1279h0M628 1277h0"/><path stroke="#ffe800" d="M586 1331h0M603 1329h0M616 1331h0M595 1337h0"/><path stroke="#941100" d="M469 1237h0M469 1248h0M470 1246h0M476 1243h0M466 1247h0M471 1244h0M469 1245h0M474 1249h0M476 1245h0M479 1248h0M477 1238h0"/><path stroke="#941100" d="M509 1240h0M495 1244h0M493 1243h0M491 1243h0M506 1244h0M501 1245h0M494 1241h0M501 1238h0M501 1234h0M496 1244h0M501 1244h0"/><path stroke="#ab1500" d="M556 1240h0M555 1239h0M562 1233h0M554 1230h0M563 1239h0M546 1234h0M559 1232h0M549 1233h0M553 1236h0M550 1233h0M549 1232h0"/><path stroke="#c21a00" d="M605 1234h0M605 1238h0M605 1226h0M597 1233h0M597 1236h0M609 1229h0M602 1227h0M604 1229h0M611 1227h0M605 1231h0M611 1231h0"/><path stroke="#d81e00" d="M650 1225h0M649 1230h0M648 1227h0M649 1230h0M647 1233h0M646 1223h0M650 1231h0M656 1229h0M653 1228h0M643 1229h0M653 1232h0"/><path stroke="#ed2200" d="M702 1223h0M699 1220h0M692 1218h0M699 1220h0M691 1226h0M696 1226h0M704 1225h0M698 1217h0M705 1220h0M700 1217h0M703 1219h0"/><path stroke="#ff2600" d="M732 1216h0M745 1220h0M737 1218h0M735 1221h0M744 1213h0M746 1223h0M746 1213h0M732 1221h0M733 1215h0M739 1222h0M738 1216h0"/><path stroke="#ff2600" d="M790 1214h0M782 1210h0M781 1220h0M775 1216h0M781 1218h0M780 1216h0M788 1222h0M778 1216h0M787 1209h0M778 1212h0M779 1215h0"/><path stroke="#ff3400" d="M819 1213h0M827 1207h0M827 1218h0M827 1211h0M824 1214h0M836 1213h0M824 1215h0M828 1213h0M825 1206h0M832 1209h0M818 1210h0"/><path stroke="#ff6400" d="M864 1208h0M877 1194h0M882 1201h0M877 1198h0M862 1199h0M877 1214h0M880 1203h0M882 1209h0M870 1193h0M863 1199h0M881 1201h0M871 1195h0M883 1208h0M878 1212h0M883 1202h0M870 1214h0M884 1204h0M876 1194h0M880 1198h0M864 1198h0"/><path stroke="#ff7c00" d="M923 1193h0M918 1197h0M910 1198h0M906 1196h0M925 1198h0M906 1197h0M936 1194h0M914 1204h0M934 1204h0M921 1191h0M909 1200h0M910 1201h0M910 1196h0M927 1200h0M916 1199h0M935 1203h0M920 1187h0M926 1187h0M938 1196h0M928 1207h0"/><path stroke="#ff9300" d="M976 1181h0M984 1182h0M965 1186h0M962 1194h0M968 1177h0M963 1192h0M977 1194h0M952 1187h0M983 1189h0M984 1191h0M960 1194h0M969 1178h0M965 1175h0M955 1190h0M971 1187h0M962 1183h0M966 1195h0M971 1194h0M971 1182h0M957 1186h0"/><path stroke="#ffa900" d="M1003 1178h0M1010 1180h0M997 1181h0M1003 1166h0M1006 1167h0M1006 1183h0M1004 1168h0M1016 1171h0M1011 1181h0M1000 1168h0M995 1177h0M1018 1180h0M1024 1171h0M1015 1176h0M1014 1170h0M1001 1165h0M1001 1174h0M1015 1166h0M1007 1165h0M1010 1163h0"/><path stroke="#ffbf00" d="M1030 1164h0M1038 1171h0M1047 1166h0M1055 1162h0M1040 1165h0M1029 1168h0M1047 1155h0M1033 1158h0M1053 1164h0M1053 1167h0M1051 1163h0M1043 1164h0M1043 1159h0M1049 1169h0M1048 1152h0M1039 1160h0M1036 1152h0M1027 1159h0M1040 1163h0M1054 1155h0"/><path stroke="#ffbf00" d="M1080 1152h0M1069 1141h0M1073 1148h0M1090 1154h0M1077 1137h0M1068 1144h0M1068 1142h0M1092 1147h0M1075 1145h0M1089 1138h0M1093 1155h0M1080 1140h0M1088 1154h0M1073 1140h0M1088 1137h0M1069 1149h0M1084 1149h0M1081 1155h0M1081 1156h0M1080 1146h0"/><path stroke="#ffd300" d="M1116 1124h0M1115 1129h0M1115 1125h0M1115 1132h0M1129 1131h0M1126 1137h0M1121 1141h0M1121 1125h0M1111 1144h0M1115 1133h0M1110 1141h0M1118 1135h0M1130 1128h0M1128 1140h0M1128 1135h0M1125 1127h0M1121 1133h0M1113 1127h0M1120 1138h0M1102 1135h0"/><path stroke="#ffe800" d="M1150 1113h0M1170 1126h0M1148 1114h0M1162 1127h0M1175 1123h0M1150 1123h0M1168 1107h0M1159 1117h0M1151 1109h0M1156 1117h0M1154 1117h0M1175 1116h0M1158 1121h0M1175 1113h0M1157 1112h0M1172 1120h0M1150 1113h0M1165 1124h0M1166 1121h0M1155 1125h0"/><path stroke="#00e9ff" d="M836 1179h0M839 1174h0M841 1177h0M843 1174h0M842 1182h0M845 1181h0M849 1175h0M848 1182h0M851 1177h0M852 1187h0M856 1180h0M855 1190h0M859 1184h0M861 1184h0M863 1177h0M866 1175h0M863 1192h0M868 1183h0M870 1182h0M871 1184h0M870 1192h0M875 1186h0M875 1190h0M879 1188h0M879 1190h0"/><path stroke="#00fdff" d="M884 1184h0M884 1190h0M881 1200h0M889 1189h0M892 1186h0"/><path stroke="#00e9ff" d="M845 1167h0M834 1161h0M839 1162h0M842 1163h0M847 1163h0M831 1156h0M851 1164h0M849 1162h0M848 1160h0M833 1153h0M845 1158h0M851 1159h0M850 1158h0M847 1155h0M843 1153h0M851 1156h0M851 1155h0M851 1153h0M854 1153h0M849 1151h0M1047 928h0M1032 912h0M1048 927h0M1039 917h0M1050 926h0M1041 916h0M1037 911h0M1039 911h0M1037 908h0"/><path stroke="#00d5ff" d="M856 1153h0M857 1153h0M840 1145h0M858 1151h0M846 1145h0M850 1146h0M845 1143h0M845 1142h0M856 1146h0M859 1145h0M854 1143h0M852 1141h0M852 1140h0M847 1137h0M848 1137h0M854 1138h0M856 1138h0M842 1132h0M858 1137h0M849 1133h0M856 1135h0M842 1128h0M858 1134h0M864 1136h0M857 1131h0M864 1133h0M857 1130h0M850 1126h0M854 1126h0M863 1129h0M853 1125h0M857 1125h0M855 1124h0M858 1124h0M851 1120h0M856 1121h0M859 1121h0M848 1116h0M854 1118h0M1042 934h0M1033 924h0M1030 919h0M1034 922h0M1041 928h0M1040 926h0M1034 919h0M1038 921h0M1037 920h0"/><path stroke="#00c1ff" d="M848 1114h0M848 1114h0M862 1118h0M867 1120h0M866 1118h0M859 1114h0M863 1115h0M855 1111h0M856 1110h0M866 1114h0M861 1110h0M865 1111h0M861 1109h0M865 1110h0M873 1112h0M859 1105h0M867 1108h0M869 1108h0M861 1104h0M874 1107h0M855 1099h0M856 1096h0M856 1095h0M874 1106h0M873 1105h0M871 1102h0M877 1105h0M864 1096h0M1026 930h0M1036 938h0M1027 929h0M1033 933h0M1040 939h0M1040 938h0M1033 930h0M1042 937h0M1027 921h0M1031 925h0"/><path stroke="#00acff" d="M861 1092h0M866 1094h0M876 1100h0M873 1098h0M864 1090h0M876 1097h0M871 1093h0M872 1093h0M864 1086h0M882 1097h0M866 1086h0M868 1086h0M880 1093h0M873 1087h0M868 1083h0M866 1081h0M874 1085h0M1019 935h0M1028 942h0M1016 929h0M1032 943h0M1028 940h0M1030 940h0M1021 930h0M1023 931h0M1024 930h0M1031 936h0"/><path stroke="#0096ff" d="M885 1091h0M881 1087h0M878 1084h0M871 1079h0M881 1084h0M886 1087h0M886 1086h0M871 1075h0M871 1074h0M884 1081h0M883 1080h0M886 1081h0M890 1082h0M882 1077h0M888 1079h0M894 1082h0M1026 953h0M1015 941h0M1013 938h0M1015 940h0M1026 948h0M1020 942h0M1012 933h0M1022 941h0M1013 932h0M1021 938h0"/><path stroke="#0080ff" d="M885 1075h0M892 1079h0M889 1075h0M886 1073h0M885 1071h0M889 1072h0M892 1073h0M879 1064h0M884 1066h0M894 1072h0M882 1063h0M879 1060h0M898 1072h0M892 1067h0M881 1059h0M884 1059h0M1005 957h0M1007 958h0M1004 953h0M998 946h0M1002 948h0M1012 960h0M1009 955h0M1002 945h0M1015 959h0M1012 954h0M1012 954h0M1015 956h0M1016 955h0M1020 959h0M1013 949h0M1018 954h0M1020 953h0M1020 952h0M1023 955h0M1025 954h0M1013 942h0"/><path stroke="#0069ff" d="M891 1063h0M884 1058h0M891 1061h0M897 1064h0M895 1062h0M892 1058h0M899 1062h0M890 1056h0M891 1054h0M890 1052h0M902 1062h0M894 1052h0M903 1061h0M906 1062h0M902 1058h0M908 1062h0M893 1046h0M897 1049h0M903 1053h0M909 1058h0M898 1046h0M896 1043h0M909 1056h0M899 1044h0M902 1045h0M912 1054h0M902 1043h0M912 1051h0M902 1040h0M915 1053h0M905 1041h0M903 1038h0M916 1050h0M985 974h0M991 980h0M993 980h0M988 973h0M991 976h0M982 965h0M991 973h0M989 971h0M996 977h0M993 972h0M985 961h0M990 965h0M994 969h0M997 972h0M993 966h0M991 962h0M987 956h0M990 958h0M1000 968h0M994 960h0M996 961h0M992 955h0M1000 963h0M1003 966h0M992 952h0M1004 964h0M1007 966h0M996 953h0M1008 966h0M1010 965h0M1005 958h0"/><path stroke="#0052ff" d="M906 1038h0M903 1034h0M918 1049h0M910 1040h0M912 1039h0M907 1034h0M915 1041h0M916 1040h0M912 1035h0M920 1041h0M915 1036h0M920 1041h0M915 1034h0M913 1030h0M919 1034h0M919 1033h0M922 1035h0M920 1032h0M924 1035h0M919 1029h0M915 1024h0M931 1039h0M928 1034h0M920 1024h0M924 1027h0M920 1023h0M932 1034h0M932 1033h0M934 1033h0M931 1030h0M930 1027h0M935 1031h0M922 1017h0M932 1026h0M932 1025h0M931 1023h0M926 1016h0M940 1028h0M936 1024h0M942 1028h0M931 1016h0M938 1022h0M935 1018h0M937 1019h0M940 1020h0M932 1011h0M939 1018h0M940 1018h0M942 1017h0M931 1006h0M963 989h0M960 984h0M959 981h0M971 994h0M971 993h0M965 984h0M975 995h0M969 988h0M976 993h0M973 988h0M969 983h0M978 992h0M969 980h0M967 976h0M968 977h0M972 980h0M975 982h0M976 982h0M976 981h0M974 978h0M977 979h0M977 978h0M972 971h0M974 971h0M985 984h0M982 978h0M978 973h0M988 984h0M988 982h0M989 982h0M981 971h0"/><path stroke="#023eff" d="M946 1019h0M938 1011h0M949 1020h0M945 1015h0M947 1015h0M946 1013h0M936 1003h0M941 1007h0M943 1007h0M948 1011h0M951 1012h0M954 1014h0M942 1002h0M943 1000h0M940 997h0M945 1000h0M957 1011h0M946 1000h0M949 1001h0M957 1007h0M951 1000h0M951 1000h0M951 999h0M951 997h0M961 1006h0M962 1007h0M952 994h0M957 997h0M963 1004h0M955 994h0M965 1003h0M954 990h0M960 995h0M960 994h0M962 995h0M968 1001h0M968 1000h0M960 989h0M957 985h0M964 991h0"/><path stroke="#00fdff" d="M1049 920h0M1053 923h0M1053 922h0M1044 911h0M1054 920h0M1042 906h0M1047 910h0"/><path stroke="#00fceb" d="M1041 902h0M1041 902h0M1055 916h0M1051 910h0M1046 903h0M1048 905h0M1054 909h0M1054 908h0"/><path stroke="#31fcd6" d="M1058 912h0M1052 903h0M1060 911h0M1055 904h0M1054 901h0M1064 911h0M1055 900h0M1067 913h0"/><path stroke="#55fbc0" d="M1061 904h0M1063 905h0M1067 909h0M1065 905h0M1067 906h0M1063 901h0M1070 907h0"/><path stroke="#73fba9" d="M1060 894h0M1059 892h0M1060 892h0M1058 888h0M1067 897h0M1060 888h0M1063 890h0"/><path stroke="#8dfb92" d="M1073 900h0M1062 887h0M1071 895h0M1070 894h0M1069 897h0M1069 900h0M1070 899h0"/><path stroke="#a6fb79" d="M1071 898h0M1078 885h0M1070 906h0M1072 903h0M1081 887h0M1078 894h0M1079 893h0"/><path stroke="#befb5e" d="M1080 894h0M1077 900h0M1082 893h0M1082 894h0M1082 896h0M1080 902h0M1078 909h0M1087 892h0"/><path stroke="#d4fb41" d="M1089 890h0M1090 890h0M1084 904h0M1081 912h0M1085 906h0M1088 901h0"/><path stroke="#eafb1e" d="M1086 909h0M1091 900h0M1092 898h0M1089 908h0M1092 903h0M1098 893h0M1091 909h0M1098 895h0"/><path stroke="#fffb00" d="M1095 905h0M1098 902h0M1099 902h0M1106 905h0M1093 907h0M1103 907h0M1101 908h0M1110 907h0M1095 911h0"/><path stroke="#ffe800" d="M1093 912h0M1100 911h0M1108 911h0M1089 915h0M1100 914h0M1106 914h0M1100 916h0M1094 918h0M1098 917h0M1112 917h0M1097 920h0M1110 919h0M1104 920h0"/><path stroke="#ffd300" d="M1092 923h0M1092 924h0M1092 925h0M1087 926h0M1111 924h0M1102 926h0M1111 925h0M1087 930h0M1091 930h0M1095 930h0M1105 930h0M1110 930h0"/><path stroke="#ffbf00" d="M1105 932h0M1110 932h0M1104 934h0M1115 933h0M1111 934h0M1108 935h0M1105 937h0M1107 937h0M1094 939h0M1115 937h0M1094 942h0M1101 942h0M1092 944h0M1112 941h0"/><path stroke="#ffa900" d="M1089 945h0M1110 943h0M1116 943h0M1114 945h0M1096 948h0M1091 949h0M1105 950h0M1096 944h0M1111 957h0M1102 952h0M1097 948h0M1094 946h0M1101 954h0M1091 946h0M1107 961h0"/><path stroke="#ff9300" d="M1097 953h0M1103 960h0M1093 952h0M1105 964h0M1095 956h0M1093 956h0M1100 963h0M1101 964h0M1101 966h0M1092 959h0M1084 954h0M1090 960h0M1081 954h0M1094 965h0M1082 956h0M1081 957h0M1082 959h0M1083 961h0M1079 958h0"/><path stroke="#ff7c00" d="M1097 974h0M1094 973h0M1084 966h0M1077 961h0M1075 960h0M1095 978h0M1094 979h0M1081 969h0M1083 971h0M1073 964h0M1075 967h0M1071 965h0M1083 976h0M1072 967h0M1076 972h0M1077 975h0M1088 984h0M1077 976h0"/><path stroke="#ff6400" d="M1069 971h0M1073 975h0M1085 986h0M1083 986h0M1076 980h0M1075 981h0M1067 976h0M1072 981h0M1065 975h0M1080 989h0M1075 991h0M1065 972h0M1068 978h0M1071 989h0M1067 982h0M1071 992h0M1063 975h0M1067 987h0M1069 993h0M1059 974h0M1070 999h0"/><path stroke="#ff4c00" d="M1067 995h0M1057 976h0M1063 989h0M1060 985h0M1062 992h0M1065 1002h0M1065 1001h0M1061 995h0M1059 994h0M1056 990h0M1061 1001h0M1056 994h0M1051 983h0M1059 1004h0M1059 1005h0M1053 995h0M1052 995h0M1050 993h0M1046 987h0M1051 998h0M1052 1003h0M1051 1003h0M1045 992h0M1051 1006h0"/><path stroke="#ff3400" d="M1040 985h0M1050 1008h0M1049 1009h0M1046 1004h0M1039 991h0M1042 999h0M1037 991h0M1043 1004h0M1043 1008h0M1044 1011h0M1035 994h0M1035 995h0"/><path stroke="#ff2600" d="M1000 991h0M1006 996h0M1010 997h0M1010 1000h0M1011 1005h0M1004 1008h0M1013 1011h0M1007 1014h0M1012 1016h0M1006 1018h0M1013 1022h0M999 1024h0M1007 1028h0"/><path stroke="#ed2200" d="M959 1006h0M954 1009h0M953 1013h0M965 1017h0M952 1020h0M959 1022h0M959 1025h0M958 1029h0M967 1030h0M958 1036h0M966 1038h0M964 1039h0M956 1044h0"/><path stroke="#d81e00" d="M896 1020h0M905 1024h0M900 1028h0M891 1032h0M893 1034h0M890 1036h0M890 1039h0M891 1045h0M903 1047h0M901 1048h0M896 1053h0M903 1056h0M891 1058h0"/><path stroke="#c21a00" d="M829 1040h0M820 1041h0M827 1045h0M825 1049h0M824 1051h0M829 1054h0M822 1057h0M827 1062h0M821 1063h0M832 1067h0M820 1070h0M829 1075h0M823 1078h0"/><path stroke="#ab1500" d="M737 1059h0M749 1061h0M746 1063h0M746 1066h0M736 1069h0M738 1072h0M747 1075h0M743 1078h0M743 1081h0M737 1084h0M735 1087h0M739 1091h0M743 1096h0"/><path stroke="#941100" d="M647 1077h0M643 1080h0M638 1085h0M638 1086h0M649 1089h0M647 1093h0M649 1095h0M644 1098h0M644 1103h0M640 1104h0M643 1108h0M640 1112h0M650 1114h0"/><path stroke="#941100" d="M593 1102h0M591 1106h0M598 1109h0M593 1113h0M595 1115h0M589 1117h0M589 1122h0M600 1124h0M594 1126h0M592 1131h0M590 1135h0M592 1136h0M594 1138h0"/><path stroke="#941100" d="M600 1108h0M597 1113h0M597 1118h0M598 1122h0M592 1126h0M595 1130h0M594 1134h0M601 1138h0"/><path stroke="#0096ff" d="M915 1096h0M914 1094h0M917 1092h0M919 1090h0M922 1086h0M919 1077h0M931 1083h0M922 1072h0M929 1073h0M938 1074h0M939 1071h0M935 1062h0M936 1057h0M943 1059h0M951 1060h0M943 1049h0"/><path stroke="#0096ff" d="M986 1066h0M986 1062h0M993 1065h0M993 1057h0M990 1051h0M1002 1058h0M996 1048h0M1002 1050h0M997 1042h0M1010 1047h0M1006 1040h0M1004 1035h0M1017 1039h0M1013 1034h0M1019 1032h0M1022 1032h0"/><path stroke="#0096ff" d="M1066 1043h0M1066 1041h0M1065 1036h0M1069 1034h0M1070 1028h0M1073 1025h0M1073 1023h0M1077 1024h0M1077 1018h0M1080 1013h0M1082 1013h0M1087 1012h0M1087 1007h0M1094 1009h0M1099 1007h0M1096 999h0M1095 995h0M1107 1001h0M1111 998h0M1106 989h0"/><path stroke="#0224c0" d="M941 1159h0M941 1158h0M943 1153h0M952 1158h0M956 1155h0M952 1146h0M956 1142h0M956 1140h0M968 1144h0M966 1137h0M966 1133h0M974 1131h0M974 1129h0M977 1127h0M974 1120h0M979 1119h0M985 1117h0M983 1109h0"/><path stroke="#0229d6" d="M1056 1150h0M1051 1141h0M1060 1145h0M1059 1138h0M1067 1143h0M1063 1130h0M1068 1134h0M1069 1127h0M1079 1132h0M1077 1127h0M1083 1128h0M1084 1120h0M1081 1115h0M1091 1116h0M1092 1112h0M1096 1115h0M1095 1106h0M1097 1102h0"/><path stroke="#0224c0" d="M818 1153h0M844 1123h0M766 1073h0"/><path stroke="#0333ff" d="M1122 1021h0M1128 1022h0M1128 1015h0M1134 1016h0M1137 1014h0M1132 1006h0M1143 1007h0M1142 1003h0M1146 1002h0M1147 996h0M1153 995h0M1154 993h0M1154 988h0M1158 983h0M1160 980h0M1161 980h0M1167 978h0M1171 977h0M1173 974h0M1172 969h0M1177 965h0M1174 956h0M1176 954h0M1180 955h0M1181 949h0M1185 947h0M1184 942h0M1192 944h0M1197 941h0M1203 940h0"/><path stroke="#032eeb" d="M1185 1002h0M1191 1001h0M1190 998h0M1196 997h0M1199 995h0M1203 994h0M1205 993h0M1202 984h0M1207 984h0M1205 976h0M1209 975h0M1215 977h0M1215 972h0M1213 970h0M1224 974h0M1222 966h0M1224 966h0M1228 964h0M1224 956h0M1234 962h0M1237 959h0M1239 954h0"/><path stroke="#0052ff" d="M810 1006h0M822 993h0M839 975h0M839 972h0M838 967h0M839 962h0M867 968h0M869 966h0M874 967h0M844 953h0M847 949h0M855 948h0M870 952h0M868 950h0M874 947h0M864 941h0M890 943h0M891 933h0M900 931h0M882 919h0M888 913h0M912 921h0M891 908h0M915 910h0M910 900h0M912 898h0M900 889h0M916 894h0M920 895h0M905 878h0M938 885h0M913 870h0M926 854h0"/><path stroke="#0333ff" d="M832 1011h0M828 1000h0M843 997h0M837 988h0M845 989h0M848 982h0M862 985h0M854 982h0M863 974h0M889 944h0M893 931h0M898 921h0M896 909h0M914 912h0M900 896h0M924 895h0M916 884h0M930 887h0M910 873h0M936 878h0M940 874h0M931 861h0M930 860h0M937 858h0"/><path stroke="#023eff" d="M831 1009h0M822 1003h0M826 1003h0M826 1001h0M828 998h0M835 996h0M824 988h0M839 986h0M846 986h0M842 970h0M859 970h0M848 952h0M862 953h0M866 948h0M880 945h0M870 940h0M885 941h0M883 936h0M872 931h0M883 931h0M901 935h0M904 928h0M877 914h0M900 920h0M909 919h0M901 906h0M920 909h0M901 891h0M924 893h0M911 884h0M929 885h0M929 872h0M919 865h0M937 869h0M936 866h0"/><path stroke="#032eeb" d="M834 1009h0M849 996h0M846 992h0"/><path stroke="#0069ff" d="M841 982h0M851 976h0M853 964h0M859 957h0M857 942h0M865 926h0M874 918h0M898 907h0M893 898h0M917 871h0"/><path stroke="#0229d6" d="M943 883h0M981 886h0M922 903h0M999 862h0M984 850h0M895 939h0M910 948h0"/><path stroke="#d4fb41" d="M697 1304h0M700 1304h0M706 1307h0M705 1302h0M707 1296h0M713 1302h0M713 1299h0M718 1301h0"/><path stroke="#befb5e" d="M717 1292h0M723 1296h0M726 1293h0M725 1285h0M730 1289h0M734 1288h0M739 1287h0M737 1280h0M741 1281h0M743 1279h0M745 1278h0M752 1283h0M756 1282h0M755 1273h0"/><path stroke="#a6fb79" d="M758 1271h0M761 1272h0M762 1268h0M770 1273h0M773 1272h0M774 1268h0M776 1270h0M780 1269h0M781 1261h0M785 1260h0M784 1257h0M792 1259h0M794 1257h0"/><path stroke="#8dfb92" d="M793 1251h0M799 1257h0M798 1249h0M807 1256h0M805 1244h0M810 1247h0M812 1246h0M814 1244h0M817 1242h0M821 1241h0"/><path stroke="#73fba9" d="M821 1239h0M828 1239h0M831 1241h0M829 1233h0M834 1237h0M835 1231h0M841 1229h0M846 1235h0M846 1228h0M851 1230h0"/><path stroke="#55fbc0" d="M851 1222h0M857 1230h0M859 1229h0M860 1221h0M865 1227h0"/><path stroke="#ffbf00" d="M714 1250h0M730 1258h0M745 1250h0M775 1240h0M790 1262h0M805 1250h0M815 1236h0"/><path stroke="#ffe800" d="M936 1203h0M942 1200h0M951 1201h0M973 1203h0M978 1204h0M987 1208h0M1010 1201h0M1021 1208h0M1024 1208h0M1038 1208h0M1055 1200h0M1066 1209h0M1081 1200h0M1087 1206h0"/><path stroke="#ffe800" d="M1013 1231h0M1022 1236h0M1032 1232h0M1044 1228h0M1050 1235h0M1064 1230h0M1077 1234h0M1083 1234h0M1092 1232h0"/><path stroke="#fffb00" d="M1153 1159h0M1155 1170h0M1160 1168h0M1162 1179h0M1170 1169h0M1176 1167h0M1175 1179h0M1185 1168h0M1189 1181h0M1194 1176h0M1198 1183h0M1201 1190h0M1207 1177h0M1212 1193h0M1214 1195h0M1219 1199h0"/><path stroke="#032eeb" d="M1295 934h0M1283 943h0M1309 938h0M1323 922h0M1346 914h0M1316 954h0M1270 974h0M1335 929h0M1328 934h0M1261 972h0M1327 919h0M1304 961h0M1304 946h0M1261 973h0M1293 967h0M1314 921h0M1263 978h0M1346 929h0M1391 928h0M1311 958h0M1295 938h0M1298 942h0M1270 976h0M1336 949h0M1275 971h0M1267 991h0M1351 922h0M1362 927h0M1302 938h0M1342 915h0M1303 926h0M1272 975h0M1368 917h0M1358 914h0M1378 916h0M1318 936h0M1317 926h0M1311 934h0M1292 973h0M1290 954h0M1267 954h0M1361 914h0M1271 976h0M1304 952h0M1270 974h0M1296 934h0M1302 943h0M1316 925h0M1307 936h0M1325 935h0M1304 936h0M1358 919h0M1277 941h0M1373 919h0M1340 946h0M1316 938h0M1294 959h0M1363 914h0M1267 962h0M1309 927h0M1309 967h0M1282 969h0M1305 936h0M1318 922h0M1292 940h0M1315 931h0M1310 921h0M1300 929h0M1309 961h0M1385 921h0M1286 975h0M1285 978h0M1299 944h0M1318 925h0M1340 956h0M1272 948h0M1281 999h0M1276 953h0M1320 968h0M1290 962h0M1359 922h0M1299 945h0M1281 940h0M1269 971h0M1293 945h0M1296 930h0M1282 945h0M1367 916h0M1332 926h0M1339 917h0M1284 942h0M1264 974h0M1284 941h0M1368 920h0M1384 919h0M1325 943h0M1289 980h0"/><path stroke="#0333ff" d="M1326 934h0M1272 986h0M1319 969h0M1320 926h0M1391 945h0M1333 941h0M1383 930h0M1268 982h0M1299 992h0M1313 957h0M1383 950h0M1341 959h0M1331 941h0M1350 947h0M1336 948h0M1300 937h0M1301 986h0M1353 912h0M1354 935h0M1287 990h0M1363 916h0M1335 930h0M1344 929h0M1300 961h0M1267 979h0M1322 917h0M1379 932h0M1344 969h0M1318 947h0M1278 974h0M1265 977h0M1383 939h0M1352 935h0M1331 936h0M1316 938h0M1282 969h0M1371 924h0M1380 939h0M1294 945h0M1421 940h0M1292 967h0M1320 951h0M1284 949h0M1277 976h0M1293 971h0M1276 953h0M1355 944h0M1269 961h0M1271 971h0M1316 970h0M1338 919h0M1364 926h0M1347 947h0M1323 938h0M1317 1015h0M1292 984h0M1389 918h0M1276 964h0M1296 949h0M1417 953h0M1279 950h0M1268 970h0M1267 977h0M1297 945h0M1325 947h0M1349 968h0M1325 948h0M1374 923h0M1295 982h0M1339 927h0M1307 935h0M1267 971h0M1317 984h0M1310 993h0M1295 971h0M1296 967h0M1340 923h0M1358 918h0M1303 964h0M1359 974h0M1327 930h0M1349 964h0M1335 964h0M1374 943h0M1384 925h0M1374 920h0M1334 944h0M1352 941h0M1279 965h0M1361 918h0M1327 940h0M1343 953h0M1291 975h0M1320 954h0M1288 991h0M1313 976h0M1282 972h0M1392 920h0M1389 963h0M1280 978h0M1310 975h0M1289 967h0M1334 954h0M1338 936h0M1394 930h0M1329 929h0M1314 972h0M1315 961h0M1323 941h0M1282 936h0M1315 979h0M1316 929h0M1304 989h0M1296 935h0M1346 917h0M1298 957h0M1363 940h0M1374 917h0M1355 920h0M1372 979h0M1348 937h0M1311 946h0M1320 952h0M1288 989h0M1343 943h0M1361 934h0M1283 1002h0M1298 958h0M1376 935h0M1325 951h0M1323 970h0M1276 983h0M1289 963h0M1368 924h0M1291 978h0M1275 983h0M1312 958h0M1346 920h0M1351 980h0M1356 968h0M1286 966h0M1346 933h0M1378 947h0M1382 955h0M1277 994h0M1316 935h0M1352 996h0M1348 925h0M1277 987h0M1283 971h0M1293 981h0M1346 937h0M1326 946h0M1352 954h0M1272 995h0M1331 917h0M1294 931h0M1357 912h0M1341 946h0M1309 966h0M1376 914h0M1329 965h0M1381 929h0M1341 962h0M1368 957h0M1320 952h0M1283 961h0M1266 983h0M1344 940h0M1280 1002h0M1385 921h0M1349 917h0M1265 971h0M1371 951h0M1360 931h0M1386 922h0M1330 976h0M1354 922h0M1363 951h0M1310 972h0M1288 954h0M1369 934h0M1391 943h0M1291 995h0M1356 932h0M1284 990h0M1325 944h0M1312 959h0M1307 957h0M1369 922h0M1341 930h0M1287 939h0M1362 946h0M1314 974h0M1316 972h0M1329 923h0M1333 938h0M1320 947h0M1345 960h0M1295 943h0M1339 918h0M1311 969h0M1322 937h0M1265 983h0M1293 989h0M1295 969h0M1282 975h0M1382 940h0M1271 958h0M1348 964h0M1334 926h0M1308 929h0M1272 976h0"/><path stroke="#0052ff" d="M1377 993h0M1396 961h0M1366 962h0M1345 986h0M1420 940h0M1343 962h0M1307 1001h0M1413 971h0M1366 996h0M1395 951h0M1384 956h0M1326 1015h0M1391 968h0M1361 977h0M1410 944h0M1375 968h0M1423 953h0M1425 951h0M1332 996h0M1397 969h0M1413 964h0M1305 981h0M1398 930h0M1312 1000h0M1370 937h0M1366 971h0M1391 958h0M1380 998h0M1351 965h0M1415 958h0M1307 1013h0M1419 946h0M1402 943h0M1300 983h0M1372 1011h0M1400 929h0M1414 946h0M1366 997h0M1389 981h0M1361 971h0M1396 965h0M1344 980h0M1323 1006h0M1349 955h0M1381 978h0M1399 969h0M1418 954h0M1339 935h0M1405 976h0M1331 999h0M1415 962h0M1346 984h0M1344 1012h0M1367 982h0M1384 984h0M1356 966h0M1307 1011h0M1354 980h0M1365 997h0M1391 955h0M1326 1010h0M1420 954h0M1325 966h0M1350 983h0M1374 923h0M1429 956h0M1310 974h0M1302 965h0M1322 997h0M1343 1011h0M1413 989h0M1415 950h0M1402 947h0M1328 1014h0M1390 953h0M1403 980h0M1346 984h0M1355 997h0M1380 974h0M1366 953h0M1293 1005h0M1362 980h0M1394 951h0M1400 942h0M1373 998h0M1400 977h0M1406 935h0M1358 1003h0M1377 951h0M1391 931h0M1339 1017h0M1392 934h0M1397 921h0M1373 989h0M1318 1000h0M1361 993h0M1350 960h0M1386 971h0M1329 951h0M1331 1016h0M1342 981h0M1376 973h0M1373 978h0M1389 988h0M1330 1004h0M1306 1008h0M1278 1003h0M1310 1014h0M1358 992h0M1362 982h0M1320 1008h0M1383 977h0M1293 996h0M1416 933h0M1320 988h0M1373 985h0M1385 918h0M1308 1011h0M1391 990h0M1291 986h0M1390 978h0M1338 1006h0M1382 950h0M1356 916h0M1357 992h0M1293 1004h0M1394 974h0M1387 1000h0M1394 955h0M1399 941h0M1382 980h0M1398 944h0M1282 990h0M1354 1003h0M1410 959h0M1408 975h0M1338 955h0M1324 992h0M1367 1001h0M1289 1003h0M1322 1009h0M1343 967h0M1370 966h0M1294 988h0M1334 970h0M1421 952h0M1376 938h0M1395 950h0M1360 977h0M1403 957h0M1348 969h0M1306 1010h0M1301 1003h0M1425 963h0M1405 958h0M1343 971h0M1369 1000h0M1413 971h0M1302 997h0M1392 970h0M1353 983h0M1327 996h0M1403 951h0M1382 991h0M1365 962h0M1405 979h0M1343 1009h0M1417 936h0M1371 974h0M1394 983h0M1392 956h0M1358 1001h0M1405 924h0M1337 978h0M1381 964h0M1386 941h0M1366 992h0M1360 975h0M1406 980h0M1329 966h0M1347 975h0M1327 981h0M1405 990h0M1358 993h0M1382 956h0M1331 980h0M1357 994h0M1384 987h0M1364 960h0M1377 968h0M1376 990h0M1375 989h0M1268 990h0M1346 997h0M1342 975h0M1418 954h0M1408 969h0"/><path stroke="#023eff" d="M1300 1002h0M1346 933h0M1355 992h0M1281 954h0M1358 956h0M1386 940h0M1406 934h0M1330 921h0M1352 983h0M1388 945h0M1321 965h0M1293 957h0M1284 988h0M1412 943h0M1401 951h0M1337 992h0M1284 990h0M1356 954h0M1356 985h0M1402 942h0M1392 947h0M1274 974h0M1343 971h0M1271 996h0M1327 972h0M1331 978h0M1298 985h0M1383 958h0M1291 967h0M1282 971h0M1403 944h0M1416 931h0M1300 1003h0M1376 925h0M1322 981h0M1390 954h0M1361 949h0M1340 1005h0M1327 992h0M1381 951h0M1338 988h0M1291 1004h0M1348 953h0M1383 958h0M1367 957h0M1326 992h0M1327 987h0M1370 957h0M1285 1003h0M1384 967h0M1363 980h0M1337 961h0M1321 1012h0M1368 962h0M1329 985h0M1321 962h0M1353 942h0M1294 1000h0M1399 961h0M1354 995h0M1311 968h0M1326 978h0M1322 994h0M1354 994h0M1379 951h0M1343 939h0M1292 1008h0M1318 1017h0M1347 964h0M1380 963h0M1404 971h0M1383 926h0M1366 991h0M1317 979h0M1349 976h0M1291 1007h0M1327 964h0M1345 943h0M1397 927h0M1303 1011h0M1287 981h0M1319 963h0M1386 926h0M1344 962h0M1409 929h0M1365 991h0M1344 973h0M1337 955h0M1285 984h0M1307 982h0M1387 973h0M1417 960h0M1341 956h0M1347 961h0M1298 1009h0M1287 985h0M1393 924h0M1401 929h0M1376 921h0M1337 956h0M1346 956h0M1356 958h0M1289 1003h0M1361 941h0M1349 963h0M1323 965h0M1372 923h0M1412 944h0M1294 995h0M1345 959h0M1391 939h0M1372 924h0M1355 967h0M1365 960h0M1301 987h0M1305 988h0M1341 991h0M1346 958h0M1322 935h0M1333 1011h0M1304 954h0M1324 954h0M1317 975h0M1343 966h0M1334 987h0M1295 999h0M1352 938h0M1390 942h0M1352 972h0M1303 998h0M1403 943h0M1282 990h0M1314 1011h0M1287 986h0M1388 948h0M1344 988h0M1310 1007h0M1275 994h0M1330 1005h0M1344 964h0M1411 931h0M1281 971h0M1308 979h0M1375 926h0M1310 981h0M1384 922h0M1333 965h0M1376 946h0M1303 983h0M1308 992h0M1397 937h0M1403 959h0M1381 995h0M1401 958h0M1326 988h0M1336 968h0M1313 990h0M1283 1000h0M1372 971h0M1359 942h0M1328 983h0M1386 948h0M1352 930h0M1294 1010h0M1346 969h0M1311 996h0M1341 972h0M1391 932h0M1345 966h0M1390 949h0M1352 945h0M1336 987h0M1293 1008h0M1327 984h0M1370 966h0M1326 961h0M1376 984h0M1282 993h0M1303 1002h0M1316 964h0M1316 1005h0M1325 980h0M1388 948h0M1288 984h0M1414 950h0M1300 1004h0M1283 981h0M1353 966h0M1326 968h0M1357 960h0M1316 972h0M1289 975h0M1366 970h0M1301 1005h0M1341 965h0M1346 989h0M1406 980h0M1389 950h0M1367 947h0M1353 926h0M1302 999h0M1277 998h0M1345 939h0M1364 988h0M1333 935h0M1373 975h0M1300 967h0M1341 952h0M1332 926h0M1305 949h0M1293 1007h0M1340 994h0M1328 955h0M1334 951h0M1316 1000h0M1379 972h0M1397 969h0M1379 954h0M1326 976h0M1338 982h0M1315 925h0M1365 981h0M1360 977h0M1376 949h0M1339 942h0M1408 961h0M1373 955h0M1327 965h0M1413 962h0M1390 943h0M1351 976h0M1380 941h0M1327 978h0M1303 988h0M1296 961h0M1412 969h0M1277 987h0M1322 970h0M1293 987h0M1359 959h0M1396 927h0M1345 957h0M1298 973h0M1308 1000h0M1359 957h0M1272 979h0M1369 961h0M1267 986h0M1385 945h0M1346 931h0M1334 959h0M1322 989h0M1328 996h0M1298 1004h0M1342 983h0M1267 975h0M1357 934h0M1275 995h0"/><path stroke="#0069ff" d="M1409 975h0M1404 964h0M1390 988h0M1390 958h0M1352 1001h0M1363 1014h0M1401 979h0M1413 985h0M1384 1002h0M1382 967h0M1395 963h0M1407 993h0M1402 952h0M1366 986h0M1402 935h0M1335 964h0M1391 966h0M1356 969h0M1389 980h0M1379 1008h0M1389 967h0M1379 1003h0M1363 1014h0M1353 1004h0M1424 944h0M1382 995h0M1337 990h0M1386 984h0M1391 1004h0M1354 1009h0M1350 992h0M1401 977h0M1373 981h0M1308 1006h0M1415 965h0M1385 969h0M1429 957h0M1407 991h0M1413 989h0M1384 973h0M1371 1008h0M1380 999h0M1394 978h0M1382 1008h0M1394 1002h0M1366 980h0M1412 977h0M1355 980h0M1412 962h0M1418 956h0M1368 1002h0M1382 986h0M1379 995h0M1361 996h0M1408 981h0M1414 977h0M1384 1001h0M1314 1015h0M1428 965h0M1342 978h0M1427 950h0M1303 1007h0M1403 978h0M1374 954h0M1382 984h0M1396 1002h0M1340 1011h0M1403 982h0M1326 1013h0M1396 994h0M1411 979h0M1335 1009h0M1303 1013h0M1372 997h0M1407 944h0M1382 987h0M1330 1002h0M1383 998h0M1332 1016h0M1390 961h0M1341 1006h0M1392 987h0M1403 990h0M1386 990h0M1393 1000h0M1391 985h0M1388 964h0M1402 978h0M1367 975h0M1330 1010h0M1314 1013h0M1350 1012h0M1362 965h0M1377 997h0M1387 980h0M1412 961h0M1399 969h0M1298 1003h0M1381 1001h0M1410 990h0M1404 986h0"/><path stroke="#0080ff" d="M1349 1015h0M1422 975h0M1395 991h0M1356 1012h0M1405 990h0M1394 1000h0M1382 973h0M1369 1013h0M1424 976h0M1399 969h0M1388 998h0"/><path stroke="#0229d6" d="M1271 950h0M1274 954h0M1348 922h0M1348 931h0M1282 948h0M1359 917h0M1298 944h0M1310 925h0M1280 956h0M1330 921h0M1285 935h0M1343 939h0M1262 972h0M1275 953h0M1277 943h0M1265 978h0M1318 923h0M1301 944h0M1331 920h0M1280 946h0M1314 940h0M1302 927h0"/><path stroke="#0096ff" d="M1416 983h0"/><path stroke="#00acff" d="M1385 965h0M1370 993h0M1379 981h0M1380 986h0M1377 993h0M1377 995h0M1379 994h0M1378 998h0M1380 1001h0M1394 985h0M1388 996h0M1385 1003h0M1383 1010h0M1383 1014h0M1392 1002h0M1395 1003h0M1410 985h0M1399 1005h0M1408 991h0M1394 1017h0M1402 1016h0M1408 1010h0M1408 1015h0M1423 1004h0M1418 1020h0M1415 1026h0M1428 1008h0M1433 1010h0M1420 1035h0M1444 1004h0M1425 1034h0M1425 1036h0M1431 1034h0M1429 1040h0M1447 1022h0M1443 1028h0M1455 1021h0M1471 1054h0"/><path stroke="#0096ff" d="M1370 990h0M1374 989h0M1378 985h0M1371 999h0M1378 990h0M1373 1000h0M1381 994h0M1379 999h0M1375 1007h0M1394 978h0M1382 1001h0M1395 980h0M1395 984h0M1396 991h0M1384 1015h0M1405 981h0M1387 1017h0M1393 1009h0M1403 1002h0M1405 1003h0M1401 1019h0M1405 1017h0M1417 1015h0M1448 1010h0"/><path stroke="#0080ff" d="M1372 989h0M1400 983h0"/><path stroke="#00c1ff" d="M1401 977h0M1402 989h0M1390 1013h0M1406 992h0M1402 1006h0M1405 1004h0M1409 1000h0M1415 990h0M1415 992h0M1415 998h0M1415 1000h0M1422 993h0M1406 1021h0M1419 1004h0M1419 1004h0M1407 1025h0M1421 1005h0M1423 1003h0M1424 1006h0M1414 1023h0M1418 1018h0M1432 1000h0M1421 1020h0M1414 1034h0M1416 1033h0M1433 1005h0M1420 1028h0M1433 1010h0M1424 1028h0M1419 1038h0M1438 1016h0M1436 1023h0M1450 1014h0M1450 1019h0M1444 1032h0M1435 1045h0M1448 1033h0M1450 1032h0M1456 1026h0M1444 1043h0M1470 1063h0"/><path stroke="#00d5ff" d="M1419 1001h0M1423 1029h0M1441 1010h0M1438 1020h0M1430 1037h0M1437 1029h0M1440 1027h0M1439 1037h0M1452 1019h0M1448 1033h0M1457 1027h0M1452 1036h0M1454 1034h0M1456 1032h0M1462 1026h0M1450 1043h0M1460 1031h0M1446 1051h0M1452 1045h0M1464 1029h0M1452 1049h0M1456 1044h0M1463 1036h0M1467 1033h0M1456 1049h0M1468 1034h0M1455 1052h0M1469 1035h0M1470 1035h0M1463 1048h0M1460 1055h0M1464 1050h0M1471 1042h0M1463 1056h0M1477 1039h0M1471 1050h0M1464 1061h0M1469 1060h0M1474 1061h0"/><path stroke="#00e9ff" d="M1436 1018h0M1452 1014h0M1448 1031h0M1464 1031h0M1468 1040h0M1465 1045h0M1467 1055h0M1472 1052h0M1473 1052h0M1473 1053h0M1480 1048h0M1472 1061h0M1480 1053h0"/><path stroke="#00fdff" d="M1462 1054h0M1462 1058h0M1471 1061h0"/><path stroke="#0333ff" d="M1124 1017h0M1125 1012h0M1135 1017h0M1135 1013h0M1137 1011h0M1135 1003h0M1139 999h0M1139 995h0M1140 994h0M1151 998h0M1152 993h0M1151 989h0M1151 982h0M1155 980h0M1156 979h0M1162 980h0M1166 977h0M1169 972h0M1167 968h0M1165 962h0M1171 959h0M1171 955h0M1175 956h0M1180 956h0M1177 949h0M1185 949h0M1183 942h0M1191 944h0M1188 939h0M1190 936h0"/><path stroke="#032eeb" d="M1193 1006h0M1184 994h0M1190 995h0M1197 994h0M1199 993h0M1197 982h0M1205 987h0M1203 980h0M1208 977h0M1213 980h0M1210 974h0M1209 967h0M1216 968h0M1214 963h0M1225 966h0M1223 957h0M1225 955h0M1226 953h0M1234 951h0M1235 951h0M1233 944h0M1241 947h0M1246 946h0M1240 933h0M1248 938h0M1246 930h0M1257 933h0M1256 928h0M1257 924h0M1262 926h0M1264 922h0M1264 917h0"/><path stroke="#0229d6" d="M1229 1009h0M1233 1011h0M1238 1005h0M1241 1010h0M1243 1014h0M1248 1009h0M1249 1017h0M1255 1005h0M1256 1014h0M1260 1015h0M1260 1020h0M1268 1012h0M1268 1015h0M1272 1019h0M1275 1017h0M1280 1015h0"/><path stroke="#011eaa" d="M1472 920h0M1459 941h0M1484 927h0M1476 937h0M1503 921h0M1448 936h0M1509 920h0M1491 927h0M1496 919h0M1462 934h0M1480 930h0M1509 920h0M1467 923h0M1455 940h0M1463 931h0M1492 945h0M1491 927h0M1512 921h0M1484 946h0M1470 934h0M1468 921h0M1479 929h0M1503 918h0M1485 932h0M1452 936h0M1501 932h0M1508 926h0M1515 935h0M1468 946h0M1463 932h0M1457 934h0M1441 941h0M1497 931h0M1481 922h0M1446 935h0M1458 933h0M1455 927h0M1466 928h0M1448 944h0M1446 935h0M1464 922h0M1497 920h0M1461 931h0M1461 935h0M1450 930h0"/><path stroke="#0229d6" d="M1326 896h0M1379 875h0M1425 853h0M1450 860h0M1460 872h0M1468 882h0M1472 892h0M1465 839h0M1475 826h0M1500 835h0M1515 851h0M1516 798h0M1545 818h0M1556 803h0M1572 771h0M1568 844h0M1580 841h0M1566 864h0M1554 892h0M1536 914h0M1597 889h0M1600 885h0M1625 881h0M1677 828h0M1727 797h0M1748 775h0M1775 747h0"/><path stroke="#8dfb92" d="M1196 1071h0M1204 1084h0M1228 1094h0M1172 1080h0M1176 1109h0M1222 1094h0M1219 1096h0M1223 1089h0M1148 1074h0M1227 1098h0M1171 1060h0M1192 1095h0M1147 1096h0M1155 1066h0M1197 1092h0M1180 1088h0M1137 1086h0M1196 1100h0M1186 1083h0M1180 1096h0M1145 1101h0M1211 1096h0M1217 1075h0M1146 1076h0M1152 1085h0M1231 1094h0M1175 1074h0M1201 1080h0M1159 1076h0M1243 1084h0"/><path stroke="#55fbc0" d="M1176 1077h0M1190 1055h0M1186 1058h0M1149 1062h0M1219 1046h0M1149 1064h0M1150 1051h0M1137 1055h0M1132 1073h0M1167 1049h0M1170 1071h0M1224 1072h0M1183 1062h0M1195 1067h0M1142 1093h0M1188 1044h0M1215 1048h0M1226 1071h0M1156 1046h0M1183 1047h0M1169 1054h0M1197 1076h0M1190 1083h0M1157 1078h0M1188 1042h0M1159 1054h0M1170 1059h0M1220 1055h0M1186 1056h0M1169 1055h0M1200 1057h0M1176 1067h0M1161 1043h0"/><path stroke="#a6fb79" d="M1180 1090h0M1231 1086h0M1183 1097h0M1212 1103h0M1194 1107h0M1212 1082h0M1170 1105h0M1201 1109h0M1209 1097h0M1188 1097h0M1197 1095h0M1160 1099h0M1198 1106h0M1203 1096h0"/><path stroke="#73fba9" d="M1208 1071h0M1211 1065h0M1142 1071h0M1154 1087h0M1193 1054h0M1207 1089h0M1158 1105h0M1210 1099h0M1130 1065h0M1175 1071h0M1202 1070h0M1192 1097h0M1189 1087h0M1148 1050h0M1233 1063h0M1130 1063h0M1190 1103h0M1228 1084h0M1191 1108h0M1197 1055h0M1202 1074h0M1188 1082h0M1138 1075h0M1232 1092h0M1222 1065h0M1167 1102h0M1157 1091h0M1206 1108h0M1149 1067h0M1198 1103h0M1224 1064h0M1177 1109h0M1186 1047h0M1154 1045h0M1209 1069h0M1168 1074h0M1243 1083h0M1145 1094h0M1137 1058h0M1151 1102h0M1159 1055h0M1136 1074h0M1210 1103h0M1138 1069h0M1204 1060h0M1226 1081h0M1204 1100h0M1175 1079h0M1155 1066h0M1204 1079h0M1159 1080h0M1174 1068h0M1205 1101h0M1180 1079h0M1155 1075h0M1206 1063h0M1145 1086h0M1230 1086h0"/><path stroke="#00fceb" d="M1217 1052h0M1180 1041h0"/><path stroke="#31fcd6" d="M1232 1066h0M1152 1053h0M1216 1059h0M1215 1045h0M1211 1054h0M1160 1063h0M1188 1057h0M1138 1066h0M1182 1039h0M1182 1041h0M1169 1055h0M1211 1043h0M1224 1048h0"/><path stroke="#31fcd6" d="M1248 1064h0M1254 1041h0M1255 1051h0M1257 1055h0M1262 1052h0M1266 1040h0M1266 1039h0M1269 1050h0M1290 1052h0M1298 1047h0M1311 1060h0M1311 1069h0M1339 1076h0M1380 1059h0M1430 1062h0M1454 1076h0M1489 1079h0"/><path stroke="#55fbc0" d="M1251 1060h0M1260 1036h0M1259 1061h0M1271 1047h0M1273 1050h0M1273 1068h0M1278 1043h0M1279 1040h0M1279 1052h0M1281 1042h0M1279 1067h0M1282 1054h0M1288 1045h0M1289 1053h0M1294 1046h0M1292 1072h0M1302 1049h0M1302 1064h0M1304 1073h0M1312 1072h0M1316 1055h0M1318 1073h0M1325 1058h0M1327 1070h0M1328 1075h0M1337 1054h0M1347 1070h0M1347 1074h0M1351 1056h0M1361 1066h0M1365 1061h0M1366 1069h0M1370 1056h0M1370 1079h0M1372 1076h0M1387 1059h0M1397 1082h0M1400 1079h0M1402 1079h0M1412 1075h0M1423 1075h0M1428 1082h0M1430 1057h0M1446 1073h0M1448 1079h0M1452 1055h0M1457 1065h0M1458 1075h0M1459 1080h0M1461 1060h0M1463 1074h0M1466 1060h0M1467 1069h0M1468 1062h0M1477 1075h0M1480 1076h0M1481 1072h0M1495 1054h0M1499 1079h0M1501 1058h0M1504 1080h0M1514 1075h0M1527 1073h0"/><path stroke="#73fba9" d="M1256 1049h0M1262 1038h0M1268 1039h0M1265 1066h0M1272 1039h0M1288 1049h0M1296 1054h0M1299 1061h0M1305 1055h0M1306 1068h0M1307 1062h0M1308 1064h0M1310 1068h0M1317 1059h0M1319 1051h0M1322 1056h0M1323 1057h0M1323 1062h0M1328 1058h0M1333 1057h0M1336 1058h0M1338 1056h0M1338 1071h0M1338 1076h0M1343 1072h0M1344 1064h0M1352 1059h0M1353 1071h0M1356 1063h0M1357 1060h0M1357 1072h0M1361 1067h0M1365 1074h0M1370 1068h0M1376 1079h0M1384 1083h0M1389 1069h0M1393 1084h0M1393 1060h0M1396 1061h0M1402 1060h0M1405 1077h0M1407 1080h0M1410 1065h0M1413 1080h0M1415 1068h0M1417 1070h0M1419 1082h0M1419 1071h0M1421 1068h0M1425 1062h0M1433 1062h0M1433 1060h0M1436 1062h0M1437 1063h0M1444 1079h0M1445 1068h0M1452 1069h0M1465 1065h0M1469 1073h0M1475 1058h0M1475 1055h0M1479 1079h0M1482 1056h0M1483 1071h0M1484 1055h0M1488 1065h0M1490 1063h0M1491 1061h0M1493 1079h0M1494 1061h0M1498 1058h0M1500 1059h0M1507 1057h0M1508 1070h0M1511 1057h0M1516 1076h0M1517 1062h0M1519 1056h0M1520 1079h0M1521 1074h0M1523 1069h0M1526 1058h0M1529 1073h0M1532 1078h0"/><path stroke="#8dfb92" d="M1272 1067h0M1285 1041h0M1284 1063h0M1291 1058h0M1296 1066h0M1302 1044h0M1328 1052h0M1329 1067h0M1334 1057h0M1342 1067h0M1345 1074h0M1351 1074h0M1358 1068h0M1362 1075h0M1370 1067h0M1373 1073h0M1377 1061h0M1381 1059h0M1380 1082h0M1382 1080h0M1385 1070h0M1386 1069h0M1391 1070h0M1395 1082h0M1399 1071h0M1403 1074h0M1407 1062h0M1409 1064h0M1414 1071h0M1422 1074h0M1424 1059h0M1426 1073h0M1439 1076h0M1439 1074h0M1443 1056h0M1448 1077h0M1450 1071h0M1455 1064h0M1461 1082h0M1471 1074h0M1473 1069h0M1473 1082h0M1486 1078h0M1497 1064h0M1505 1067h0M1506 1061h0M1510 1080h0M1515 1074h0M1523 1066h0M1525 1055h0M1530 1073h0"/><path stroke="#a6fb79" d="M1388 1075h0M1434 1070h0M1441 1074h0M1512 1081h0"/><path stroke="#00fceb" d="M1260 1049h0M1294 1034h0M1309 1043h0M1330 1047h0M1331 1038h0M1364 1044h0M1377 1035h0M1386 1047h0M1392 1044h0M1394 1043h0M1410 1049h0M1418 1045h0M1425 1040h0M1442 1045h0"/><path stroke="#00fdff" d="M1263 1047h0M1266 1046h0M1271 1041h0M1276 1036h0M1280 1040h0M1281 1037h0M1289 1046h0M1292 1040h0M1297 1036h0M1300 1043h0M1303 1045h0M1306 1036h0M1319 1035h0M1327 1039h0M1336 1041h0M1340 1049h0M1345 1045h0M1350 1038h0M1354 1042h0M1357 1048h0M1360 1043h0M1374 1041h0M1381 1039h0M1382 1035h0M1389 1042h0M1399 1034h0M1405 1043h0M1415 1035h0M1421 1043h0M1426 1042h0M1432 1047h0M1437 1039h0M1439 1037h0M1445 1043h0M1450 1045h0M1457 1043h0M1458 1047h0M1469 1045h0M1471 1048h0M1476 1050h0"/><path stroke="#00e9ff" d="M1268 1037h0M1283 1035h0M1314 1049h0M1316 1041h0M1324 1038h0M1343 1040h0M1349 1041h0M1368 1047h0M1371 1041h0M1402 1047h0M1408 1041h0M1432 1039h0M1452 1043h0M1462 1046h0M1466 1041h0M1473 1049h0"/><path stroke="#00c1ff" d="M1479 1093h0M1482 1093h0M1484 1095h0M1485 1090h0M1490 1099h0M1492 1099h0M1495 1108h0M1498 1095h0M1502 1097h0M1501 1086h0M1509 1089h0M1513 1103h0M1517 1105h0M1530 1099h0"/><path stroke="#00acff" d="M1482 1097h0"/><path stroke="#00d5ff" d="M1489 1100h0M1497 1104h0M1501 1104h0M1506 1096h0M1508 1101h0M1514 1096h0M1516 1097h0M1523 1087h0M1525 1098h0M1525 1082h0M1531 1090h0M1533 1088h0M1539 1077h0M1543 1094h0M1544 1079h0M1551 1096h0M1551 1085h0M1559 1091h0"/><path stroke="#00e9ff" d="M1506 1101h0M1516 1087h0M1522 1092h0M1539 1095h0M1541 1101h0M1546 1098h0M1547 1085h0M1555 1087h0M1555 1080h0M1558 1076h0M1568 1089h0M1570 1083h0M1573 1080h0M1580 1080h0M1594 1094h0"/><path stroke="#00fdff" d="M1520 1089h0M1529 1086h0M1534 1081h0M1553 1091h0M1563 1078h0M1561 1093h0M1562 1096h0M1566 1084h0M1576 1080h0M1573 1095h0M1583 1081h0M1587 1100h0M1594 1082h0M1599 1095h0"/><path stroke="#00fceb" d="M1580 1080h0M1582 1088h0M1582 1094h0M1587 1085h0M1586 1096h0M1593 1092h0M1596 1091h0M1598 1087h0"/><path stroke="#a6fb79" d="M1596 1135h0M1601 1159h0M1561 1118h0M1565 1147h0M1560 1144h0M1616 1149h0M1559 1144h0M1577 1113h0M1560 1114h0M1575 1142h0M1587 1122h0M1567 1151h0M1557 1136h0M1602 1149h0M1563 1142h0M1586 1137h0M1613 1155h0M1623 1122h0M1563 1143h0M1596 1150h0M1579 1139h0M1566 1151h0M1574 1131h0M1573 1157h0M1605 1140h0M1578 1159h0M1566 1117h0M1577 1153h0M1584 1130h0M1624 1136h0M1622 1141h0M1599 1143h0M1568 1122h0M1615 1138h0M1623 1148h0M1582 1150h0M1618 1143h0M1588 1143h0M1598 1153h0M1593 1136h0M1639 1130h0M1635 1139h0M1634 1129h0M1637 1134h0M1607 1130h0M1615 1142h0M1617 1150h0M1607 1149h0M1568 1152h0"/><path stroke="#8dfb92" d="M1610 1103h0M1584 1129h0M1563 1119h0M1630 1110h0M1626 1109h0M1591 1140h0M1596 1141h0M1556 1132h0M1609 1133h0M1629 1134h0M1623 1133h0M1599 1116h0M1566 1112h0M1605 1137h0M1615 1152h0M1604 1136h0M1557 1115h0M1624 1102h0M1588 1143h0M1605 1130h0M1558 1125h0M1602 1147h0M1609 1097h0M1585 1154h0M1572 1141h0M1621 1137h0M1640 1128h0M1580 1104h0M1604 1116h0M1622 1112h0M1557 1124h0M1593 1127h0M1636 1135h0M1580 1151h0M1590 1121h0M1616 1121h0M1562 1127h0M1582 1131h0M1638 1124h0M1598 1117h0M1600 1125h0M1584 1123h0M1583 1101h0M1633 1116h0M1618 1108h0M1632 1109h0M1622 1098h0M1630 1116h0M1627 1126h0M1623 1127h0M1581 1139h0M1609 1152h0M1596 1120h0M1603 1107h0M1567 1107h0M1560 1115h0M1571 1144h0M1574 1099h0M1598 1098h0M1565 1150h0M1566 1126h0M1564 1119h0M1584 1128h0M1625 1113h0M1605 1135h0M1568 1132h0M1598 1132h0M1577 1114h0M1602 1121h0M1566 1111h0"/><path stroke="#73fba9" d="M1567 1129h0M1605 1119h0M1613 1153h0M1555 1123h0M1563 1131h0M1633 1125h0M1604 1105h0M1636 1110h0M1615 1102h0M1640 1127h0M1609 1118h0M1592 1094h0M1608 1099h0M1597 1105h0M1573 1118h0M1583 1104h0M1637 1108h0M1562 1108h0M1635 1126h0M1609 1099h0M1591 1121h0M1602 1100h0M1611 1118h0M1614 1095h0M1600 1093h0M1571 1109h0M1575 1131h0M1609 1120h0M1594 1098h0M1607 1111h0M1622 1128h0M1607 1099h0M1589 1108h0M1620 1096h0M1583 1116h0M1559 1122h0M1581 1098h0M1597 1124h0M1622 1105h0"/><path stroke="#befb5e" d="M1609 1157h0M1592 1152h0"/><path stroke="#55fbc0" d="M1621 1104h0M1619 1103h0M1592 1128h0M1615 1101h0M1601 1092h0M1633 1107h0M1607 1101h0M1613 1095h0M1638 1115h0M1574 1110h0"/><path stroke="#00e9ff" d="M1491 1149h0M1493 1155h0M1496 1150h0M1499 1150h0M1500 1159h0M1504 1149h0M1506 1147h0M1507 1160h0M1510 1158h0M1513 1153h0M1515 1160h0M1519 1148h0M1519 1154h0M1522 1160h0M1525 1150h0"/><path stroke="#00fdff" d="M1529 1149h0M1530 1163h0M1532 1152h0M1536 1151h0M1538 1151h0M1539 1155h0M1542 1158h0M1543 1157h0M1545 1165h0M1550 1157h0M1553 1154h0M1554 1157h0M1556 1165h0M1558 1167h0M1559 1153h0M1562 1159h0M1563 1152h0M1568 1154h0M1572 1158h0"/><path stroke="#00fceb" d="M1572 1154h0M1578 1164h0M1578 1162h0M1580 1155h0M1583 1158h0M1585 1156h0M1586 1156h0M1590 1159h0M1593 1160h0M1594 1156h0M1596 1145h0"/><path stroke="#31fcd6" d="M1600 1160h0M1602 1149h0M1605 1157h0M1605 1146h0M1608 1151h0"/><path stroke="#fffb00" d="M1107 1127h0M1108 1123h0M1114 1119h0M1122 1115h0M1123 1119h0M1131 1119h0M1133 1124h0M1139 1123h0M1144 1121h0M1149 1126h0M1151 1119h0M1152 1122h0M1165 1115h0M1182 1115h0M1189 1114h0M1203 1120h0M1210 1122h0M1217 1124h0M1252 1120h0M1307 1117h0"/><path stroke="#d4fb41" d="M1109 1140h0M1113 1142h0M1117 1125h0M1141 1141h0M1155 1123h0M1157 1138h0M1160 1123h0M1168 1130h0M1170 1132h0M1175 1128h0M1180 1128h0M1191 1131h0M1195 1135h0M1199 1123h0M1200 1134h0M1206 1135h0M1209 1143h0M1213 1137h0M1221 1119h0M1227 1143h0M1233 1130h0M1239 1128h0M1263 1124h0M1264 1127h0M1268 1119h0M1269 1129h0M1277 1135h0M1279 1123h0M1282 1145h0M1284 1121h0M1287 1125h0M1290 1123h0M1299 1119h0M1299 1136h0M1302 1120h0M1324 1121h0M1330 1120h0M1336 1116h0M1339 1116h0M1346 1127h0M1348 1122h0M1351 1128h0M1354 1133h0M1375 1121h0M1383 1116h0M1391 1122h0M1394 1127h0M1397 1116h0M1406 1117h0M1411 1114h0M1415 1121h0M1441 1119h0M1456 1116h0M1462 1122h0M1473 1118h0M1481 1129h0M1533 1115h0M1542 1126h0"/><path stroke="#befb5e" d="M1111 1134h0M1127 1140h0M1166 1142h0M1173 1130h0M1178 1141h0M1185 1134h0M1189 1136h0M1206 1137h0M1215 1136h0M1223 1125h0M1230 1126h0M1235 1139h0M1236 1130h0M1237 1137h0M1243 1129h0M1244 1138h0M1248 1137h0M1251 1135h0M1254 1122h0M1259 1142h0M1271 1132h0M1273 1131h0M1276 1132h0M1303 1127h0M1304 1121h0M1309 1121h0M1310 1135h0M1313 1136h0M1321 1137h0M1336 1123h0M1342 1140h0M1363 1122h0M1372 1126h0M1383 1132h0M1389 1120h0M1403 1130h0M1410 1122h0M1419 1125h0M1427 1120h0M1431 1130h0M1434 1123h0M1446 1120h0M1447 1131h0M1449 1119h0M1453 1125h0M1459 1121h0M1469 1117h0M1473 1133h0M1479 1119h0M1483 1128h0M1486 1128h0M1494 1119h0M1498 1129h0M1517 1130h0M1527 1119h0M1530 1132h0M1536 1123h0M1541 1125h0M1545 1123h0"/><path stroke="#eafb1e" d="M1118 1123h0M1120 1122h0M1125 1117h0M1136 1123h0M1137 1141h0M1146 1122h0M1147 1133h0M1154 1139h0M1162 1117h0M1171 1127h0M1179 1119h0M1186 1127h0M1194 1121h0M1220 1120h0M1226 1124h0M1229 1124h0M1256 1125h0M1290 1123h0M1297 1115h0M1325 1121h0M1365 1115h0M1370 1127h0M1385 1116h0M1386 1115h0M1442 1117h0"/><path stroke="#ffe800" d="M1128 1119h0M1160 1117h0"/><path stroke="#8dfb92" d="M1134 1140h0M1241 1144h0M1292 1142h0M1333 1140h0M1342 1141h0M1354 1134h0M1361 1138h0M1364 1137h0M1370 1142h0M1377 1136h0M1378 1142h0M1395 1140h0M1401 1137h0M1406 1136h0M1408 1139h0M1414 1138h0M1424 1140h0M1451 1143h0M1466 1141h0M1467 1135h0M1479 1140h0M1486 1140h0M1491 1135h0M1499 1129h0M1503 1135h0M1504 1117h0M1514 1130h0M1546 1123h0M1547 1122h0"/><path stroke="#a6fb79" d="M1196 1136h0M1203 1138h0M1216 1133h0M1247 1136h0M1258 1135h0M1260 1139h0M1266 1144h0M1280 1127h0M1286 1140h0M1294 1141h0M1314 1136h0M1317 1133h0M1318 1133h0M1320 1131h0M1326 1119h0M1328 1139h0M1334 1135h0M1344 1143h0M1350 1131h0M1356 1142h0M1359 1135h0M1369 1139h0M1379 1126h0M1392 1143h0M1417 1140h0M1422 1133h0M1423 1135h0M1430 1132h0M1433 1131h0M1437 1134h0M1439 1136h0M1444 1127h0M1454 1128h0M1461 1133h0M1464 1124h0M1471 1119h0M1489 1136h0M1496 1124h0M1501 1121h0M1505 1123h0M1511 1131h0M1513 1128h0M1516 1131h0M1519 1133h0M1523 1141h0M1532 1135h0M1537 1121h0M1539 1125h0"/><path stroke="#73fba9" d="M1400 1141h0M1426 1139h0M1476 1142h0M1493 1140h0M1509 1139h0M1520 1136h0M1523 1142h0M1527 1141h0"/><path stroke="#55fbc0" d="M1548 1137h0"/><path stroke="#0229d6" d="M1204 1107h0M1208 1110h0M1217 1119h0M1222 1115h0M1228 1104h0M1238 1124h0M1246 1119h0M1252 1115h0M1252 1120h0M1274 1116h0M1328 1128h0"/><path stroke="#032eeb" d="M1210 1120h0M1228 1124h0M1239 1106h0M1260 1129h0M1264 1114h0M1270 1113h0M1278 1117h0M1284 1130h0M1306 1126h0M1314 1136h0M1320 1132h0M1333 1121h0M1347 1127h0"/><path stroke="#0333ff" d="M1291 1119h0M1292 1126h0M1297 1118h0M1305 1123h0M1312 1134h0M1337 1130h0M1343 1123h0M1364 1139h0M1382 1138h0M1392 1130h0M1397 1139h0M1413 1136h0"/><path stroke="#023eff" d="M1351 1132h0M1353 1132h0M1363 1125h0M1370 1136h0M1373 1142h0M1380 1131h0M1403 1146h0M1406 1136h0M1442 1131h0"/><path stroke="#0052ff" d="M1389 1143h0M1415 1141h0M1422 1135h0M1424 1135h0M1429 1134h0M1435 1133h0M1450 1120h0M1458 1129h0"/><path stroke="#0069ff" d="M1445 1125h0M1448 1136h0"/><path stroke="#ffe800" d="M1086 1171h0M1093 1172h0M1100 1156h0M1103 1168h0M1106 1166h0M1113 1160h0M1114 1175h0M1116 1177h0M1120 1182h0M1128 1166h0M1127 1181h0M1134 1170h0M1138 1184h0"/><path stroke="#fffb00" d="M1144 1178h0M1151 1166h0M1153 1166h0M1152 1186h0M1158 1187h0M1163 1179h0M1165 1184h0M1174 1170h0M1176 1170h0M1183 1174h0M1183 1192h0M1190 1176h0M1192 1177h0M1197 1177h0M1199 1191h0M1207 1180h0M1210 1183h0M1213 1182h0M1217 1188h0M1220 1196h0M1226 1199h0M1232 1181h0M1232 1199h0M1240 1185h0M1242 1192h0M1244 1197h0M1253 1192h0M1253 1202h0M1259 1195h0M1263 1193h0M1271 1189h0M1272 1203h0M1275 1208h0M1280 1206h0M1285 1195h0M1290 1202h0M1292 1200h0M1296 1200h0M1301 1212h0M1307 1204h0M1311 1202h0M1313 1208h0M1318 1208h0M1323 1206h0M1324 1214h0M1331 1212h0M1334 1211h0"/><path stroke="#fffb00" d="M1192 1181h0M1207 1179h0M1226 1184h0M1235 1183h0M1241 1180h0M1260 1181h0M1272 1183h0M1277 1183h0M1298 1180h0"/><path stroke="#fffb00" d="M1252 1204h0M1262 1202h0M1268 1208h0M1280 1209h0M1300 1205h0M1306 1208h0M1316 1203h0M1333 1204h0"/><path stroke="#eafb1e" d="M1415 1182h0M1418 1188h0M1426 1180h0M1433 1175h0M1441 1175h0M1445 1177h0M1452 1174h0M1461 1176h0M1463 1171h0"/><path stroke="#d4fb41" d="M1475 1176h0M1480 1178h0M1485 1176h0M1492 1169h0M1498 1176h0M1508 1163h0M1510 1168h0M1518 1170h0M1526 1166h0"/><path stroke="#ffd300" d="M1088 1151h0M1094 1141h0M1094 1156h0M1097 1157h0M1105 1149h0M1101 1163h0M1112 1147h0M1111 1162h0M1111 1168h0M1118 1162h0M1118 1168h0M1128 1155h0M1131 1158h0M1128 1168h0M1134 1162h0M1138 1167h0M1144 1159h0M1144 1172h0M1143 1176h0M1149 1170h0M1151 1174h0M1161 1167h0M1156 1179h0M1163 1173h0M1163 1179h0"/><path stroke="#ffe800" d="M1169 1178h0M1173 1182h0M1169 1191h0M1182 1179h0M1176 1192h0"/><path stroke="#0229d6" d="M1090 1108h0M1097 1120h0"/></g><path d="M238.2 1441.5L1318 35.3" stroke="#ff2600" stroke-width="5.5" fill="none" clip-path="url(#cp)"/>
<g><path d="M1361.5 66.5V484.0H1768" stroke="#c8c8c8" stroke-width="1.6" fill="none"/><path d="M1361.5 484.0h5M1361.5 426.9h5M1361.5 369.8h5M1361.5 312.7h5M1361.5 255.6h5M1361.5 198.5h5M1361.5 141.4h5M1361.5 84.3h5M1481.6 484.0v-5M1601.7 484.0v-5M1721.8 484.0v-5" stroke="#b8b8b8" stroke-width="1.4" fill="none"/><g font-size="15.5" fill="#4a4a4a"><text x="1354.5" y="489.5" text-anchor="end">0</text><text x="1354.5" y="432.4" text-anchor="end">50</text><text x="1354.5" y="375.3" text-anchor="end">100</text><text x="1354.5" y="318.2" text-anchor="end">150</text><text x="1354.5" y="261.1" text-anchor="end">200</text><text x="1354.5" y="204.0" text-anchor="end">250</text><text x="1354.5" y="146.9" text-anchor="end">300</text><text x="1354.5" y="89.8" text-anchor="end">350</text><text x="1361.5" y="509.5" text-anchor="middle">0</text><text x="1481.6" y="509.5" text-anchor="middle">0.1</text><text x="1601.7" y="509.5" text-anchor="middle">0.2</text><text x="1721.8" y="509.5" text-anchor="middle">0.3</text></g><path d="M1418.8 390.4L1433.6 372.1L1451.6 352.7L1478.0 323.0L1505.6 287.6L1538.0 252.2L1565.7 228.2L1596.9 204.2L1623.3 184.8L1656.5 156.2L1665.4 188.2L1635.3 224.8L1608.9 254.5L1582.5 292.1L1566.9 309.3L1552.5 337.8L1538.0 362.9L1523.6 372.1L1504.4 390.4L1487.6 388.1L1469.6 388.1L1466.0 374.4L1445.6 390.4L1418.8 408.6Z" fill="#000" stroke="#000" stroke-width="5" stroke-linejoin="round"/><path d="M1671.4 158.5h0M1676.2 150.5h0M1681.0 143.7h0M1685.8 138.0h0M1690.6 128.8h0M1695.4 120.0h0M1702.6 108.7h0M1661.1 175.7h0M1664.2 168.8h0M1669.0 164.2h0M1493.1 406.8h0M1505.6 397.2h0M1509.2 383.5h0M1515.2 378.9h0M1497.2 392.6h0M1481.6 392.6h0M1474.4 394.9h0M1469.6 392.6h0M1563.3 342.4h0M1574.1 339.0h0M1568.1 326.4h0M1572.9 317.3h0M1607.7 267.0h0M1613.7 259.0h0M1620.9 247.6h0M1628.1 239.6h0M1637.7 227.1h0M1644.9 215.6h0M1653.3 206.5h0M1659.3 198.5h0M1529.6 368.7h0M1544.1 356.1h0M1553.7 347.0h0M1535.6 374.4h0M1521.2 378.9h0M1524.5 347.5h0M1548.2 326.2h0M1594.3 265.7h0M1484.0 383.9h0M1528.3 334.5h0M1661.0 213.3h0M1632.3 241.2h0M1596.7 265.9h0M1596.0 288.0h0M1575.9 303.6h0M1602.6 257.7h0M1618.2 258.3h0M1535.9 321.2h0M1637.5 236.1h0M1611.1 273.7h0M1610.3 275.7h0M1552.8 327.7h0M1561.7 323.1h0M1639.9 222.6h0M1506.1 355.5h0M1655.5 217.6h0M1594.5 272.6h0M1573.0 295.9h0M1544.8 329.0h0M1586.9 297.9h0M1604.5 281.6h0M1635.9 253.0h0M1602.5 260.7h0M1636.6 251.5h0M1644.6 232.1h0M1610.2 254.7h0M1631.4 245.0h0M1532.9 325.0h0M1635.4 253.4h0M1497.5 369.7h0M1555.5 305.7h0M1534.5 344.4h0M1638.8 222.1h0M1592.3 267.1h0M1611.0 257.5h0M1640.3 248.5h0M1572.7 314.4h0M1537.4 321.1h0M1589.6 269.2h0M1517.2 350.5h0M1591.6 271.1h0M1489.2 379.7h0M1538.1 346.6h0M1643.1 227.8h0M1564.5 308.0h0M1597.6 278.3h0M1582.4 293.8h0M1651.1 224.0h0M1559.3 319.0h0M1524.4 340.3h0M1657.8 218.0h0M1580.4 277.6h0M1556.4 317.7h0M1485.2 376.1h0M1595.5 264.4h0" stroke="#000" stroke-width="6.5" stroke-linecap="round" fill="none"/><path d="M1361.5 466.0L1767.4 73.6" stroke="#f0323c" stroke-width="1.8" fill="none"/></g>
<g stroke="#222" fill="none">
<rect x="238.2" y="38.5" width="1541.1" height="1481.0" stroke-width="6.5"/>
<path d="M430.8 1519.5v-18M430.8 38.5v18M623.5 1519.5v-18M623.5 38.5v18M816.1 1519.5v-18M816.1 38.5v18M1008.8 1519.5v-18M1008.8 38.5v18M1201.4 1519.5v-18M1201.4 38.5v18M1394.0 1519.5v-18M1394.0 38.5v18M1586.7 1519.5v-18M1586.7 38.5v18M238.2 1272.7h18M1779.3 1272.7h-18M238.2 1025.8h18M1779.3 1025.8h-18M238.2 779.0h18M1779.3 779.0h-18M238.2 532.2h18M1779.3 532.2h-18M238.2 285.3h18M1779.3 285.3h-10" stroke-width="5.5"/>
</g>
<g fill="#222" font-weight="bold" font-size="56">
<text x="238.2" y="1595" text-anchor="middle">0</text>
<text x="430.8" y="1595" text-anchor="middle">0.05</text>
<text x="623.5" y="1595" text-anchor="middle">0.1</text>
<text x="816.1" y="1595" text-anchor="middle">0.15</text>
<text x="1008.8" y="1595" text-anchor="middle">0.2</text>
<text x="1201.4" y="1595" text-anchor="middle">0.25</text>
<text x="1394.0" y="1595" text-anchor="middle">0.3</text>
<text x="1586.7" y="1595" text-anchor="middle">0.35</text>
<text x="1779.3" y="1595" text-anchor="middle">0.4</text>
<text x="218" y="1540.0" text-anchor="end">0</text>
<text x="218" y="1293.2" text-anchor="end">50</text>
<text x="218" y="1046.3" text-anchor="end">100</text>
<text x="218" y="799.5" text-anchor="end">150</text>
<text x="218" y="552.7" text-anchor="end">200</text>
<text x="218" y="305.8" text-anchor="end">250</text>
<text x="218" y="59.0" text-anchor="end">300</text>
</g>
<text x="1009" y="1667" text-anchor="middle" font-weight="bold" font-size="57" fill="#222">C/<tspan font-weight="normal" font-family="DejaVu Sans,sans-serif" font-size="60">√</tspan>G</text>
<text transform="translate(74,780) rotate(-90)" text-anchor="middle" font-weight="bold" font-size="57" fill="#222">D<tspan font-size="43.5" dy="28">50</tspan><tspan dy="-28"> (</tspan><tspan font-weight="normal" font-style="italic" font-family="DejaVu Serif,serif" font-size="50">μ</tspan>m)</text>
<g fill="#111" font-weight="bold" font-size="62.5"><text x="277" y="161.5" textLength="410" lengthAdjust="spacingAndGlyphs">slope 1016.37</text><text x="275" y="236.5" textLength="414" lengthAdjust="spacingAndGlyphs">intercept 15.8</text></g>
<rect x="1879.0" y="40.00" width="91.5" height="37.48" fill="#941100"/>
<rect x="1879.0" y="76.97" width="91.5" height="37.48" fill="#ab1500"/>
<rect x="1879.0" y="113.95" width="91.5" height="37.48" fill="#c21a00"/>
<rect x="1879.0" y="150.93" width="91.5" height="37.48" fill="#d81e00"/>
<rect x="1879.0" y="187.90" width="91.5" height="37.48" fill="#ed2200"/>
<rect x="1879.0" y="224.88" width="91.5" height="37.48" fill="#ff2600"/>
<rect x="1879.0" y="261.85" width="91.5" height="37.48" fill="#ff3400"/>
<rect x="1879.0" y="298.82" width="91.5" height="37.48" fill="#ff4c00"/>
<rect x="1879.0" y="335.80" width="91.5" height="37.48" fill="#ff6400"/>
<rect x="1879.0" y="372.78" width="91.5" height="37.48" fill="#ff7c00"/>
<rect x="1879.0" y="409.75" width="91.5" height="37.48" fill="#ff9300"/>
<rect x="1879.0" y="446.73" width="91.5" height="37.48" fill="#ffa900"/>
<rect x="1879.0" y="483.70" width="91.5" height="37.48" fill="#ffbf00"/>
<rect x="1879.0" y="520.67" width="91.5" height="37.48" fill="#ffd300"/>
<rect x="1879.0" y="557.65" width="91.5" height="37.48" fill="#ffe800"/>
<rect x="1879.0" y="594.62" width="91.5" height="37.48" fill="#fffb00"/>
<rect x="1879.0" y="631.60" width="91.5" height="37.48" fill="#eafb1e"/>
<rect x="1879.0" y="668.58" width="91.5" height="37.48" fill="#d4fb41"/>
<rect x="1879.0" y="705.55" width="91.5" height="37.48" fill="#befb5e"/>
<rect x="1879.0" y="742.52" width="91.5" height="37.48" fill="#a6fb79"/>
<rect x="1879.0" y="779.50" width="91.5" height="37.48" fill="#8dfb92"/>
<rect x="1879.0" y="816.48" width="91.5" height="37.48" fill="#73fba9"/>
<rect x="1879.0" y="853.45" width="91.5" height="37.48" fill="#55fbc0"/>
<rect x="1879.0" y="890.43" width="91.5" height="37.48" fill="#31fcd6"/>
<rect x="1879.0" y="927.40" width="91.5" height="37.48" fill="#00fceb"/>
<rect x="1879.0" y="964.38" width="91.5" height="37.48" fill="#00fdff"/>
<rect x="1879.0" y="1001.35" width="91.5" height="37.48" fill="#00e9ff"/>
<rect x="1879.0" y="1038.33" width="91.5" height="37.48" fill="#00d5ff"/>
<rect x="1879.0" y="1075.30" width="91.5" height="37.48" fill="#00c1ff"/>
<rect x="1879.0" y="1112.28" width="91.5" height="37.48" fill="#00acff"/>
<rect x="1879.0" y="1149.25" width="91.5" height="37.48" fill="#0096ff"/>
<rect x="1879.0" y="1186.23" width="91.5" height="37.48" fill="#0080ff"/>
<rect x="1879.0" y="1223.20" width="91.5" height="37.48" fill="#0069ff"/>
<rect x="1879.0" y="1260.17" width="91.5" height="37.48" fill="#0052ff"/>
<rect x="1879.0" y="1297.15" width="91.5" height="37.48" fill="#023eff"/>
<rect x="1879.0" y="1334.12" width="91.5" height="37.48" fill="#0333ff"/>
<rect x="1879.0" y="1371.10" width="91.5" height="37.48" fill="#032eeb"/>
<rect x="1879.0" y="1408.08" width="91.5" height="37.48" fill="#0229d6"/>
<rect x="1879.0" y="1445.05" width="91.5" height="37.48" fill="#0224c0"/>
<rect x="1879.0" y="1482.03" width="91.5" height="37.48" fill="#011eaa"/>
<rect x="1879.0" y="40.0" width="91.5" height="1479.0" fill="none" stroke="#222" stroke-width="1.6"/>
<g fill="#222" font-weight="bold" font-size="50.5">
<text x="1984.5" y="61.0">0.06</text>
<text x="1984.5" y="245.9">0.46</text>
<text x="1984.5" y="430.8">1.25</text>
<text x="1984.5" y="615.6">2.25</text>
<text x="1984.5" y="800.5">3.31</text>
<text x="1984.5" y="985.4">4.28</text>
<text x="1984.5" y="1170.2">5.06</text>
<text x="1984.5" y="1355.1">5.63</text>
<text x="1984.5" y="1540.0">5.96</text>
</g>
<path d="M1970.5 224.9h-16M1970.5 409.8h-16M1970.5 594.6h-16M1970.5 779.5h-16M1970.5 964.4h-16M1970.5 1149.2h-16M1970.5 1334.1h-16" stroke="#222" stroke-width="2" fill="none"/>
<text transform="translate(2146,780) rotate(-90)" text-anchor="middle" font-weight="bold" font-size="49" textLength="221" lengthAdjust="spacingAndGlyphs" fill="#222">Depth (m)</text>
</svg></body></html>
